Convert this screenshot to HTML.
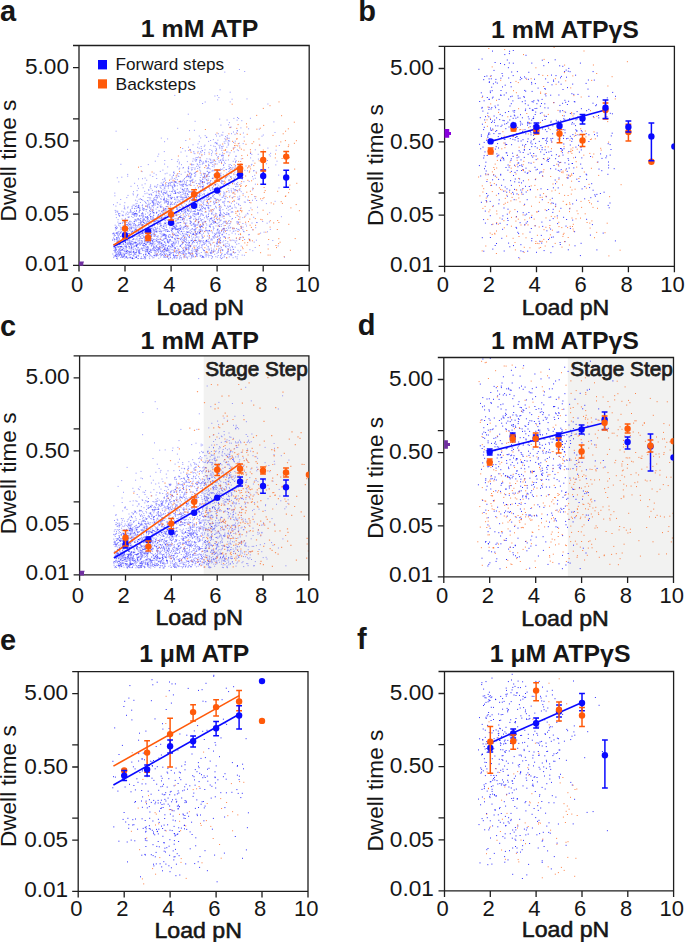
<!DOCTYPE html>
<html><head><meta charset="utf-8"><style>html,body{margin:0;padding:0;background:#fff;width:685px;height:942px;overflow:hidden}svg{display:block}</style></head>
<body><svg width="685" height="942" viewBox="0 0 685 942" font-family="'Liberation Sans', sans-serif" fill="#161616"><clipPath id="clipa"><rect x="79.0" y="45.5" width="230.2" height="219.89999999999998"/></clipPath>
<clipPath id="clipb"><rect x="444.6" y="46.4" width="229.79999999999995" height="219.9"/></clipPath>
<clipPath id="clipc"><rect x="79.6" y="355.8" width="229.29999999999998" height="218.99999999999994"/></clipPath>
<clipPath id="clipd"><rect x="443.8" y="357.5" width="229.7" height="219.39999999999998"/></clipPath>
<clipPath id="clipe"><rect x="78.2" y="671.7" width="229.8" height="219.69999999999993"/></clipPath>
<clipPath id="clipf"><rect x="444.5" y="671.5" width="229.10000000000002" height="219.39999999999998"/></clipPath>
<rect x="203.7" y="355.8" width="105.2" height="219.0" fill="#f2f2f1"/>
<rect x="567.8" y="357.5" width="105.7" height="219.4" fill="#f2f2f1"/>
<g clip-path="url(#clipa)">
<path d="M203.9 194h1M148.8 206.6h1M142.6 245.3h1M127.8 237.4h1M127.4 214.5h1M250.3 208h1M167.2 231.5h1M180.3 188.1h1M222.9 236.8h1M156.4 254.1h1M196.1 197.6h1M227.3 254.1h1M165 236.6h1M216.5 169.5h1M210.6 218.3h1M115.2 251h1M177.2 238.1h1M156.8 207.4h1M124 241.6h1M198.6 193.5h1M223 165.4h1M206.5 183.4h1M208.3 208.8h1M219.7 220.2h1M135.1 200.2h1M163.1 246.4h1M186.5 189.1h1M206.2 177h1M208.6 168.4h1M169 231.5h1M115.2 249.3h1M200.1 231.2h1M210.7 253.5h1M161.8 240.4h1M146.7 249.9h1M184.8 253.2h1M171.9 227.1h1M130.1 254.5h1M158.9 223.5h1M256.1 200.5h1M194.6 219h1M147.7 236.9h1M207.6 207.5h1M119.5 252.8h1M215.1 198.5h1M204.1 208.4h1M138.6 199.3h1M168.8 210.9h1M249.9 118.3h1M196.8 233.9h1M139.9 202.5h1M213.3 161.8h1M220.1 233h1M200.4 186.1h1M204.5 204.9h1M198.2 218.8h1M222.2 181.1h1M170.4 194h1M189.9 221.2h1M213.6 221.8h1M190.2 198.7h1M230.9 203.2h1M197.3 201.6h1M163.4 199.1h1M156.7 222.2h1M179.9 192.5h1M164.2 223.4h1M172.1 197.6h1M254.7 247.5h1M172.1 187.6h1M157.4 249.6h1M236.4 186.6h1M134.5 242.2h1M160.8 232.1h1M240.7 191.7h1M212.2 243h1M210.9 197.9h1M234.7 166.7h1M263.6 232.2h1M208.9 226.6h1M130.4 234.1h1M174.2 186.6h1M195.7 197.7h1M195.3 237.3h1M208.4 165.3h1M139 250.9h1M185.1 217.1h1M115.9 233.5h1M206.2 205.3h1M149.5 187.2h1M248.1 128.8h1M152.7 192.5h1M249.4 249.7h1M166.5 256.8h1M209.4 219h1M212.2 212h1M160.4 201.8h1M120.8 256h1M192.7 158.8h1M202.8 215.4h1M173.8 185.9h1M186.1 196.7h1M129.6 244.2h1M156 191.2h1M115.8 228.8h1M188.2 211.1h1M159.9 224.1h1M131.8 208.1h1M145.1 202.5h1M116.8 202.7h1M228.5 166.5h1M149 222.8h1M204 250.7h1M205.6 254.1h1M192.5 144.8h1M238.7 252h1M228.6 175.7h1M118.6 242.1h1M177.8 252h1M162.7 185.2h1M216 207.9h1M204.6 212.3h1M177 209h1M132.8 225.4h1M240.4 127.9h1M127.9 217.3h1M154.5 250.7h1M199.4 167.1h1M168.8 222.4h1M143.4 222.6h1M145.2 244.6h1M243.9 255.3h1M139.2 239.1h1M252 200.3h1M191.1 236.1h1M185 209.4h1M150.8 243.7h1M124.9 237.4h1M220.3 256.2h1M196.8 249.7h1M211.1 153.6h1M135.4 203.9h1M159.8 249.1h1M191.2 231.5h1M150.1 209.4h1M196.9 157.7h1M119.9 243.9h1M174.3 95.4h1M232.1 169h1M137.3 258.6h1M226.6 243.4h1M213.3 249.2h1M224.6 221.2h1M176.9 185.8h1M176.4 226.5h1M156.9 217.1h1M173.8 184.7h1M214.6 184.7h1M238.3 198.9h1M166.7 254.9h1M180.8 257.4h1M119.1 239.2h1M149.7 240.3h1M116.4 241.3h1M141.8 225.9h1M217.1 186.9h1M154.7 250.4h1M176.8 250.2h1M157.3 239.4h1M231.1 253.8h1M121.4 257.2h1M128.9 224.3h1M188.7 242.8h1M217.9 232.7h1M191.2 174.5h1M138.4 206.7h1M207.9 161.6h1M117.1 251.5h1M228.3 140.5h1M212.7 226.6h1M220.3 186.9h1M173.8 181.8h1M214.9 184.7h1M150.1 250.8h1M153.2 223.8h1M219.5 208.7h1M220.7 258.7h1M169.3 227.9h1M191.3 204.4h1M115.2 212.3h1M164.9 238.1h1M205.9 175.7h1M194.1 242.3h1M208.5 250.6h1M198.2 221.5h1M160.3 218.2h1M191.4 180.8h1M127.6 217.1h1M127.1 243.1h1M146.9 216.5h1M125.8 233.4h1M212 152h1M193 193h1M157.7 191.2h1M129.6 257.5h1M229.5 152.8h1M228.7 192.2h1M214.7 146.6h1M168.7 234.5h1M165.9 235.8h1M163.4 209.8h1M267.4 148.1h1M140.2 218.9h1M211 185.1h1M164.9 218h1M147.3 212.9h1M212.4 193.8h1M128.7 248.7h1M139.3 238.4h1M153.3 221.7h1M221.6 214.8h1M255.7 172h1M217.7 231.2h1M133.4 224.3h1M128.6 252.1h1M136 256.9h1M123.8 246.2h1M196.3 249.6h1M165 223.6h1M156.3 212.7h1M124.2 222.1h1M151.2 226.7h1M179.9 246.2h1M248.7 181.4h1M188.4 231.8h1M132.6 252.6h1M242.6 193.6h1M207.3 202.3h1M131.5 248.1h1M154.3 235.9h1M116 256.2h1M193 234.5h1M237.5 254.6h1M133.2 247.9h1M117.5 237.3h1M230.7 188.9h1M199.2 192.7h1M164.4 249.2h1M139.1 208.2h1M213.3 237.7h1M143.5 218.3h1M155.9 220.7h1M189 130.6h1M231.3 246.3h1M185.3 205.4h1M173 208.3h1M221 162.2h1M159.6 233.4h1M122.9 244.2h1M197.5 224.2h1M237.6 221.8h1M182.4 243.5h1M235.2 169.1h1M129 227.1h1M125 242.8h1M181.4 211.6h1M144.3 250.8h1M134.7 220.2h1M207.3 174.7h1M211.8 256.6h1M125.3 220.1h1M148.3 242.6h1M223.2 164.8h1M120.1 246.5h1M169.5 182.6h1M208.9 176.4h1M166.3 201.6h1M146 217.8h1M180.1 222.5h1M180.6 217.7h1M182.2 148.5h1M156.1 231.8h1M181.1 241.2h1M113.2 257.6h1M131.1 229h1M210 253.2h1M124.1 255.2h1M184.9 192.1h1M154.8 161.2h1M187.2 185.7h1M207.6 241.8h1M168.3 199.9h1M218.4 173.2h1M169.4 254.8h1M183.8 237.9h1M164.2 256h1M190.7 207.9h1M173.2 189.7h1M170.5 179.2h1M169 254.2h1M189.5 184.8h1M180.1 245.5h1M175.3 193h1M163.6 249.2h1M217.2 157.3h1M133.7 213.9h1M133.7 215.2h1M202.8 256.9h1M187.7 251.8h1M163.1 213.8h1M146.4 217.2h1M210.6 239.1h1M173.8 234.5h1M158.2 251.3h1M225 237.3h1M124.7 225.2h1M220 251.2h1M208.5 208h1M194.9 211.5h1M114.7 210.4h1M236.5 222.9h1M198.7 148.2h1M207.3 219.2h1M146.5 206h1M232.9 196.9h1M186.2 197.4h1M143.6 245.9h1M174.1 213.6h1M126.4 257.3h1M135.9 216.2h1M181 238.1h1M218.6 204.9h1M131.2 247.4h1M193.5 192.3h1M152 201.7h1M163.9 203h1M204.6 177.6h1M134.8 242h1M219.3 217.1h1M226.8 176.3h1M199 226.8h1M215 222.6h1M142.7 224.8h1M182.6 240h1M176.9 161.6h1M133.7 223.5h1M222.2 155.6h1M201.9 256h1M113.8 236.1h1M181.4 185.8h1M119.9 253.4h1M182.8 186.5h1M159.1 210.8h1M158.2 154.1h1M130.6 212.2h1M233.3 240.3h1M240.5 175.8h1M113.4 244.9h1M168.8 217.2h1M179.8 246h1M167.7 186.5h1M114.4 252.1h1M184 240.3h1M204.1 154.2h1M126.2 222.4h1M223.1 160.2h1M144.8 240.4h1M150.1 211.4h1M203.8 243.2h1M195.7 250.2h1M201.7 186.6h1M128.4 246.8h1M176.3 213.8h1M142.8 214h1M175.2 235.3h1M179.4 256.7h1M172.3 237.8h1M211.3 193.3h1M238.9 69.5h1M204.5 173.4h1M188.5 203h1M232.7 161.3h1M286.1 160.6h1M196.3 254.4h1M162.8 182.3h1M139.4 208.1h1M118.2 256.3h1M173.1 226h1M140.5 238.3h1M203.1 202.7h1M155.7 236.6h1M173.5 184.9h1M169.6 209.4h1M135.9 252.4h1M206.1 240.5h1M183.7 220.1h1M143.5 220h1M184.1 241.4h1M197.7 214.5h1M242.3 217.6h1M135.8 229.2h1M178 228.4h1M165 220.3h1M267 231.8h1M216.6 181.3h1M156.6 241.6h1M165.5 184.8h1M118.8 246.3h1M176.7 229.1h1M121.6 254.2h1M179.4 216.9h1M218.8 235.2h1M196.7 163.9h1M192.1 204.5h1M157.2 184.7h1M175.6 236.9h1M219.8 175.8h1M192.9 223.3h1M160.3 198.5h1M160.7 185.8h1M145.4 246.2h1M126.3 197.6h1M191.4 165.2h1M141.8 214h1M163.5 192.8h1M197.8 239h1M117 233.9h1M228.7 254.3h1M201.9 248.2h1M234 204.9h1M149.7 249.2h1M163.9 198.4h1M227.6 248.5h1M220.6 180.2h1M177.9 253.4h1M240.8 228.3h1M140 220.7h1M142.6 215.3h1M197 212.8h1M168 183.6h1M231.6 233.1h1M172.4 210.1h1M176.1 250.4h1M188.2 176.2h1M130.6 221.7h1M171 230.6h1M200.5 240.5h1M183.3 235.4h1M163.6 217.9h1M236.2 240.8h1M160.2 239.4h1M134.2 213.8h1M177.9 217.8h1M158.2 210.9h1M116.5 244.7h1M189.2 180.9h1M161.7 246.9h1M199.9 230h1M128.2 213h1M161.3 254.3h1M161.2 255.6h1M134.5 256.8h1M253.1 170.9h1M121.8 223.2h1M126.8 253.1h1M230.6 127.1h1M153.5 204h1M157.2 220.7h1M185.4 201.3h1M165.6 229.5h1M199.6 226.3h1M142.3 248.1h1M178.5 196.6h1M174.5 242.2h1M146 223h1M115.7 256.5h1M133.3 250h1M225.2 139.7h1M219.2 214.3h1M188.8 198.6h1M211.9 222.1h1M168.2 258.8h1M123.5 230.5h1M235.1 161.6h1M116.6 242.8h1M203.2 191h1M189.4 220.8h1M140.3 234.2h1M179.8 252.7h1M226.1 208.4h1M147.5 236.6h1M215.7 148.4h1M220.4 159.9h1M152.3 217.1h1M219 230.9h1M153.1 202.1h1M188.2 241h1M193.2 206.6h1M186.6 200.7h1M164.6 238.4h1M150.4 239.2h1M202.4 256.7h1M184 178.5h1M225.7 169.5h1M166.9 247.6h1M164.6 201.2h1M133.4 252.2h1M166.8 229.6h1M201.6 231.5h1M237 117.5h1M127 229.4h1M114.5 250.3h1M140.6 258.6h1M118.5 213.5h1M162.5 185.6h1M121.4 252.8h1M150.3 216.6h1M200.8 219.8h1M140.7 221.5h1M183.8 227.7h1M171.3 159.5h1M204.7 135.7h1M143.8 243.5h1M119 234h1M157.8 215h1M177.4 235.8h1M185.5 239.1h1M148.3 203.1h1M137 214.9h1M185.2 197.4h1M191.6 179.7h1M118.5 231.4h1M147.3 241.8h1M136.6 232.2h1M192.5 198.6h1M185.4 234.8h1M245.5 215h1M143.2 219.2h1M274.5 132.5h1M124.5 244.9h1M184.1 251.1h1M153.3 203.9h1M135.9 211.3h1M129.6 223.2h1M196.3 214h1M220 211.9h1M227.3 241.7h1M168.1 235.8h1M193.9 206.2h1M130.5 234.5h1M182 237.1h1M189.6 218.1h1M166.6 199.5h1M163.4 249.7h1M194.6 121.3h1M124.9 240.1h1M120.2 246.8h1M166.1 193h1M152.6 229h1M135.6 257.4h1M171.8 204.6h1M199.7 233h1M144.9 216.5h1M199.9 218.6h1M148.7 242.1h1M161.4 227.6h1M178.3 201.1h1M176.1 242h1M172.1 229h1M146.9 205.1h1M156 231.1h1M184.8 242h1M194.6 160.2h1M207.2 184.2h1M139.1 210.7h1M210.5 197.8h1M126.8 229.9h1M222.3 154.8h1M234 252.9h1M132.4 241.3h1M205.8 216.5h1M168.5 182.9h1M227.9 159.9h1M158.4 241.9h1M126.5 229.2h1M157 216.9h1M218.7 205h1M221.3 156h1M196.9 242h1M164.3 192.4h1M156 200.1h1M184.6 195.1h1M125.3 229.8h1M136.5 203.4h1M234.3 172.2h1M125.7 250.9h1M154.5 186.8h1M114.3 193.1h1M168.6 241.6h1M154.6 220.7h1M116.8 254.9h1M162.6 252h1M188.1 228.3h1M185.6 184.3h1M145.1 206h1M138.5 236.3h1M223.7 203.8h1M219.2 224.8h1M152.3 176.5h1M191.9 228.9h1M156.2 254.6h1M142.1 233.4h1M196.7 202.7h1M204.5 174.1h1M165.4 231.6h1M242.5 227.1h1M167.4 242.2h1M217.2 99.9h1M170.6 182.2h1M197 232.3h1M194.6 229.8h1M248.3 239h1M156.2 251.9h1M149.6 243.9h1M156.4 232.1h1M143.3 258.4h1M169.8 209h1M195.4 196.6h1M166.1 200.5h1M193.1 233.5h1M194.3 176h1M192.5 215.5h1M151.7 210h1M190.7 175.2h1M146.3 247.5h1M184.3 247.1h1M139.9 198.7h1M232.4 167.4h1M182.3 233.5h1M160.7 191.2h1M155.2 230.1h1M118 215h1M147.1 249.9h1M189 205.1h1M160.6 225.1h1M235 165.4h1M161.4 211.8h1M117.8 252.9h1M228.6 180.8h1M149.5 243h1M179.8 219.9h1M236.1 228.5h1M161.2 252h1M227.1 251.2h1M147 218.9h1M140.4 258.4h1M165.6 202.7h1M132.9 194.9h1M212.2 233h1M229.6 230.8h1M169.5 225.8h1M133.7 205.2h1M124.9 218.4h1M173.7 227.3h1M224.4 143.4h1M212.6 160.2h1M184.8 150.9h1M115.1 248h1M125.6 233.7h1M208.3 205.6h1M194.5 229.2h1M152.5 250.1h1M212.6 170.2h1M235.4 190h1M193.2 207.4h1M145.1 220.5h1M197.4 210.5h1M175 248.7h1M165.9 227.4h1M191 164.1h1M193.6 199.3h1M158.4 224.1h1M202.7 242.3h1M198.5 233.7h1M168.1 258.9h1M215.1 206.3h1M125.2 233.5h1M173 255.4h1M152.5 219.9h1M227.4 183.9h1M136.9 195.6h1M141.4 215.8h1M204.2 176.7h1M198.8 221.8h1M144.2 256.8h1M158.4 250.3h1M149.7 231.6h1M127.7 254.9h1M196.1 233.6h1M205 165.7h1M177.1 235.2h1M201.2 230.1h1M248.9 234.6h1M149.5 200h1M117.8 241.9h1M173.5 226.4h1M125.6 256.5h1M190.2 177.8h1M223.5 225.7h1M218.4 248.2h1M254.9 184.2h1M181.9 243h1M115.4 254.1h1M149.8 241.6h1M166.2 236h1M144.5 193.7h1M175.9 253.2h1M250.9 165h1M175.3 211.8h1M199.7 158h1M123.2 221.8h1M141.8 241.9h1M266.6 223.2h1M198.8 195.9h1M225.9 233.6h1M152.5 241.6h1M171 198.4h1M175.9 207.5h1M192 191.4h1M213.9 219.6h1M206.4 158.8h1M173.4 216.5h1M211.8 166.5h1M163.6 199.4h1M116.6 258.2h1M276.5 161.2h1M193.2 203.5h1M269.2 212.7h1M157.7 248h1M155.8 174.8h1M170.3 253.5h1M139.4 240.4h1M196.8 251.9h1M197.9 246.7h1M194.6 230.8h1M198 157h1M119.7 252.3h1M153.2 230.3h1M185.6 185.8h1M129.2 255.7h1M185.1 184.5h1M218.3 189.6h1M120 232.7h1M148.1 241.3h1M171.8 178.1h1M158 214.5h1M162.9 219.5h1M142 220.8h1M124.1 222.1h1M196 219.5h1M205.9 137.3h1M116.1 254.3h1M237.8 229.4h1M133.5 239.1h1M132.3 236.8h1M153.8 255.8h1M128.7 228.1h1M139.7 210.4h1M149.9 242.7h1M197.9 187.9h1M135.7 231.9h1M154.2 241.7h1M147.6 229.5h1M125.8 248.1h1M195.2 180.9h1M153.4 246.4h1M162 254.5h1M185.4 248.4h1M118 213.8h1M186 182.8h1M151.4 231h1M155.3 199.6h1M219.5 238.7h1M131.6 206.4h1M124.4 240.6h1M246.9 213.3h1M203.8 221.3h1M163 252.1h1M200.3 214h1M186.3 156.2h1M200.7 255.5h1M202.4 184.3h1M155.3 203.3h1M131.7 243.9h1M224.3 72.1h1M192.7 242.1h1M133.6 223.2h1M184.4 236.5h1M163.3 208.2h1M190.2 204.8h1M143 255h1M160 251.4h1M163 234.2h1M199.9 209.4h1M219.7 170.4h1M267 160.5h1M248.2 200.4h1M129.2 241.3h1M254.8 198.6h1M239.1 198.3h1M123.1 226.4h1M158.4 243.6h1M131.7 258h1M183.6 256h1M152.8 229.4h1M114.9 235.6h1M134.3 208.6h1M203.8 182h1M203 233.2h1M193.7 182.1h1M132.8 251.9h1M181.9 181.7h1M170 236.2h1M217.8 156.5h1M224.2 237.4h1M158.2 190.5h1M183.1 235.2h1M119.5 248.9h1M197.6 143.9h1M176 209.3h1M225.9 177.1h1M179.3 200.9h1M211.7 209.6h1M151.6 256.5h1M161 211.2h1M126.9 238.9h1M192.3 200.1h1M186.3 198h1M145 214.2h1M199 232.5h1M216.7 230.2h1M226.3 214.1h1M200.2 187.2h1M174 247.3h1M163.5 228.7h1M131.9 231.6h1M198.4 240.4h1M175 192.2h1M119 255.5h1M228.5 244.1h1M131.2 245.7h1M119.3 243h1M173.9 191.3h1M154.7 235.3h1M244.8 196.8h1M135.2 226.2h1M138 251.2h1M174.2 226.9h1M252.5 160.8h1M209.2 241.9h1M185.6 256.3h1M135.5 245h1M145 237h1M147.8 164.6h1M174.5 202.9h1M251.3 154.4h1M200.2 215.2h1M144.8 234h1M207.6 246.4h1M230.8 212.2h1M142.1 212.5h1M234.7 189.5h1M211.1 155.2h1M126.2 238.5h1M157.5 218.3h1M222 229.7h1M213.6 238.2h1M228.6 215h1M186.2 248.8h1M138.2 222.8h1M114.8 227.9h1M162.9 246.2h1M147.9 204.8h1M249.6 240.9h1M200.7 200.9h1M234.9 242.6h1M177.6 232.2h1M150.6 255.8h1M183.1 221.4h1M183.1 240.3h1M200.1 160.2h1M217.2 239.7h1M130.7 227.5h1M159.7 195h1M172.3 245.8h1M148.4 190h1M135 224.6h1M222.1 234.2h1M223.5 167.6h1M129.1 229.9h1M180.7 174.3h1M172.5 252.5h1M163.1 194.1h1M190.6 229.6h1M134.7 254.4h1M135.3 219.9h1M236.6 130.7h1M135.7 213.5h1M131.1 231.9h1M131.9 227.2h1M209.4 255.5h1M191.6 169.6h1M187.3 174.4h1M257.2 212.8h1M150.3 219h1M167.8 246.5h1M171.8 186.7h1M208.1 141.4h1M211.4 238.9h1M142.3 219.2h1M193.3 151.5h1M189.4 253.6h1M193.4 153h1M228 221.3h1M115.7 211.1h1M138.1 255.3h1M115.9 217.6h1M161.1 192.5h1M146.9 249.8h1M180.1 225.3h1M200.1 183.1h1M263.8 178.8h1M186.3 231.5h1M177.7 159.8h1M171 209.2h1M167.9 237.1h1M217.2 239.7h1M214.2 235.5h1M228.4 179.5h1M224.4 138.7h1M129.2 235.7h1M223.1 212.8h1M240.9 227.6h1M175.7 177.4h1M146.2 180.2h1M199.4 184.5h1M180 239.7h1M185.8 191.1h1M178.1 192.8h1M172.5 246.6h1M153 212.5h1M125.4 246.3h1M242.4 223.5h1M217.2 229.3h1M188.3 210.4h1M147.5 221.7h1M148.7 215.4h1M155 227.8h1M145.1 251.9h1M124.9 234h1M135.9 230.3h1M207.7 233.2h1M225 136.6h1M155.4 195.7h1M151.3 216.9h1M205.6 256.8h1M178.2 241.1h1M169.8 252.1h1M152.4 228.1h1M227.6 249.3h1M220.7 220.1h1M135 252.5h1M124.3 258.2h1M146.8 237h1M142.8 222.6h1M169.6 239.7h1M120.9 255.8h1M200.9 220.9h1M124.3 238.4h1M270.1 153.3h1M142.2 230.7h1M199.4 204.2h1M137.6 243.7h1M158.9 203.1h1M199.9 231.4h1M190.1 223.6h1M186.9 258.7h1M120 250.8h1M207.9 167.1h1M182.3 252.1h1M138.6 244h1M204.3 173.8h1M117.2 242.1h1M122.9 254h1M156.9 204.4h1M142.1 228.3h1M180.1 182.1h1M209.2 211.1h1M140.5 224h1M235.1 217.5h1M212.6 188.8h1M135.3 257.6h1M167.1 138.9h1M202.3 186.5h1M142.1 204.9h1M201.7 197.1h1M240.8 158.9h1M141.2 215.2h1M180.6 196.9h1M257 207.2h1M209.3 172.5h1M178.3 249.4h1M171.3 244.4h1M234.5 134.3h1M222.7 146.2h1M156.9 236.3h1M189.4 200.5h1M168.4 210.8h1M178.1 222.7h1M184.3 254.7h1M206.6 175.4h1M212.9 210.3h1M117.4 243.2h1M209 230.4h1M176.1 212h1M193 224.2h1M219.3 148.2h1M199.8 209.8h1M149.5 238h1M261.5 136.2h1M203.4 222.3h1M165.4 186.5h1M209.1 188.6h1M170.2 204.6h1M225.8 192.1h1M230.7 173.5h1M164.5 202.1h1M128.9 243h1M153.7 230.5h1M192.1 243.8h1M229.6 247.8h1M217.4 239.7h1M166.4 191.1h1M142.1 213.5h1M119.5 204.3h1M135.4 242.6h1M223.5 232.8h1M215.9 233.2h1M221.6 249.7h1M156.7 196h1M192.8 200.1h1M187 235.4h1M182 248.7h1M237 130.8h1M173.3 252.2h1M154.6 200.7h1M127.2 207.9h1M187.3 234.6h1M209.7 252.6h1M235.7 160.7h1M133.9 221.6h1M131.1 246.6h1M169.4 223.6h1M197.5 231.7h1M207.7 239.6h1M190 233.1h1M215.2 134.4h1M127.8 251.4h1M156.8 198h1M178.3 217.5h1M143.4 248h1M219.8 209.1h1M159.7 219h1M126.4 232.8h1M222.4 209.6h1M186.2 201.2h1M175.9 225.1h1M142.7 187.8h1M171.8 214.6h1M191.2 193h1M186.3 176.3h1M148.8 256.9h1M116.4 247.7h1M167.4 255.4h1M179 216.8h1M163.7 199.2h1M210.7 252h1M192.3 198.3h1M190.5 217.5h1M132.6 233.6h1M180.4 192.2h1M183.6 222.9h1M223.1 244.4h1M181.3 231.5h1M131.5 208.2h1M191.6 180.6h1M150.8 219.3h1M228.7 220.6h1M176.6 202h1M216.1 213.8h1M226.4 212.6h1M178.5 173.5h1M126.6 252.3h1M137 245.1h1M120.7 232.8h1M200.4 198.9h1M139.4 228.8h1M181.1 211.7h1M177 192.6h1M214.7 201.9h1M269.8 229.4h1M148.9 204.8h1M165.4 234.7h1M139 249.8h1M158.9 241.9h1M222.4 250h1M197.4 250.4h1M147 242.8h1M190.8 222.2h1M173.4 193.5h1M235.6 156.1h1M161.8 214h1M235.7 174.5h1M222.9 174.8h1M236.2 203.2h1M231.9 208.1h1M208.1 257h1M241.7 179.3h1M140.8 233.5h1M259.5 145.1h1M141.3 248.7h1M153.5 173.2h1M211.4 213.8h1M131.8 223.1h1M236.2 244.2h1M122.3 222.8h1M157.7 201.8h1M139.4 245.1h1M199.8 190.3h1M116.6 256.1h1M128.2 235.4h1M215.3 142.4h1M167.7 255h1M165 249.9h1M239.4 190.3h1M126.2 257.4h1M215 216.3h1M224.1 256.9h1M127.7 226h1M176.1 215.7h1M117.2 212.2h1M192.9 241.6h1M161.2 243.5h1M189.6 246.1h1M171.5 244h1M174.6 181.6h1M228.6 155.1h1M167.2 204.2h1M204.7 207.8h1M200.9 213.7h1M147.8 229.8h1M247 200.1h1M196.7 256.3h1M198.1 212.7h1M132.5 193.8h1M220.7 214.1h1M156.1 219.8h1M199.8 227.6h1M194.9 188.1h1M146.6 219.9h1M145.2 254.4h1M156.2 178.5h1M165.3 245.3h1M239.2 196.2h1M181.9 207.4h1M133.2 251.6h1M181.6 220.1h1M164.2 253.9h1M231 133.7h1M120.3 228.1h1M214.6 163.6h1M141.8 224.9h1M182.5 242.2h1M187.1 180.5h1M210.1 193.2h1M122.6 248.8h1M140.3 242.2h1M159.5 229.3h1M208.2 230.8h1M233.5 189.8h1M130.4 225.6h1M196 251.4h1M253.2 217.3h1M210.7 162.3h1M149.4 254.7h1M136.4 244.6h1M210.7 163h1M194.3 216.7h1M175.7 182.2h1M211 250.8h1M176.2 235.4h1M187.8 253.4h1M145.6 221.7h1M232.6 257.7h1M181 164.7h1M184.7 196h1M116.4 246.1h1M239 230.1h1M125.1 253.1h1M153 212.4h1M267.4 104h1M133.6 221.4h1M192.5 179.2h1M173.5 183.2h1M213.6 192h1M228.3 190.6h1M244.6 216.3h1M232.3 228h1M131.3 247.3h1M228.1 144.1h1M210.1 159.3h1M152.5 209.7h1M223.7 216h1M191.2 170h1M154.5 243.8h1M181.7 199h1M191.4 257.2h1M162.6 235.5h1M205.7 161.2h1M138.1 252.2h1M193 219.2h1M189.8 245.9h1M143.9 240.1h1M215.1 202.8h1M147.4 223.4h1M257.7 154.3h1M221.3 150.3h1M176.1 208.1h1M232.8 252.2h1M130.9 241.1h1M128.1 243.3h1M280.9 216.7h1M157.6 255.3h1M125.2 229h1M116.3 232.5h1M160.8 251.9h1M204.7 195.9h1M223.2 193.9h1M186.6 227.7h1M154.2 227.4h1M125.5 234.8h1M173.4 171.8h1M227.4 201.7h1M224.2 198.5h1M218.5 222.4h1M205 230.3h1M216.6 217.4h1M119.3 251.5h1M119.1 216.2h1M201.9 226.5h1M236.1 175.2h1M222.4 223.7h1M123.5 255.8h1M147.1 251.8h1M222.4 132.3h1M144.7 257.3h1M157.1 228.6h1M171.4 246.1h1M170 195.4h1M222.4 160.4h1M129.4 251.3h1M224.9 222.1h1M182 199.9h1M180.5 199.5h1M136.6 213.7h1M207.5 194h1M189.9 197.4h1M116.7 232.6h1M139.6 253.3h1M248.1 234.8h1M187.2 226.4h1M225.7 183.8h1M228.9 122.6h1M116.2 249.7h1M130.6 249.9h1M123.9 250.3h1M182.3 186.1h1M216 143.4h1M236.5 221.6h1M202.3 219.5h1M211.4 224.5h1M244.1 239.5h1M170.7 249.7h1M140.1 223.2h1M224.8 244h1M236.6 120.2h1M182.2 192.1h1M176.7 197.2h1M224 213.4h1M153.9 249.7h1M171.8 186.1h1M197 247.7h1M190 183.1h1M162.2 184h1M133.9 211.4h1M214.2 221.9h1M138.5 249.1h1M227.1 230.2h1M244.9 202.2h1M175.3 182.3h1M164.6 229.8h1M161 243h1M211.5 218h1M187.8 194.6h1M180.2 204.4h1M182.3 219.5h1M127.2 250.7h1M154.5 252.8h1M173.1 172.5h1M224 162.2h1M177.3 202.4h1M218.4 97.6h1M206.3 225.1h1M156.4 255.5h1M133.3 243.2h1M191 205.5h1M227.3 138.4h1M126.3 235.5h1M144.9 241.2h1M185.8 249.4h1M146.2 249.3h1M124.8 241.2h1M255.2 227.7h1M135 213.8h1M183.8 207.5h1M203.8 244.5h1M183.5 231.4h1M232.7 252h1M131.4 243.5h1M223.1 196h1M187.4 175.6h1M229.7 127.3h1M201.8 164.2h1M149.4 211.7h1M149 253.6h1M137.5 207.3h1M239.2 146h1M164.1 248.8h1M198 219.7h1M163.6 226h1M164.1 234.3h1M212.5 170.9h1M160.4 225.5h1M217.5 202.4h1M153.9 197.7h1M238.8 143.3h1M164.2 222.9h1M194.4 153.7h1M194.6 168h1M153.6 231.3h1M190.4 233.2h1M158.3 249.3h1M212.7 252.1h1M146.6 223.5h1M114.1 247.5h1M156 187.5h1M123.6 227.5h1M160.3 253.5h1M205.3 160.8h1M201.7 244.5h1M221 183.6h1M180.5 152.1h1M200.8 226.3h1M126.9 250.5h1M123.7 208.6h1M214 194.5h1M199.3 205.5h1M201.9 194.8h1M148.5 225.1h1M188.3 172.3h1M235 186.6h1M121.3 244.2h1M208.8 193.7h1M212.2 236.8h1M155.1 219.4h1M190.1 173.1h1M152.1 211.5h1M165 193.2h1M174.8 243.9h1M181.2 251.5h1M240.3 237.5h1M174 223.9h1M167.4 256.9h1M186.5 189h1M208.4 165.6h1M191.5 192.2h1M197.7 222.1h1M199.2 241.7h1M220 169.1h1M159.3 254.4h1M194.1 223.9h1M225.3 245.9h1M191.5 238.1h1M187.9 168.8h1M129.5 247.8h1M186.9 209h1M174.2 227.9h1M146.9 233.2h1M166.4 209.1h1M174.4 198.9h1M222.7 215.7h1M255.9 240.2h1M162.9 235.1h1M251.5 223h1M156.1 246.3h1M181.7 189.6h1M130.9 251.2h1M178.4 214.6h1M210.1 140.5h1M185.7 226h1M173.3 221.6h1M216 200.1h1M184.7 226.1h1M201.6 238.4h1M120.4 254.3h1M221.6 148.5h1M137.2 230.6h1M217.7 255.5h1M177.3 209.6h1M179.2 252.3h1M164.9 208.4h1M146.3 241.8h1M219.7 215.2h1M138.4 234.3h1M188.9 236.8h1M206.8 180.8h1M212.1 187.7h1M122.7 225.4h1M197.9 183.7h1M147.9 247.8h1M215.4 234.1h1M197.9 166h1M185.1 249h1M160.9 245.6h1M142 249.1h1M273.4 121.9h1M225.7 169.6h1M166.3 182.6h1M187.8 167.7h1M124.1 235.9h1M196.3 255.7h1M191.8 240.6h1M213.6 159.7h1M184 251.8h1M129.9 209.9h1M208.9 220.4h1M117.4 240h1M207.2 230.5h1M114.8 250.2h1M252.2 189.8h1M194.6 194.7h1M254.8 178.3h1M166.1 198.7h1M137.9 225.5h1M226.3 173h1M165.8 250.6h1M129.2 246.6h1M133.4 243.2h1M153.6 255.3h1M191.7 228.7h1M141.5 238.5h1M274.6 201.3h1M227.3 252.1h1M167.2 248.6h1M192.9 234.4h1M182 189.1h1M138 230.8h1M138.8 211.9h1M203.7 190.8h1M117.4 222.1h1M178.5 233.4h1M142.3 250.4h1M155.9 213.1h1M148.1 190h1M219 204.5h1M179.9 229.4h1M192.6 233.1h1M143.8 208.8h1M123.1 248.3h1M132.5 217.5h1M172.7 228.4h1M185.7 245.1h1M214.7 250.9h1M169.7 221.5h1M221.3 146.5h1M168.2 242.6h1M240.6 183.3h1M138 230.8h1M162 251.3h1M142.1 232.5h1M167.2 249.7h1M142.3 217.4h1M194.4 173h1M172.5 217.1h1M164.4 247.1h1M209.6 198.8h1M163 255.4h1M179.4 181.3h1M175.5 238.4h1M151 245.9h1M180.4 196h1M198.4 241.2h1M210.6 252.3h1M198.9 207.2h1M174.2 199.4h1M181.5 205.8h1M152.4 224.4h1M114.5 251.2h1M136.3 208.3h1M155.7 255.3h1M215.9 243h1M149 229.3h1M171.2 237.1h1M241.7 255.1h1M185.4 177.5h1M226.9 222.9h1M230 206.1h1M182.4 253.1h1M220.9 224.6h1M200.4 209h1M228.4 171.5h1M182.8 250.5h1M230.5 176.9h1M215.5 225.9h1M228.3 246.4h1M182.8 236.4h1M169.5 247h1M170.6 230h1M193 241.2h1M132.3 230.8h1M149.3 221.8h1M170.7 244.1h1M207.7 206.9h1M222.4 186.8h1M217.5 174.3h1M241.7 168h1M112.2 239.4h1M163.5 200.3h1M169.3 252.3h1M184.3 182.8h1M142.3 224.6h1M173.8 245.2h1M169.1 239.7h1M198.8 141.7h1M189.1 242.5h1M132.6 255.4h1M167.7 195.6h1M165.2 248h1M150.5 229.2h1M167.8 195.1h1M234.9 256.8h1M211.5 253h1M144.1 245.5h1M202.1 103.5h1M154 236.2h1M136.9 219.1h1M238.7 199.7h1M210.8 248.1h1M182.3 185.1h1M186.4 176.5h1M207.2 231.9h1M124 234.2h1M130.6 244.1h1M149.8 203.4h1M120.3 236.3h1M120.8 241.3h1M113.4 256h1M132 258.5h1M164.5 242.1h1M249.2 202.5h1M195.3 218.2h1M170.6 199.1h1M219.7 212.6h1M134.1 183.3h1M218.3 238.5h1M144.6 183.8h1M127.2 244.4h1M143.2 216.1h1M138.1 219.1h1M174.9 255.4h1M227.6 238h1M250.1 153.4h1M153.3 247.3h1M120.4 231.9h1M130.3 245.2h1M143.5 226h1M125 228.5h1M173.5 243.3h1M223 231.9h1M183.4 179.8h1M159.3 244.8h1M149.1 207.7h1M186.5 191h1M225.8 228.4h1M169.7 205h1M133.5 246.6h1M132.9 244.8h1M199.7 255.2h1M233.9 168.3h1M129.4 240.6h1M124.1 207.3h1M128.6 252h1M254.8 149.8h1M178.7 211.6h1M157.4 215.8h1M153.1 239.5h1M173.9 185.2h1M158.7 243h1M199.1 167.7h1M141.7 227.2h1M208.9 249.3h1M161.2 231.4h1M181.5 235.1h1M144.2 242h1M141.7 205.6h1M164.7 216.6h1M242.3 229.7h1M190.3 211.2h1M206.5 205.6h1M136 257.3h1M231.6 99.2h1M179.7 201.9h1M202 182.9h1M190.5 216.7h1M160.3 250.5h1M219 233.6h1M121.1 254.9h1M206.4 168.4h1M163.4 257.2h1M199.1 248h1M237.5 250.3h1M196.7 219.7h1M187.5 171.1h1M156.3 240.5h1M218.2 170.8h1M117 259h1M180.8 181.8h1M127.8 223h1M231.3 219.1h1M206.1 179.8h1M209.9 181.3h1M182.2 218.1h1M189 207.4h1M240.6 226.4h1M199.2 229.9h1M234.6 241h1M218.8 232.3h1M200.4 220.3h1M174.7 228.5h1M122.8 237.4h1M120.2 199.5h1M123.2 241.6h1M125.2 237.4h1M152.9 236h1M146.9 200.5h1M238.2 204.7h1M171.8 236.3h1M269.8 156.1h1M203 207.5h1M149.9 213.7h1M252 176.6h1M260.1 233.1h1M169.7 257.9h1M139.2 253.8h1M202.8 161.9h1M173.3 226.5h1M213.8 208.7h1M129.8 257.7h1M117.6 235.1h1M187.6 245.1h1M204.4 145.2h1M223.7 228.8h1M192.3 195h1M227.7 213.9h1M157.7 222.6h1M160.7 236.2h1M125.3 214.9h1M137.8 247.4h1M121.4 211.2h1M181.4 197.3h1M214.9 222.4h1M203.2 250.5h1M156.1 256.1h1M220.2 174h1M183.5 184.2h1M265.9 163.8h1M185.9 181h1M123.9 251.5h1M211.8 240h1M173.5 244.1h1M122.8 243.9h1M160.2 207.3h1M122.6 215.7h1M183.5 209.7h1M179.4 226h1M213.6 165.3h1M196.4 225.1h1M211 218.1h1M193.9 230h1M128.4 253.7h1M133.7 254.9h1M213.1 215h1M199.2 170h1M165.4 256.9h1M179.3 184.6h1M168.5 252.7h1M172.8 175.5h1M157.6 220h1M157 203.8h1M202.1 199.1h1M114.7 225.2h1M208.8 225.1h1M145.2 244.4h1M162.7 226.1h1M207.7 255.4h1M214.6 236.6h1M174.9 227.2h1M115.4 248.8h1M114.2 256h1M164.4 190.2h1M180.7 253.4h1M175.8 251.8h1M143.4 231.4h1M194.3 226.8h1M212.5 220.4h1M196 240.6h1M144.6 231.2h1M134.9 229.9h1M195.3 251.8h1M165.8 251.2h1M173.8 258.1h1M199.4 216.6h1M170 239.8h1M183 167.6h1M132 258.5h1M146.1 224.5h1M183.1 211h1M165.8 238.8h1M170.4 217.7h1M223.5 228.9h1M174.7 225.2h1M167.4 241.1h1M152.4 219.7h1M221 155.4h1M124.6 253.8h1M118.5 250.1h1M133.4 214.8h1M129.1 236.3h1M127.8 237.2h1M141.6 235.6h1M172.5 241.4h1M215 177h1M156.3 201.9h1M119.8 233.3h1M221 247.7h1M116 239.1h1M159.8 187.6h1M188 196.5h1M118 237h1M186.6 247.8h1M174.4 228.8h1M172.2 218.7h1M209.2 184.5h1M159.8 171.4h1M152.6 205.4h1M181.6 239.3h1M180.2 185.1h1M203.9 217.8h1M220.3 255.5h1M179.4 246.2h1M167.6 251.2h1M202.2 230.4h1M199.3 243.8h1M139.3 224.4h1M185 214h1M145.4 243h1M150.5 228.5h1M152.9 207.8h1M214.2 233.4h1M210.8 255.6h1M224.7 163.5h1M134.3 213.5h1M232.7 231.3h1M174.8 252.1h1M225.1 214.5h1M192.3 189.5h1M150.1 186.2h1M129.5 221.1h1M142 209.1h1M201.3 155.7h1M231.7 197.5h1M190.8 255.5h1M146.8 216.7h1M208 216.3h1M180.5 194.8h1M197.9 213.5h1M162.4 228.5h1M164.5 188.1h1M209.1 230.6h1M131.1 248.2h1M117.6 219.7h1M187.8 190.2h1M155.6 209.1h1M176.1 255.6h1M171.7 231.2h1M175 247.8h1M172.8 250.4h1M180 228.8h1M196.3 236.7h1M167.6 215.4h1M196.9 209.5h1M223.4 221.8h1M131.5 214.2h1M172.8 228.7h1M185.7 257.5h1M161.9 245.2h1M182.9 251h1M175.6 200h1M228.8 206.2h1M231.3 255.6h1M171 213h1M176.5 228.7h1M202 150.8h1M155.3 251.1h1M137.5 244.5h1M180.8 244.6h1M190.8 177h1M200.9 180.8h1M138.8 216.1h1M165.6 250.1h1M221 162.1h1M199.1 161.9h1M141.6 242.3h1M161.3 244.2h1M202.5 224.5h1M166.6 222.9h1M193.6 185.4h1M137.9 188.3h1M183.9 181.6h1M209.1 198.4h1M151.4 249.9h1M178.5 230.9h1M177.9 232.4h1M183.4 257.7h1M138.1 207.6h1M145.4 223.4h1M172.3 246.9h1M217.6 233.6h1M159.5 202.4h1M232.8 188.6h1M130.3 211.6h1M187.7 206.4h1M220.8 176h1M183.3 207h1M168.5 197h1M159.4 247.4h1M182.7 184.6h1M192.5 224.2h1M130 243.8h1M157.9 204.7h1M184.4 188.5h1M112.3 233.8h1M175.4 215.5h1M119.7 223.1h1M209.7 169h1M141.6 258.6h1M158.2 193h1M150.2 243.7h1M174.5 257.1h1M193.7 205.5h1M181 258.9h1M146.3 209.5h1M262.2 221.5h1M268.9 221.9h1M239.9 208.8h1M219.5 200.2h1M217.8 185.2h1M135.9 246.2h1M195.8 200.2h1M194.5 214.1h1M228.5 213.8h1M164.9 235.8h1M160.7 183h1M207.8 247.1h1M190.3 180.9h1M132.4 235.5h1M142.5 250.6h1M172 202.1h1M224.3 201.1h1M201.6 245.8h1M223.9 236.5h1M195.9 183.5h1M220.7 187.7h1M170.7 253.2h1M146.4 249.1h1M193.5 226.2h1M181.7 244.2h1M201.8 214.1h1M193.9 130.3h1M175 202.3h1M194.3 194.8h1M142.3 245.5h1M220.5 182.3h1M135.6 215.9h1M236.6 256.9h1M182.1 201.4h1M164.2 234.7h1M196.6 237.2h1M217.7 252.5h1M206.1 255.1h1M112.3 254h1M134 230.4h1M132.9 256h1M200.9 161.2h1M210.3 145.4h1M194.4 240.3h1M171.5 232.1h1M148.9 214.7h1M140.3 237.1h1M181.2 247.3h1M130.8 258.2h1M130.3 237.7h1M192.1 239.2h1M163.3 235.7h1M217 219.9h1M157.9 220.9h1M183.4 193.5h1M125.9 235h1M152.8 210.4h1M206.3 137.3h1M198.5 253.3h1M150.1 230.6h1M199.6 233.4h1M122.4 242.5h1M198.9 200.2h1M186.9 213.6h1M126.9 258.4h1M222.4 197.2h1M205.6 212.1h1M188.1 252.8h1M140.8 199.5h1M180.1 180.9h1M154.3 186.2h1M207.9 187.3h1M150.8 194.5h1M242.9 133h1M188.2 150.5h1M124 237.8h1M186.2 240.4h1M168.7 240.9h1M175.7 223.3h1M139.6 222.6h1M220.3 246.9h1M137.7 235.6h1M129.5 243.2h1M178.9 251.8h1M119.9 229.8h1M191.6 255.9h1M158.8 228.8h1M161.6 248.1h1M131.4 234.3h1M153.6 255.5h1M125 233.4h1M174.6 191h1M115.5 233.2h1M197.6 196.1h1M124.5 248.9h1M190.5 258.3h1M226.7 246.2h1M118.3 223.7h1M164.6 218.8h1M156.2 249.7h1M177.7 176.1h1M151.2 238.9h1M150.5 193.8h1M189.6 176h1M126.2 251.7h1M121.3 177.2h1M224.7 205.9h1M195.3 220.9h1M173.9 197.4h1M163.6 247.3h1M219.8 257.6h1M216 149.6h1M179.5 251.5h1M152.8 217.2h1M163.7 234.8h1M129.1 221.8h1M179.7 217.5h1M182.2 218.1h1M115.1 243.7h1M184.7 193.9h1M204.8 255.1h1M168.2 245.8h1M208 182.9h1M219.3 136.2h1M218.7 207.6h1M233.4 193.4h1M261.4 174.8h1M216.8 241.7h1M207.4 167.5h1M162.7 207.9h1M201.4 202.1h1M118.8 244.5h1M191.4 253.7h1M217.3 223.8h1M115.6 214.6h1M137.7 207.5h1M153.7 225.7h1M153.3 205.8h1M174.9 239.5h1M249.9 153.3h1M175.2 251h1M193.1 246.1h1M187.4 198.4h1M115.6 131.2h1M117.4 241.5h1M215 190.9h1M174.5 218.7h1M167.7 208.1h1M139.2 227.1h1M217.6 251.7h1M194.4 211.8h1M127.7 242.1h1M232.4 229h1M189.4 173.2h1M127.4 240h1M119.7 246.6h1M123.7 220.8h1M161.3 215.4h1M119.7 243.6h1M151.5 238.7h1M221.6 197.3h1M185.2 250.8h1M213.2 251.1h1M140.1 244.6h1M163.1 199.7h1M230 254.9h1M163.8 241.6h1M219.9 145.1h1M166.7 248.6h1M153.8 224.3h1M177.2 128.3h1M170.2 185h1M208.2 195.8h1M132.6 236.4h1M200.6 175.4h1M199.1 194.8h1M244.3 170.3h1M136.8 225.9h1M278.5 187.9h1M219.4 195.7h1M132.9 251.5h1M135.7 246.5h1M205.9 197.9h1M230 254h1M218.8 209.9h1M243.4 181.7h1M125.5 237h1M144 232.4h1M202.5 225.2h1M140.9 256.9h1M179.7 207.5h1M243.6 231.7h1M223.2 192h1M144.5 239.4h1M131.8 237.4h1M163.3 210.4h1M214.4 96h1M231.3 208.3h1M237.6 186.2h1M147.2 233.8h1M226.8 197.6h1M164.9 185.2h1M121.5 219h1M131.1 228.5h1M196 160h1M148.5 254h1M169.2 191.4h1M152.7 213.2h1M153.1 204.1h1M172.8 255.1h1M172.3 249.6h1M237.2 184.3h1M218.1 250.6h1M221.4 230.2h1M157.4 207.1h1M174.5 255.9h1M216.9 241h1M161 191.2h1M166.8 257.4h1M221.4 234.7h1M121.7 236.3h1M153.5 221h1M163.5 214.2h1M228.1 124.8h1M220.3 242.6h1M243 231.3h1M138.4 240.8h1M215.1 213.3h1M141.6 243.8h1M179.6 181.5h1M221.3 258.5h1M118.9 244.4h1M133 212.6h1M228.5 234.7h1M190 181.3h1M211.6 231.9h1M118.5 253.8h1M173 242.5h1M186.4 242.9h1M138.8 243.1h1M232.2 182.9h1M124.3 202.7h1M127.4 240.6h1M173 175h1M206.3 205.4h1M211.3 150.4h1M183.5 189.6h1M171.5 237.4h1M145.4 247.1h1M179.5 257.8h1M203.7 250.7h1M182.8 242.4h1M122 249.8h1M113.4 250.5h1M172.1 234.2h1M185.2 224.1h1M116.3 238.9h1M195 240.6h1M199.2 162.7h1M130.6 248.7h1M168 222.4h1M230.2 227.3h1M165.6 217.5h1M175.3 179.2h1M202.7 249.5h1M196.1 234.3h1M176.3 197h1M184.7 210.1h1M150.6 223h1M136.6 190.6h1M138.2 231.8h1M164 220.1h1M219.6 243.3h1M125.7 245.6h1M190.6 240.2h1M179.2 222.6h1M125.9 228h1M214 203.4h1M220.2 206.2h1M162.4 170.1h1M196.1 251.9h1M163.1 210.3h1M121.7 215.2h1M142.2 221.6h1M117.6 254.6h1M157.4 237.3h1M224.9 246.5h1M172.7 187.9h1M202.3 188.1h1M278.2 175.1h1M212.1 257.1h1M215.1 234.5h1M127.3 220.2h1M164.8 225.9h1M166 237.9h1M214.1 246.8h1M146.4 234.4h1M139.5 243.5h1M234.8 141.2h1M137 185.8h1M163.6 256.8h1M183.2 249.4h1M206.6 217.1h1M194.5 214.6h1M221.4 181.9h1M176.5 175h1M189.5 218.7h1M127.2 174.4h1M168.6 246h1M180.4 231.8h1M191.6 211.7h1M190.9 250.3h1M189.9 192h1M207.5 176.5h1M209.7 190h1M150.2 251h1M228.4 180.6h1M199.5 164.6h1M147 235.9h1M113 237.9h1M194.9 199.7h1M140.3 218.4h1M183.6 216.7h1M155.7 246.2h1M177.8 235.7h1M148 253.5h1M122.4 257.3h1M211.5 184.6h1M231.6 211.6h1M186.8 232.1h1M172.8 254h1M219.4 186.3h1M162.5 189.8h1M246.5 98.9h1M183.6 238.5h1M117.3 244.9h1M216 136h1M198.8 136h1M134.9 242.5h1M183.6 226.7h1M204.2 200h1M217.1 229.8h1M184.3 210h1M136.1 242.5h1M146.7 251.7h1M229.7 92.2h1M151.9 241.4h1M130.5 243.2h1M199.9 201h1M163.5 238.8h1M135.7 213.9h1M202.4 203.4h1M252 229.8h1M203.4 242.2h1M150.7 252.5h1M164 251.6h1M173.9 178.6h1M116.3 239.9h1M121.1 229.2h1M122.8 243.8h1M126.3 247.5h1M238.1 172.3h1M185.9 238.9h1M146.5 193.2h1M175.4 214.3h1M195.3 161.3h1M196.3 254.6h1M205.7 230.1h1M201.3 235.8h1M164.4 217.4h1M149.5 208.2h1M151.3 195.2h1M148.9 197.9h1M226.3 214.7h1M155.6 247.5h1M212 178.5h1M159.8 253.9h1M225.4 141h1M201.4 257.5h1M147.1 246.8h1M117.4 246.9h1M157.4 244.7h1M131.6 241.7h1M120.2 253.9h1M221.3 180.9h1M205.8 240.4h1M157.4 156.3h1M197.7 210.3h1M190.6 241h1M182.8 229.1h1M138 224.6h1M235.4 156.4h1M169.6 240.7h1M178.9 191.8h1M185.1 224.1h1M201.9 256.6h1M153.7 222.1h1M136.7 237h1M185 212h1M164.9 234.9h1M166.5 173.2h1M209.3 172h1M210.3 180.5h1M132.9 239.2h1M172.1 190.9h1M213.4 189.5h1M152.7 234.2h1M201.1 207.3h1M118.2 233.1h1M222.4 183.8h1M204 175.6h1M194.8 224.9h1M157.2 197.2h1M175.1 185.8h1M233.7 151.9h1M196.7 254h1M177 229.5h1M126.9 237.9h1M147.5 252h1M173.1 255.1h1M242.4 236.9h1M170.1 257.5h1M130.6 224.4h1M170.8 216h1M168.3 185.2h1M219.1 215.7h1M159.1 231.6h1M204.7 208.5h1M178.3 254.9h1M216.5 172.9h1M226.4 252.8h1M138.6 229.6h1M165.5 210.3h1M224.4 194.2h1M169.5 175h1M228.8 173.4h1M215.3 150.9h1M203 198.3h1M116 250h1M233.5 174.8h1M242.7 143.6h1M216.2 223.2h1M143.1 208.4h1M184.7 211.4h1M215.6 150.8h1M190.4 218h1M182.8 213.3h1M203.4 257.6h1M180.1 255.5h1M153 215.3h1M140.7 253.6h1M146.2 230.6h1M170.4 185.7h1M195.6 256.2h1M172.2 214.8h1M140.3 223h1M124.1 239.5h1M156.1 195.3h1M159.7 222.5h1M194.3 197h1M195.9 198h1M149.1 210.5h1M188.8 252.7h1M164.2 235.7h1M132.2 214.2h1M207.7 208.1h1M131.1 216.4h1M163.7 181.4h1M153.7 250.8h1M126.9 212h1M201.9 222.3h1M253.6 170.6h1M148.7 253h1M245.3 224.1h1M158.3 258.3h1M241.8 173h1M192.1 199.1h1M198.8 232.6h1M165.5 215.6h1M194.2 246h1M132.2 231.5h1M197.2 250h1M136 245.6h1M229.2 141.2h1M143 254.7h1M174.4 182h1M186.9 209.4h1M116.9 227.7h1M211.1 250.1h1M170.5 204.2h1M218.5 145.3h1M191.1 173.8h1M134.7 245.6h1M214.3 190.3h1M187.7 236.4h1M185.7 237.4h1M154.7 255.9h1M236.7 258.8h1M136.3 197h1M144.6 248.8h1M159.7 214h1M200.5 193.2h1M201.7 208.9h1M170.9 191.5h1M211.2 258.4h1M236.1 132.9h1M219.4 248.7h1M128.9 239.8h1M223.3 229h1M149 194.7h1M188.3 206.5h1M231 254.6h1M198.9 246h1M171.6 176.9h1M188.8 218.5h1M214.2 254.3h1M197.1 147.3h1M150 226.2h1M195.1 240.2h1M216.6 199.2h1M220 215.7h1M195.1 253.3h1M188.6 232.6h1M188.7 249h1M177.2 238.7h1M203.8 194.9h1M192.1 182.3h1M172.7 232.9h1M202.2 206.4h1M178.9 162.2h1M222.8 157.9h1M120.9 246.9h1M152.5 240.6h1M191.9 248.3h1M217.8 133.7h1M181 231.2h1M212.5 182h1M227.8 250h1M142.1 233h1M190.1 150.8h1M218.1 249.8h1M204.1 197.9h1M115.2 255.3h1M220.6 207.4h1M127.6 244.4h1M153.9 224h1M194.1 221.9h1M173.8 204h1M144.5 259h1M163.6 250h1M179.1 258.8h1M268.1 167.7h1M135.5 232.2h1M184.9 223.1h1M170.5 203.4h1M113.6 233.3h1M175.6 255.6h1M206.2 241.2h1M118.8 235h1M117.2 211.2h1M129.4 230h1M233.4 118.4h1M213.9 198.6h1M179.8 234.2h1M134.5 236h1M235.1 176.9h1M195.1 209.3h1M138.1 256.2h1M164.8 193.2h1M209.7 183.2h1M139.3 224.9h1M176.2 211.7h1M175.9 226h1M186.9 161.6h1M146.1 237.9h1M158.6 215.9h1M228.9 168.6h1M190.6 225h1M225.9 230.5h1M224 205.3h1M229.5 195.8h1M252.3 250.7h1M149.8 234.1h1M159.5 205.9h1M145.7 244.7h1M170.5 215.4h1M219.6 221h1M232.7 180.8h1M192.7 204.2h1M165.3 211.3h1M240.7 246.1h1M137.3 194.4h1M166.1 225.9h1M147.5 197.5h1M201.6 241.3h1M201.8 181.6h1M119.6 223.5h1M141.3 199.6h1M167.2 239.7h1M182.7 250.6h1M125.3 257.4h1M118.9 238.1h1M226.6 120h1M157.6 241.9h1M219.8 240.2h1M170 246.4h1M149.5 241.2h1M233.1 181.9h1M216.5 253.3h1M154 199.4h1M120.9 246.6h1M202.8 177.1h1M238.2 165.1h1M153.2 202.8h1M217 170.4h1M161.4 206.5h1M176.7 183.4h1M120.4 250.1h1M119.5 244.5h1M122.8 250.4h1M165.6 230.2h1M223.3 195.7h1M197.6 151.4h1M178.6 169.1h1M196.5 200.1h1M168.1 201.7h1M222.9 202.1h1M185.4 247.3h1M151.3 240.5h1M172.1 229.5h1M169.8 217.2h1M189.6 197h1M141.8 231.8h1M205.8 199.7h1M121.7 246.9h1M235.1 252.6h1M135.5 227.6h1M163.8 151.6h1M198.4 237h1M135.5 206.5h1M166.1 253.8h1M212.3 164.6h1M148.5 239.6h1M152.8 242.8h1M204.1 152.6h1M188 247.4h1M158.1 195.6h1M151.7 244.1h1M137.4 247.7h1M133.4 228.1h1M195.1 231.7h1M221.5 253.4h1M169.8 183.6h1M140.7 225.2h1M132.1 212.8h1M212.9 139.6h1M187.7 171.4h1M145.4 209.5h1M121.5 249.9h1M196.7 248.1h1M137.8 206.2h1M141.7 240.9h1M179 230.2h1M158.1 247.8h1M165.2 243.2h1M160 206.4h1M118.5 250.2h1M188.7 237.5h1M178.4 176.4h1M182.4 168h1M208.8 159h1M155.8 245.8h1M210.8 223.5h1M220.8 169.5h1M238.2 234.4h1M213.8 235.1h1M166.8 250.2h1M153.4 233.7h1M226.2 258h1M116.2 228.3h1M143.2 220.5h1M147.5 246.9h1M208 199.2h1M183.6 197.8h1M151.8 240.6h1M113.4 248h1M160.6 237.2h1M162 193.9h1M163.6 228.1h1M192.4 167.7h1M137.1 249.2h1M136.3 256.8h1M160.8 138.1h1M239 214h1M168.2 249.3h1M177.4 248.4h1M181.5 211.1h1M197.5 196.3h1M212.9 229.9h1M180 213.7h1M262.8 135h1M125 225.7h1M129.4 212.3h1M154 212.9h1M156.5 186.2h1M167.7 231.3h1M160.6 199.5h1M149.2 258.6h1M139.4 234.5h1M190.9 244.1h1M214.1 245.3h1M174.5 190.9h1M120.8 250.6h1M125.4 246.6h1M144.4 231.8h1M118.6 249.3h1M205.9 215.3h1M176.7 197.9h1M209.7 205.7h1M187.1 245h1M130.9 232.5h1M134.4 225.3h1M152.2 248.5h1M247 170.8h1M216.6 143.1h1M167.5 230.7h1M144.6 238.2h1M188.2 248.3h1M134.4 221.3h1M195.4 235.4h1M145.7 211.1h1M234.1 179h1M157.1 247.4h1M135.4 254.2h1M221.3 178.6h1M113.2 233.1h1M117.6 235.8h1M135.8 238.8h1M210 218.6h1M177.3 207.9h1M168.4 213.2h1M213.2 201.3h1M237.5 229.9h1M189.6 178h1M165.3 222.2h1M171.9 228.5h1M222.2 250.7h1M194.9 226.6h1M183.6 207.8h1M150.9 232.5h1M195.6 157.5h1M123.8 205.9h1M194.8 225.3h1M116.7 234h1M231.2 192h1M152.5 245.7h1M197.4 203.2h1M164.6 257.5h1M117.7 255.1h1M193.2 211.4h1M200.7 146.6h1M233.4 231.1h1M185.7 249.9h1M153.9 225.1h1M157 250.7h1M184 218.8h1M227.7 226.9h1M139.5 215.9h1M140.5 166.5h1M182.8 191.9h1M232.6 249.3h1M128 223.2h1M132 239.6h1M169.1 237.4h1M202.2 186.9h1M200.2 151.6h1M202.3 181.5h1M223.7 141.8h1M168.7 195.5h1M229.6 228h1M193.3 213.7h1M174.8 193.3h1M203.3 244.1h1M166.9 201.4h1M135.5 252.9h1M233.7 181.4h1M220.2 191.7h1M158.7 191.5h1M163.8 188.3h1M177 179.7h1M228.8 256.9h1M194.5 176.3h1M156.9 253.9h1M203 204.7h1M164.7 173.8h1M194.4 210.6h1M180.3 222.5h1M148.6 235.4h1M191.4 256.7h1M160.4 226.3h1M141.1 232.9h1M219.9 237.6h1M202.2 188.9h1M147 218.1h1M136.5 243.7h1M202.7 187.1h1M168.4 185.2h1M143.7 236.9h1M195.4 229h1M186.9 193.5h1M172.2 208.3h1M239.4 188.7h1M189.8 185.2h1M185.8 232.9h1M257.9 159.1h1M178.8 206.9h1M232 247.2h1M136.3 246.8h1M207.4 193h1M237.5 199.3h1M261.4 200.6h1M180.5 215.5h1M188.7 191.9h1M119.4 213.7h1M195.2 192.2h1M154.5 229.5h1M119.1 215.6h1M187.2 205.8h1M200.1 171.1h1M193.2 164.7h1M175.5 242.9h1M237.3 197.1h1M204.2 176.3h1M162.3 210.4h1M217.5 229.1h1M193.5 257h1M159 196.9h1M131.9 257.6h1M197.8 214.4h1M214.3 170.8h1M168.9 254.8h1M197.2 164.6h1M218.7 162.3h1M162.4 184.6h1M169.8 256h1M188.2 166.7h1M252.3 188h1M123.1 212h1M191.5 252.2h1M123.9 254.8h1M161.4 243h1M132.8 214.1h1M205.3 241.4h1M158 252.3h1M219 235.4h1M126 246.7h1M134.2 208.3h1M199.1 153.9h1M166.5 219.7h1M147.8 249.9h1M163.8 187h1M202.5 177.2h1M161.4 219.3h1M190.7 204.6h1M219.2 119.1h1M142.9 245.6h1M141.1 240.7h1M125.8 256.4h1M227.8 141h1M219.5 175.8h1M150 217.9h1M120.3 241.7h1M153.2 200.3h1M195.2 174.8h1M127.2 176.2h1M125.7 213.3h1M130.2 210.3h1M200.8 252.5h1M177.5 219.2h1M136.5 220h1M185.4 254h1M220.8 226.4h1M222.1 159h1M227.7 145.2h1M137.6 218.5h1M212.6 195.9h1M221.8 234.9h1M210 227.2h1M223.7 202h1M188 147.2h1M160.6 204.9h1M180.6 238h1M195.5 228.3h1M212.6 177.2h1M192.3 161.2h1M127.1 234.7h1M187.1 257.3h1M114.8 252.2h1M205.2 243.2h1M221.5 147.1h1M223.2 240.9h1M197.4 200.8h1M130.6 252.6h1M235.7 207.9h1M164.8 212.9h1M194.7 238.9h1M220 160.3h1M150.2 216.2h1M141.6 185h1M173.6 234.8h1M177.5 199.8h1M134.3 214.1h1M152.6 249.8h1M185.3 226.4h1M185.5 246h1M134.9 243.4h1M184.5 197.6h1M219.1 241.8h1M195.7 253.5h1M140.9 243.4h1M166.8 240.8h1M167.4 185.7h1M238.8 224.5h1M208 164.3h1M148.1 225h1M179.2 168.1h1M167 248.2h1M211.8 220.4h1M186.1 215.4h1M159.7 241.8h1M146.8 229.9h1M217.9 200.2h1M113.5 235h1M226.5 223.9h1M135 213.2h1M159 246.7h1M201.5 234.4h1M230.3 221.8h1M202 257.1h1M194.6 232.1h1M139.4 233.3h1M218.5 219.2h1M232.3 212.1h1M147.2 218.1h1M144.3 201.4h1M145.4 251.8h1M230.9 169.1h1M115.1 255.5h1M178.7 238.4h1M176.8 189.3h1M254.2 175.3h1M142 207.3h1M153.3 215.3h1M144.9 254.1h1M115 227.3h1M201.2 225.9h1M149.7 255.2h1M188.8 237.2h1M126.4 243.3h1M207.6 197.8h1M125.6 228.5h1M252.8 179h1M144.2 191.4h1M150.9 234.6h1M186.9 188.5h1M209.7 226.2h1M162.9 212.9h1M184.1 190.9h1M220.4 125.1h1M210.3 205.8h1M159.1 218.3h1M150.1 214h1M199.5 231.6h1M152.3 257.8h1M198.2 248.4h1M247.6 214h1M151.5 240.1h1M155.9 192.8h1M168.7 250.7h1M203.2 185.8h1M115.4 206.1h1M121 246.3h1M188.6 256.2h1M216.9 95.6h1M224.4 254.4h1M235 162.4h1M146.7 242.4h1M193.6 211.4h1M170 195.8h1M135.4 229h1M174.7 240.9h1M186.8 210.7h1M224.6 196.8h1M219.3 178.9h1M160.2 243.4h1M129 246.9h1M138.6 219.8h1M126.6 224.6h1M130.4 231.1h1M176.9 166.7h1M145.7 203.4h1M209.5 231.3h1M229.5 209.7h1M213.2 174.9h1M220.9 135h1M119.8 223.6h1M216.6 219.4h1M182.3 198h1M237.9 150.6h1M235.9 238.6h1M156 240.1h1M209.4 149.5h1M186.5 195.2h1M175.2 182h1M142.4 216.6h1M154.8 231.6h1M142.7 235h1M253.7 242.1h1M156.8 227.1h1M136.4 236.2h1M129.4 224.7h1M190.1 246.2h1M159.3 226.7h1M206 230.7h1M150.7 208h1M191.6 252.4h1M154.8 254.7h1M143.2 236.4h1M128.7 236.5h1M219 215.4h1M155.6 195.2h1M160.6 207.3h1M143.4 222.4h1M131 254.2h1M133 191.7h1M213 202.7h1M129 254.2h1M147.5 220.9h1M113.3 244.4h1M112.2 240.5h1M248.7 210.6h1M193.8 173.4h1M178.7 163.8h1M117.7 246.7h1M126 253.5h1M203.2 201.1h1M158.2 239.6h1M163.6 224.3h1M144.4 237.2h1M173.4 215.5h1M167.1 242.4h1M133.5 258.6h1M229.8 223.7h1M201.3 245.8h1M169.9 197.8h1M130.4 227.8h1M148.1 253.2h1M193.7 200.7h1M195.6 171.9h1M113 204.7h1M189.4 208.2h1M144 243.4h1M150.5 188.7h1M147.7 201h1M153.5 244.7h1M139.1 215.7h1M175.7 258.1h1M278.8 145.5h1M163.8 179h1M192.2 192.9h1M188.5 246.7h1M129.7 228.6h1M145.2 249.8h1M196.6 207.2h1M124.8 247h1M227.3 152h1M198.7 225.9h1M205.5 252.6h1M151.4 200.5h1M182.5 180.3h1M166.4 206.7h1M173.8 256.2h1M223.5 255.9h1M148.9 236.3h1M193 256.3h1M170.1 202h1M126.5 240h1M205.5 227.4h1M148.4 194.2h1M118.3 181.9h1M161.9 234.1h1M173.1 220h1M162.5 218.5h1M187 210.6h1M163.2 192.3h1M145.2 254.9h1M155.5 231.8h1M230.2 176.9h1M171.6 222.8h1M136.2 205.8h1M211.1 213.1h1M188.3 245.5h1M160.1 257h1M128.2 225.1h1M228.4 185.4h1M186.2 242.7h1M164.1 141.7h1M129.7 234.9h1M223.5 218.5h1M124.5 209h1M219.3 154.3h1M192.3 201.1h1M228.5 164.9h1M131.7 244.5h1M151.9 206.1h1M149 251.4h1M207.5 241.3h1M216 243.8h1M137.9 258.5h1M176.7 257h1M191.8 234.2h1M125.4 224.7h1M213.2 221.4h1M132.8 232.6h1M177.3 219.8h1M171.1 198.5h1M161.5 217.5h1M140.3 249.1h1M130.5 186.3h1M222.9 155.8h1M153.4 257.7h1M219.6 240.9h1M149.3 233.9h1M227.8 207.4h1M139.3 209.8h1M208.4 210.9h1M200.2 137.9h1M130.1 237.9h1M182.5 197.2h1M194.4 249.5h1M123.7 256.4h1M205.3 228.4h1M193.3 203.8h1M193.2 237.2h1M159.5 185.9h1M208.6 243.2h1M164.1 242.4h1M158.5 249.1h1M234.3 159h1M213 222.9h1M188.2 250.1h1M190.2 221.8h1M223.5 222.1h1M138.6 212.2h1M167.6 250.6h1M125.1 242.4h1M218.8 226.4h1M163.1 195h1M204.1 231.4h1M175.8 204.3h1M172.2 182.1h1M208.4 173h1M126.2 251.5h1M201.2 226.6h1M239.3 219.2h1M208.3 249h1M135.9 250.7h1M208.9 237.9h1M236.8 149.9h1M166.7 239.7h1M128.4 257.8h1M186.1 208.7h1M116.8 177.8h1M129.4 252.3h1M164.4 209.2h1M194.2 225.1h1M229.5 167.6h1M125.4 244.3h1M176.7 215h1M128.8 217h1M127.6 206.9h1M204.5 252.9h1M119.6 247.2h1M134.9 206.4h1M190.9 209.9h1M210.5 240.1h1M134.9 248.8h1M202.2 179.1h1M244.2 71.5h1M200.3 229.1h1M174.7 248.3h1M132.3 258.7h1M147.2 207.7h1M171.7 216.9h1M168.2 224.6h1M139 252.2h1M146.8 230.7h1M167.7 196.7h1M188.5 192.3h1M114.4 195.8h1M208.2 234h1M153.5 239.2h1M220.1 240.6h1M134.6 229.1h1M254.1 196.6h1M192.4 255.2h1M217.4 199.5h1M151.4 205.8h1M152.3 243.1h1M251.4 164.3h1M160.4 223.4h1M118.2 225.2h1M184.5 255.5h1M228.4 168.8h1M198.6 230h1M203.1 257h1M170.7 209.3h1M159.4 239.1h1M122.4 257.5h1M185.3 241.8h1M198.1 187.2h1M163.9 197.1h1M186.6 229.3h1M222.2 135.1h1M145.8 251.2h1M180.1 217h1M164 248.8h1M197.2 168.5h1M195.8 245.9h1M140.9 222.5h1M205.9 188.3h1M117.3 238.6h1M166.5 224.3h1M168 236.8h1M199.1 210.3h1M221.7 216.9h1M161.2 240h1M164.3 230.3h1M265.9 203.6h1M139 236h1M124.9 234.3h1M171.2 182.4h1M139.9 231h1M229.7 101.9h1M183.4 253h1M151.7 244.3h1M221 231.5h1M181.8 254h1M223.1 184.8h1M157.4 242.3h1M186.8 207.2h1M210.2 224.5h1M139.4 251.2h1M188.5 191.4h1M206.8 202.6h1M199.4 210.8h1M123.7 236.1h1M177 222.8h1M218.5 236.6h1M196.6 213.9h1M222.3 257.5h1M206.6 171.3h1M202.2 223.4h1M199.5 160.6h1M198.1 222.8h1M175.6 233.1h1M152.2 202.8h1M183.2 199.2h1M212 162.2h1M125 242h1M195 233.4h1M187.8 209.2h1M229.7 164.5h1M171.5 252.5h1M142.8 222h1M115.1 248h1M196.3 242.5h1M210.5 245h1M152.5 200.8h1M215.6 237.3h1M163.5 244.6h1M168.6 222.7h1M145.7 233.5h1M176.2 229.5h1M234.5 207.1h1M177.2 238.5h1M190.8 167.9h1M138.8 235.3h1M201.8 211.3h1M202.4 215.1h1M219.1 226.5h1M233.9 184h1M210.3 160.4h1M214.6 214.9h1M115.7 228h1M187.6 232.1h1M132.6 249.5h1M213.7 166.9h1M216.3 191.7h1M198.9 196.2h1M189.5 252.7h1M195.3 200.1h1M180.3 227.6h1M190.6 222.1h1M159.8 213.3h1M222.5 228.5h1M225.5 247.2h1M157.9 202.1h1M150.2 198h1M162.8 244.6h1M154.8 205h1M149.1 220.6h1M239.8 205.5h1M195.6 215h1M169.4 248.8h1M205.9 240.3h1M136 210.5h1M207 183.1h1M190 254.4h1M199.4 179.8h1M150.7 236.3h1M115 247.5h1M202.2 208.5h1M159.8 231.3h1M221.1 254.5h1M217.1 243.4h1M142.6 209h1M122.5 256.1h1M183.2 207.3h1M202.2 163.1h1M116.1 226.3h1M155.6 241.2h1M151.9 190.4h1M233 132h1M117.6 252.3h1M206.1 245.1h1M138.9 242.2h1M162.5 245.1h1M142.4 200.4h1M188.6 242.9h1M190.7 191.5h1M211.4 171h1M222.8 181.4h1M175.1 235.2h1M119.6 252.5h1M192.3 251.1h1M206.3 217.8h1M202.9 173.3h1M143.8 219.4h1M173.7 204.1h1M223.9 186.6h1M162.1 250.5h1M225.4 160.3h1M151.5 202h1M229.4 170.7h1M226.4 147.2h1M127.1 149.4h1M123.9 254.6h1M170.1 220.2h1M243.8 202h1M140.9 248h1M114.5 249.1h1M203.2 163.2h1M230.5 177.1h1M267.5 244.7h1M137.3 241h1M130.3 252.1h1M136 245.7h1M133.1 238.8h1M166.2 192.1h1M164.3 178.1h1M168.1 202.3h1M216.8 159.2h1M238.1 204h1M237.2 191.8h1M186 253.9h1M211.7 187.9h1M206.5 249.2h1M138.2 250.7h1M188.7 244.8h1M150.8 245.8h1M200.3 226.3h1M191.1 240.5h1M150.1 184.9h1M218.5 160.8h1M147.9 217.7h1M164.4 252h1M165 223.7h1M170.5 217.2h1M213.3 236.6h1M197.1 243.9h1M132.6 205.2h1M210.7 210.4h1M233.8 201.5h1M121.8 249.7h1M186.3 223h1M217.4 140.2h1M202.6 237.6h1M166.6 213.9h1M187 194.3h1M240.2 250.3h1M180.3 197.4h1M144.3 257.5h1M201.9 236.3h1M166.5 250.7h1M145.6 244h1M232.7 148h1M183.5 256.4h1M205.3 221.4h1M188.2 168.7h1M200.3 195.6h1M192.1 196.8h1M176.2 212.6h1M209.8 243.4h1M134.1 253.4h1M187.9 215h1M193 207.2h1M142.7 196.3h1M162.6 240.5h1M197.2 201.1h1M176.6 240.7h1M143.1 237.7h1M150.9 228.4h1M184 212.7h1M164.7 200.8h1M147.5 221.8h1M122.5 215.1h1M119.5 226.1h1M118.4 251h1M168.4 223.8h1M216 155.2h1M237.8 216.4h1M191.3 225.4h1M177.4 252.2h1M149.7 235.9h1M126.3 224.7h1M144 223.5h1M208 172.6h1M141.6 171.6h1M125.8 249.8h1M232 218.5h1M224.9 198.9h1M170.8 241.2h1M160.3 215.3h1M207.3 199.6h1M206.9 236h1M203.4 193.8h1M141.9 238.4h1M219.5 191.3h1M140.7 231.1h1M179.9 239.1h1M163.4 217.6h1M160.5 225.5h1M192.3 254.7h1M190 216.2h1M135.4 229.8h1M182.8 253.3h1M230.3 167.5h1M165.7 206.5h1M201.9 182.1h1M116.4 237.6h1M193.8 191.4h1M149.9 228.2h1M174.3 239.2h1M119.5 248.6h1M179 228.3h1M117.6 231.9h1M209.1 199.6h1M200.8 210.8h1M212.7 195.3h1M207.9 216.5h1M157.2 224.1h1M181 204.8h1M153.4 219.3h1M185.3 140.5h1M188.5 176.9h1M147 229.1h1M198 213.1h1M214.7 222.1h1M185.9 234.3h1M135.5 225.4h1M161 218.3h1M228.7 138.3h1M147.2 246.9h1M182.8 227.5h1M201.7 182.7h1M171.3 197.2h1M145.6 254h1M239 239.5h1M200.2 242.1h1M209.3 221.8h1M201.5 206.1h1M138.3 232.8h1M189.9 176.8h1M150.5 252.3h1M238.4 243.6h1M160.8 217.5h1M175.2 229.7h1M213.6 204.4h1M171.9 258.8h1M216.8 216.3h1M223.4 230.9h1M157.1 223.6h1M215.3 207.1h1M121.2 231.3h1M209.7 162.7h1M152.3 243.3h1M194.4 169.3h1M156.1 218.4h1M173.5 257h1M136.1 230.4h1M150.7 250.2h1M198.9 183.4h1M200.5 152.7h1M216.2 246.2h1M136.6 255.4h1M148.1 235h1M272.3 240.5h1M114.1 241h1M124.3 240.3h1M218.2 225.5h1M164.7 209.7h1M179.8 216.9h1M164.8 245.7h1M225.2 240.6h1M204.7 102h1M219 210.6h1M172.4 214.9h1M227.8 210.2h1M224.7 178.9h1M215.7 200.8h1M160.4 230.8h1M174.7 193.4h1M199.8 181.2h1M207.9 174h1M165.6 249.3h1M154 232.3h1M198.4 217.1h1M208.2 213.3h1M123 240.7h1M230.8 190.7h1M167.4 220.4h1M140.2 221h1M193.9 200.8h1M197 195.7h1M147.7 241.1h1M127.9 246h1M153.4 247h1M207.7 179h1M175.7 218.9h1M164.3 160.5h1M222.2 169h1M178.5 193.4h1M127.2 231.1h1M226.6 137.4h1M189.3 253.9h1M231 165.5h1M169.6 254.6h1M198.9 232.7h1M216.6 164h1M159.4 242.2h1M188.4 211.2h1M136.2 245.2h1M160.7 234.1h1M137.5 227.1h1M193.3 229.7h1M115.6 254.1h1M192.3 234.6h1M133.4 227.2h1M215.3 256.7h1M284 257.2h1M182.9 190.5h1M171.2 229.9h1M176.5 258h1M144.1 241.1h1M201.8 182h1M177.1 231.8h1M178 242.2h1M133.7 246.2h1M204.5 149.8h1M216.7 144.1h1M192.1 194.6h1M156 213h1M204.8 209.4h1M124.7 242.3h1M211.3 214.1h1M140.3 229.2h1M117.4 244.2h1M196.1 234h1M137.5 250.8h1M205.7 223.7h1M153.3 225h1M117.6 253.5h1M206.3 195.3h1M213.4 197.2h1M156.2 197.7h1M143.5 210h1M165.3 208.5h1M120.2 257.5h1M233 142.4h1M161.9 212h1M183 201.1h1M217 236.2h1M163.5 233.8h1M201.6 150.5h1M143.6 256.6h1M224.2 192.9h1M188.8 213.7h1M167.1 231.5h1M220.1 210.6h1M172.1 214.2h1M163.4 253.6h1M233.9 228.7h1M171.3 245.6h1M152.3 218.6h1M130.4 242.1h1M183.1 218.1h1M135.4 239.9h1M216.8 242.4h1M218.9 242.6h1M192.5 214h1M178 229.4h1M171.8 210.7h1M148.9 251.5h1M145.1 258.3h1M209.7 202h1M178.6 183h1M227.5 188.6h1M152.1 226.6h1M213.5 217.8h1M220 187.3h1M213.6 223.2h1M200.8 148.6h1M177.9 219.1h1M172 245.5h1M138 253h1M133.5 236.6h1M212.5 251h1M191.6 164.4h1M203.8 146.3h1M151.8 212.1h1M151.1 235.8h1M190.1 212.3h1M221.6 249.9h1M187.3 205.8h1M115.2 230h1M129.5 244.6h1M215.2 184.9h1M125 220.2h1M129.3 242.4h1M122.8 256.4h1M142.9 244.1h1M143.5 247h1M212.9 227.9h1M121.8 256h1M222.3 242.1h1M194.7 159h1M180.5 229h1M134.1 216.1h1M227.8 201.7h1M179.1 209.4h1M216.6 232.3h1M143.5 243.4h1M227.5 142.9h1M199.9 198.6h1M199 196.8h1M169.9 206.8h1M188.3 243.1h1M226.8 135.7h1M237.2 182.4h1M234.9 233.9h1M204.6 190.2h1M199.8 256.3h1M158.7 193.8h1M194.4 251.4h1M215 190.7h1M211.9 189.8h1M136 221h1M171 202.9h1M156.3 249.7h1M131.6 237.2h1M236 183.6h1M147.4 228.2h1M152.6 232.2h1M120.3 236.5h1M204.7 190.1h1M246 226h1M186.3 185.6h1M205.8 241.8h1M149.7 222.4h1M181.2 184.6h1M196.2 166.4h1M117.7 240.4h1M119.1 254.5h1M233.4 178.1h1M169.6 234.7h1M119.7 254.6h1M184.5 239.4h1M235.7 184.7h1M189.6 247h1M158.5 231.1h1M153.6 218.7h1M133.7 252.3h1M136.8 201.2h1M133.5 254h1M175.3 227.7h1M224.6 254.4h1M182.3 229h1M149.2 238.7h1M220.5 173.1h1M120.6 227.6h1M210.7 219.2h1M182.1 233.2h1M182.3 189.7h1M227.8 251.6h1M151.6 233.9h1M150 216.5h1M229.6 206.3h1M153 198.9h1M216.9 257.1h1M129.6 252.1h1M159.5 249.2h1M207.9 214.5h1M121.5 249.3h1M155 221.4h1M170.7 247.6h1M173.9 248.3h1M148 253.1h1M161.3 196.7h1M245.5 166h1M163.3 239.5h1M192.9 194.7h1M123.5 253.1h1M231.7 240.1h1M155.2 197h1M216.9 244.2h1M189.5 223.4h1M179.6 228.5h1M133.7 231.8h1M130.2 257h1M148.7 231.5h1M177.8 243.8h1M157.1 224.6h1M197.8 222.9h1M214.4 184.9h1M171.9 237.2h1M200 227.7h1M159.7 247.3h1M113.8 238.9h1M213.5 228.3h1M164.6 254.3h1M230.4 240.7h1M138.8 252.8h1M153.8 233.9h1M234.5 190.8h1M206.8 203.2h1M161.9 236h1M154.6 253.1h1M154.7 239.7h1M162.7 230.7h1M173.7 233.9h1M186 204.5h1M142 178.7h1M199.4 160.1h1M125.1 241.8h1M181.2 227h1M239.5 239.1h1M187.6 249.3h1M187.8 176.6h1M193.4 205.3h1M188.6 184.6h1M234.7 247.1h1M155.8 229.4h1M210 197.7h1M124.1 220.1h1M137.3 239.1h1M250.1 157.9h1M129.6 224.3h1M223.6 245.4h1M230.4 250.2h1M224.3 230.4h1M196.6 225.1h1M166.8 194.2h1M243.6 137.1h1M167.8 203.1h1M207.2 171.4h1M135.8 249.6h1M214.6 142.9h1M118.1 247.2h1M185.5 212.1h1M138.6 220h1M172.1 188.9h1M156.7 231.1h1M199.8 177.5h1M184.4 216.1h1M202.8 240.5h1M275.6 150.2h1M228.6 223.6h1M238.1 118.5h1M212.1 196.3h1M147.8 219.3h1M167.2 166.9h1M277.7 245.9h1M112.7 233.4h1M153.7 248.2h1M114.3 239.5h1M152.2 202h1M173.5 257.7h1M208 196.4h1M208.9 182.6h1M195 194.9h1M167.8 204.1h1M149.7 249.8h1M148.7 244.7h1M164.7 217.6h1M177.3 230.9h1M134.5 219.4h1M138.5 230.5h1M225.5 223.2h1M122.8 232.3h1M142.5 232.9h1M222 202.1h1M180.8 210.5h1M182.4 194.4h1M141 213.6h1M114.3 239.3h1M189.7 245.9h1M128.8 233.5h1M203.4 196.7h1M173.8 173.3h1M200.7 247.5h1M177.6 223.4h1M116.6 242.9h1M116 237.6h1M138.1 205.5h1M184.4 233.9h1M268.8 154.8h1M165 180.2h1M222 152.8h1M220 213.3h1M236.9 190.6h1M194.9 250.1h1M204 182.2h1M154.5 191.4h1M182.5 184h1M256.7 222.6h1M144.5 238.2h1M187 232.5h1M186.5 220.1h1M154.4 247.4h1M162.2 179.6h1M164.8 238h1M126.6 236h1M149.7 175.1h1M202.3 179.3h1M226 152h1M275.3 164.9h1M146.9 255.5h1M181.9 219.5h1M199.2 194.4h1M217.2 171.7h1M146.8 206.5h1M196.8 194.1h1M228 213.9h1M160.6 188.3h1M127.5 195.4h1M214.9 153.9h1M153.7 224.3h1M176.1 220.8h1M228.8 225.6h1M233.1 249.5h1M202.4 237.6h1M206.1 162h1M219.1 147h1M219.4 214.8h1M172.5 216.8h1M207.6 254h1M229.6 216.5h1M192.4 249.9h1M125.4 251.6h1M161.5 247.4h1M203.1 224.9h1M237.6 223.2h1M229 245.3h1M145.4 256.2h1M227.1 206.2h1M153.8 221.5h1M128.3 233.5h1M193.6 216.3h1M167.9 188.1h1M138 178.9h1M145 217.5h1M170.5 225.4h1M136.1 251.9h1M218.5 194.2h1M142.6 233.3h1M162.4 185h1M140.1 236.8h1M147.5 248.5h1M192 242.5h1M184.7 226.4h1M232.3 246.9h1M218.5 245.6h1M175.4 229.2h1M199.8 241.2h1M180.8 217.5h1M125.6 251.2h1M155.2 234.7h1M127.4 231.3h1M123.1 238h1M138.4 205.2h1M114 234.8h1M200.6 205.8h1M146.6 250.4h1M200.9 174h1M156.7 218.1h1M185.5 228.3h1M156.2 238.6h1M170.3 197.9h1M241.3 120.7h1M157.7 248.7h1M219.6 89.8h1M208 199.5h1M126 237.6h1M215.1 161.3h1M120.4 164.3h1M128.5 233.7h1M130.6 226.7h1M164.1 164.1h1M207.4 168.6h1M177 196.9h1M208.5 152.3h1M164 214.9h1M194.3 234.7h1M115.9 252.7h1M238.3 210.9h1M185.4 248h1M196.2 159.6h1M152.9 248.2h1M213.2 146.1h1M150.7 243.2h1M157.8 235.9h1M210.1 190.6h1M171.9 191.9h1M116.5 257.1h1M127 224.9h1M133.8 242.6h1M205.9 179.9h1M127.9 228.7h1M209.4 226.2h1M144.6 178.1h1M158.8 221.8h1M208.8 236.6h1M196.9 204.8h1M139.1 253.2h1M185 244.6h1M165.5 245.2h1M200 180.9h1M137.5 231.2h1M228.1 228.2h1M151 236.1h1M116.1 258.5h1M194.3 213.5h1M189.1 201.5h1M167.3 204h1M187.8 114.2h1M223.5 228.2h1M258.8 129.2h1M144.7 228.1h1M185.2 193.4h1M164.3 254.7h1M155.2 248.5h1M230 249.9h1M234.5 147.3h1M235.3 230.7h1M141 227.5h1M238 222.7h1M167.2 241.5h1M161.5 216.5h1M213.7 251.2h1M164 213.3h1M220.3 199.6h1M204.5 178.8h1M163 226.4h1M216.5 183.8h1M226.5 253.2h1M141.8 229.3h1M155.5 228.5h1M172.7 243.1h1M149.2 233.8h1M205.1 161.9h1M171 228.3h1M146.5 241.2h1M195.1 172.6h1M172 243.9h1M166.2 201.8h1M160.4 255.3h1M211.7 178.3h1M190 149.6h1M206.8 197.4h1M189.6 230.6h1M225.2 177.8h1M184.2 203h1M204.9 221.6h1M176.5 246.4h1M122.5 247.3h1M114.8 256.2h1M174 238.4h1M141.7 225.6h1M135.9 214.2h1M156.3 212.1h1M184.6 172.2h1M159 248.5h1M175.2 193.1h1M124.4 232.8h1M142.8 210.3h1M168.2 243h1M256.1 222.5h1" stroke="#0a0aff" stroke-width="1.0" stroke-opacity="0.42" fill="none"/>
<path d="M178.3 212.5h1M215.8 218.4h1M197.4 152.9h1M275 154h1M242.2 158.6h1M241.2 211.8h1M210.4 209.9h1M220 250.2h1M245.1 186.4h1M221 230.3h1M234.4 196.6h1M230.3 221.8h1M233.9 179.4h1M218 242.3h1M245.5 144.3h1M245.1 222.2h1M177.5 218.4h1M255.9 173h1M239.3 184.6h1M190.7 202.9h1M277.2 220.5h1M252.7 188.6h1M244.3 242.9h1M194.1 240.5h1M237.4 224.1h1M257.1 184.3h1M207.7 180.4h1M176.9 173.8h1M294.7 238.6h1M158.3 191.7h1M167.4 206.4h1M170.5 211h1M251.2 214.7h1M175.7 175.9h1M233.3 192.4h1M165 183.1h1M249.6 225.2h1M284.9 196.4h1M249.2 240.2h1M246.5 245.1h1M225.3 177.2h1M195.5 220.1h1M235.4 213.4h1M199.8 231.6h1M238.7 189.8h1M223.4 229h1M232 183.7h1M240.5 226.4h1M269.6 255.1h1M228.4 133.8h1M229.5 240h1M208.7 238h1M258.9 145h1M226.4 223.2h1M237.5 231.5h1M243.5 150.1h1M229.1 196.9h1M232.3 193.1h1M273.2 222.9h1M212.4 209.6h1M208.3 196.2h1M252.8 229.8h1M256.4 129.2h1M289.4 185.1h1M240.6 208.1h1M260.1 252.7h1M210.2 183.3h1M270.7 202.9h1M138 167.2h1M242.3 177.5h1M247.2 242.6h1M214.6 164.3h1M251.4 194.5h1M278.5 101.9h1M255.3 196.7h1M285.3 196h1M293.8 122.2h1M218 172.6h1M285.1 131.2h1M210.3 201.4h1M287.8 146.6h1M173.7 181h1M236.7 215.3h1M256.2 115.4h1M195 256.7h1M263.8 192.4h1M259.8 128.2h1M210.7 211.2h1M199.2 240.2h1M178.7 181.5h1M180 147.6h1M218.7 218.8h1M219 239.3h1M246.7 134.3h1M205.2 211.4h1M237 210.9h1M288.3 224.3h1M217.9 158.2h1M231.1 178.7h1M182.7 214.9h1M217.5 246.4h1M163.2 249.9h1M230.9 150.6h1M278.3 238.7h1M175.7 215h1M174 250.1h1M239.4 222.1h1M179.2 216.6h1M249.2 171.1h1M280.7 201.7h1M214.5 184h1M179 171.4h1M215.7 180h1M216.2 153.3h1M250.4 202.8h1M223.9 183.3h1M293.9 143.3h1M220.5 177.5h1M231.9 198.1h1M219.6 170.2h1M153.9 234.4h1M233.7 164.7h1M241.2 181.6h1M229.5 127.6h1M238.8 164.3h1M247.4 180.3h1M290.4 207.9h1M205.7 251.8h1M194.8 232h1M190.5 185.4h1M275.7 146.1h1M235.5 145.4h1M249.5 166.9h1M194.3 248.1h1M234.5 143.2h1M261.7 219.8h1M248.8 172.2h1M248.1 166.9h1M296.3 183.3h1M215.3 199.9h1M226.4 191.6h1M201.4 154.7h1M260.3 219.4h1M284.9 140.6h1M184.2 237.5h1M282.7 133.8h1M267.6 255.1h1M194.7 235h1M165 255.4h1M230.2 169.3h1M249.9 149.7h1M229.6 179.7h1M281.1 115.7h1M205.8 165.9h1M223.5 150.3h1M281.6 158.5h1M216.8 237.1h1M277.2 191.3h1M236.3 128.4h1M251.9 240.8h1M253.2 141.8h1M269.5 105.7h1M234 145.6h1M278.1 243.6h1M262.4 198.6h1M187.4 226.1h1M279.6 242.2h1M188.4 216.3h1M224.8 150.5h1M159.5 246.7h1M281.9 203.4h1M186.9 175h1M218.5 241.2h1M228.8 237.6h1M182.3 202.9h1M241.3 155.6h1M278.4 222.5h1M151.6 172h1M233.3 173.9h1M156.5 253.9h1M289.9 250.3h1M238.1 173.4h1M199.4 186.4h1M238.1 219.4h1M236.6 138.7h1M189.1 149.8h1M208.9 235.5h1M215 221.6h1M196.9 185.8h1M240.5 228.2h1M273.2 204h1M231.7 104.2h1M207 200.9h1M210.9 230.7h1M247.9 196.9h1M209.3 193.4h1M237.2 145.9h1M242 247.2h1M204.9 129.5h1M232.9 149.1h1M213.9 160.4h1M220.3 188.6h1M245.5 252.5h1M280.3 141.9h1M195 221.3h1M225.7 221.3h1M237.6 124.6h1M263.2 125.4h1M242.5 248.7h1M198 222.2h1M228.1 155.8h1M215.5 179.8h1M218.5 201h1M258.7 160.8h1M242.8 237.6h1M193.7 247.7h1M240.1 234.6h1M245.2 176h1M250.1 152.1h1M208.7 154h1M216.5 133h1M221.1 163.3h1M250.1 168.9h1M247 155.2h1M240.1 186.4h1M295.9 140.7h1M257.7 234.2h1M225 231.2h1M210.1 244.8h1M223.4 216.6h1M204.4 231.7h1M189.4 208.9h1M239.3 147.9h1M222.9 245.6h1M233 252.1h1M145.4 206.3h1M220.2 252.7h1M260.1 198.8h1M159.9 239h1M214 216.9h1M183.2 247.9h1M249.1 200.5h1M208.1 203.8h1M206.2 176.5h1M213.3 178.7h1M232.1 141.3h1M287.8 128.8h1M248.5 165.6h1M190.6 152.3h1M202.6 227.6h1M241.4 210.7h1M202.5 223.9h1M262.6 210.2h1M161.8 219h1M236.3 190.4h1M202.5 182.5h1M215.4 190.6h1M212.8 252h1M227.8 249.8h1M255.1 225.3h1M265.4 232.2h1M179.1 252.8h1M223.5 170.7h1M163.1 209.1h1M263.6 187.5h1M238.7 239h1M170.2 224h1M267.7 249h1M196.9 192.7h1M216 249.1h1M254.4 163.2h1M275.5 245.5h1M183.7 223.1h1M167.1 256.4h1M258.5 139h1M226.5 139.1h1M237.8 143.7h1M249.3 219.1h1M141.4 224.8h1M235.4 211.7h1M177.1 255.4h1M203.8 236.1h1M206.4 201.6h1M267.1 214.2h1M190.3 253.9h1M246.3 230.5h1M258.9 245.6h1M239.3 237.7h1M204.2 167.6h1M213.4 242.4h1M264.1 172h1M225 238.4h1M171.8 225h1M240.5 163.7h1M186.2 249.6h1M238.2 161.4h1M215.7 174.5h1M225.5 196.2h1M263.2 168.9h1M217.6 226.1h1M237.3 211.6h1M185.6 225.7h1M240.6 185.7h1M189.1 197.7h1M199.8 224.5h1M191.5 196.9h1M206.5 175.1h1M223.9 181.1h1M254.8 218.6h1M233.5 148h1M283.7 256.7h1M276 247.6h1M178.1 238.7h1M189.8 164.2h1M190.4 245.8h1M239.8 134.3h1M240.1 210.5h1M272.5 135.4h1M224.7 225.5h1M288.9 157.7h1M192.1 253.7h1M199.5 157.4h1M274.8 157.9h1M169 180.2h1M207.1 252.2h1M240.9 149.2h1M236.7 133.7h1M263.5 197.6h1M237.2 164.4h1M219.7 242.8h1M249.1 239.9h1M173.9 251.6h1M196.3 250.9h1M249.9 191.2h1M268.2 239.5h1M189.3 139h1M187.1 206.9h1M235.6 167.7h1M183.2 218.9h1M289.1 189.3h1M239.9 233.8h1M222.2 144h1M224.8 182.1h1M229.1 202.1h1M232.2 228.2h1M163.5 211.1h1M177.9 156h1M226.2 257.7h1M182.3 242.2h1M171.9 233.9h1M234.5 194.2h1M251.6 143.6h1M203.3 174h1M246.3 192.2h1M298.9 210.7h1M196.7 227.6h1M199.6 225.9h1M183.1 254.6h1M140.8 171.1h1M242.2 240.5h1M246.3 127h1M184.2 257h1M262.8 150h1M219.2 206.7h1M240.2 161.5h1M230.5 181.7h1M204.8 222h1M244.1 217.2h1M209.1 187h1M200.7 204.8h1M225.1 149.6h1M251.6 209.8h1M258.8 233.9h1M217.8 192.9h1M239.4 217h1M243.8 141.1h1M204.4 247.7h1M189 235.3h1M251.1 180.8h1M192.5 182.3h1M189 173.9h1M288.1 192.7h1M250.9 227.4h1M246 123.8h1M262.8 108.4h1M253.3 165.6h1M182.5 206.9h1M232.2 201.6h1M151.6 210h1M235.9 237.9h1M196.3 171.5h1M236.2 139.1h1M276.8 229.5h1M264.7 190.6h1M249.2 239.4h1M223.6 153.6h1M178.3 250.1h1M242.6 195.2h1M288.2 144.9h1M233.5 228.2h1M269.8 220.7h1M172.5 180.2h1M199.8 173h1M212.9 186h1M205.8 252.1h1M247 167.9h1M197.2 171h1M215.4 215.2h1M189.7 205.9h1M175 221h1M248 221.6h1M215.9 202.6h1M203.4 177.6h1M219.9 194h1M269.6 227.1h1M245.8 185.5h1M233.5 200.4h1M295.7 204.6h1M172.9 235.1h1M294.2 169.1h1" stroke="#ff5a0a" stroke-width="1.0" stroke-opacity="0.75" fill="none"/>
</g>
<g clip-path="url(#clipc)">
<path d="M176.3 497h1M183.9 548.2h1M124.3 557.1h1M224.2 558.6h1M155.9 535.2h1M134.3 552.7h1M227.2 548h1M257.5 534.2h1M166.6 544.7h1M120.4 552.4h1M180.6 522.2h1M252 510.6h1M146.2 535.1h1M166.6 495.5h1M168.7 544.7h1M195.1 562h1M226.8 499.6h1M189.8 545.8h1M155.4 501.5h1M130.5 545.5h1M205 547h1M203.4 567.1h1M151.2 562h1M230.8 485.1h1M213.6 487.2h1M131.9 563.5h1M235.4 428.8h1M141.5 564.8h1M203.8 534h1M173.1 500.4h1M167.3 515.1h1M151.2 556.8h1M144.7 548.5h1M132 566.9h1M115.5 558.6h1M247.7 441.4h1M237.5 537.9h1M161.5 536.2h1M150.6 549.5h1M212.1 562.1h1M128.9 547.6h1M159.5 551.3h1M137.3 559.3h1M260.5 489.1h1M199.5 529.3h1M187.5 555.1h1M146.8 553.5h1M165.9 522h1M172.1 548.3h1M159.5 562h1M227.8 562.8h1M172.4 448h1M252.5 455.7h1M121.1 528.2h1M221.4 558.9h1M155.5 499.3h1M210.9 498.7h1M204.1 455.7h1M211.3 529h1M192.4 554.5h1M181.9 551h1M182.7 515.6h1M180.1 560.4h1M130.8 555.1h1M179 470.4h1M140.8 532.8h1M210.5 492.5h1M141.9 549.2h1M234 481.5h1M198.9 471.5h1M249.4 493.2h1M163.2 546.4h1M214 502.7h1M181.5 492h1M220.1 463.6h1M163.1 528h1M189.8 560.5h1M260.4 492.3h1M141.1 537.3h1M170.1 530.7h1M137.5 549.8h1M139.2 540.2h1M183.7 509.4h1M177 531.3h1M193.8 537.1h1M130.8 524.8h1M147.8 543.2h1M193.7 524h1M114.6 529.6h1M212.8 550.5h1M121.5 561.9h1M212.6 480.8h1M221.5 436.7h1M174.2 553.9h1M137.7 532.6h1M224.1 520.1h1M221 553.3h1M172.9 566.2h1M250.4 469h1M207.9 491.3h1M228.5 480.8h1M213.4 559.9h1M116.6 553.3h1M161.9 565.9h1M228.5 516.1h1M226.6 566h1M117 555.1h1M211.4 464.9h1M121.8 533.1h1M197 488.5h1M169.4 524h1M186 503.7h1M201.3 514.1h1M185.7 494.1h1M164.2 549.9h1M211.2 477h1M203 524.9h1M211.3 559.8h1M204.6 490.9h1M143.5 566.2h1M227.2 541.8h1M130.7 552.2h1M215.4 460.3h1M177.5 553.4h1M161.9 503h1M214.1 508.8h1M133.4 533.5h1M138.6 551.7h1M192.5 550.4h1M202.5 537.5h1M195.7 499.2h1M218.7 489h1M185.5 482.5h1M164.2 511.6h1M133.5 560.7h1M161.4 539.4h1M226.8 511.8h1M193 553.8h1M204.9 540.5h1M122.8 540.9h1M182.9 489.3h1M221.5 560.3h1M140.9 506.6h1M225.4 441.3h1M247 557.8h1M134.3 532.2h1M150.3 532.2h1M227.9 558.9h1M256.4 467.3h1M217.3 538.4h1M159.6 565.5h1M118.6 523.1h1M217.1 421.1h1M131.3 528.8h1M209.6 475.3h1M186.4 553.3h1M234.1 448.7h1M130.3 528.2h1M171.7 495.1h1M170.6 540.3h1M185.8 486.2h1M129 567.3h1M177.4 506.5h1M223.6 489.4h1M148.4 507.5h1M166 499.2h1M214.4 457.1h1M201 471.4h1M199.6 515.6h1M229.5 542h1M146.5 527.6h1M145.5 511.4h1M168 504.6h1M185.5 553.6h1M238.4 522.7h1M207.7 490h1M195.6 513.8h1M141.2 546.8h1M151.7 535.6h1M183.5 543.2h1M177.7 462.3h1M142.7 520.3h1M126.7 565.3h1M195.5 539h1M156.4 565.4h1M113.9 553.2h1M225.4 526.3h1M257 469.5h1M229.1 535h1M119.7 546.2h1M115.5 524.4h1M153.5 521.1h1M205.1 472.1h1M236.2 445.5h1M182.6 497h1M129.8 554.3h1M207.5 512.3h1M134.5 562.3h1M216.8 515.3h1M122.6 548.1h1M222 557.3h1M201.6 529.2h1M197.7 493.7h1M211.1 561h1M156.2 528.6h1M121.8 545.6h1M129.3 531h1M209.3 524.6h1M212.8 474.1h1M174.2 492h1M198.7 512.7h1M135 533.7h1M224.2 529.9h1M159.9 566h1M171.2 528.8h1M141.4 550.7h1M163.7 554.2h1M175.1 506.3h1M166.9 529.6h1M233.5 461.4h1M215.1 520.6h1M179.7 497.5h1M180.8 501.8h1M287.6 499.8h1M115.9 555.3h1M153.3 538.8h1M175.9 488.2h1M158.6 515.6h1M184.9 498.8h1M150.3 514.2h1M241 541h1M126.8 541.4h1M183.1 487.7h1M183.5 557.7h1M211.9 529.2h1M218.2 520.3h1M209.3 493.1h1M131.9 517.7h1M235.7 425.3h1M187.7 466.3h1M145.2 562.2h1M190 522.6h1M221.3 455.2h1M159.4 561.1h1M134.9 564.9h1M177.6 523.1h1M202.5 543.2h1M146.1 519.4h1M237.2 562h1M190.8 536.3h1M162.9 541.8h1M127.8 557.1h1M183.4 477.8h1M168.3 552.8h1M227.5 550.4h1M190.8 532.6h1M192.3 503.2h1M129.2 517.2h1M184 557.3h1M176 541.1h1M168.7 502.8h1M154.4 533.4h1M193.3 544.6h1M139.6 563.5h1M210.6 538.9h1M149.7 563.3h1M231.2 477.9h1M202.8 554.1h1M205 467.5h1M183.5 482.6h1M216.4 482.7h1M189.8 492.1h1M160.8 551.2h1M146.1 518.8h1M143.8 549.6h1M156.1 558h1M215.1 524.2h1M235.2 477.1h1M156.2 503.7h1M116.4 552.2h1M218.2 466.9h1M163.2 535.7h1M121.4 522.3h1M150.6 541.7h1M186.5 522.3h1M163.8 548.9h1M129.4 525h1M124 552.9h1M141.1 557.3h1M183.2 495h1M189.1 549.5h1M219.6 552.1h1M224.3 501.8h1M161.2 532.5h1M153 555.4h1M186.9 556.7h1M235.5 549.2h1M203.8 563.2h1M129.3 547.9h1M190.7 551.8h1M191.3 496.3h1M205.6 550.8h1M228.7 525.9h1M139.7 486.9h1M142 549.1h1M181.9 539.1h1M246.2 563.6h1M168.3 548h1M180.4 473.1h1M233.7 541.9h1M149.9 476.2h1M141.8 555.1h1M148.6 567.6h1M186.5 515.4h1M214.7 558.2h1M242.9 529.7h1M145 556.6h1M223.4 488.7h1M157.6 540.8h1M183.6 510.9h1M185.8 537.8h1M136.6 527.3h1M239.2 459.8h1M141.5 554.6h1M143.9 548.3h1M215.2 553.6h1M122.2 510.9h1M113.8 557.3h1M145.4 552.7h1M170.3 484.3h1M115.1 555.2h1M191.4 545.8h1M159.4 567.5h1M205.2 482.4h1M211.5 464.2h1M227.8 496.3h1M231 506.1h1M145.1 490.6h1M124.5 563.7h1M163.8 538.9h1M217.5 465.1h1M197.2 510.2h1M186.4 503h1M205.7 507.7h1M191.5 508.1h1M156 520.9h1M115.5 533.7h1M150.3 492.3h1M152.9 548.3h1M234.7 538.3h1M190.6 501.4h1M124.5 555.7h1M114.1 556.8h1M188.6 486.2h1M202.2 509.4h1M202.3 551h1M161.8 557.6h1M185.8 556h1M165.6 506.8h1M160.4 470.4h1M181.6 516.2h1M205.9 490.2h1M135.1 544.6h1M226.8 464.3h1M142.3 532.8h1M133.6 521.7h1M214.1 554.5h1M136.4 547h1M181.7 481.5h1M197.2 495.8h1M158.3 483.1h1M238 531.3h1M147.1 556.6h1M162.8 536.2h1M153.9 530.8h1M114.2 541.2h1M125.6 529.5h1M284.3 508.8h1M128.5 565.4h1M141.3 524.3h1M216.5 497.7h1M189.6 528.2h1M218.1 483.8h1M151 518.9h1M129.6 543.4h1M229.5 491.9h1M225.8 556.1h1M192.6 492.4h1M158.7 500.1h1M192.5 562.7h1M149 542.8h1M198.2 519.5h1M130.4 567.6h1M142.3 556.9h1M143.3 513.6h1M171.7 532.2h1M186.6 485.4h1M130.5 558.5h1M155.9 547.8h1M218.2 433.3h1M215.3 558.3h1M166.3 496.4h1M127.5 545.1h1M226.5 439.8h1M193.6 550.5h1M116.7 529.7h1M173.1 550h1M203.9 485.1h1M202 471.1h1M130 563.8h1M118.4 533.2h1M214.1 477.5h1M172.6 524.3h1M240.8 452.4h1M225.7 483h1M205.9 498.4h1M220.8 442.4h1M153.4 489.7h1M213.8 528.5h1M153.6 502h1M222.7 449.5h1M211.8 500.3h1M141.9 531.1h1M147.3 528.2h1M216.4 525.2h1M273.5 454.6h1M213.2 506.5h1M120.5 543.9h1M208.2 484.9h1M165.5 531.3h1M117.8 554h1M199 511.5h1M133.7 532.7h1M152.4 540.9h1M161 547.3h1M127.3 556.2h1M215 439.6h1M238.6 503.6h1M123.6 557.7h1M187.5 560.8h1M174.1 521.7h1M218 464h1M136.9 532.8h1M114.6 553.9h1M168.1 545.2h1M124.1 546h1M288.4 460.1h1M211.3 455.5h1M117.3 553h1M226.3 567h1M161.2 526.2h1M172 561.3h1M125.4 561h1M153.8 526.1h1M219.3 536.4h1M126 531.1h1M236.3 563.2h1M178.4 488.7h1M207.8 488.9h1M136.7 494.5h1M221.4 549.1h1M202.6 530.8h1M168 503.7h1M147.3 521.9h1M172.5 508.7h1M190.2 535h1M144 527.7h1M126.9 544.4h1M209.2 478.3h1M238.9 512.1h1M130.8 544.9h1M165.8 474.1h1M213.1 441.5h1M253.9 502.5h1M187.2 535.8h1M217.1 554h1M204.5 520h1M198.1 476.8h1M169.8 499.7h1M120.2 559.7h1M121.6 554.2h1M166.8 536.1h1M170.9 497.9h1M132.9 539.1h1M140.9 535.3h1M202.9 562.2h1M173 526.9h1M180.6 531h1M133.4 552.6h1M137.1 542h1M187.6 523.1h1M152.1 542.3h1M280.8 455.7h1M175.5 506.7h1M216.5 562.4h1M202 558.1h1M212 492.7h1M180.1 490h1M170.4 545.2h1M210.1 528.6h1M170.6 535.8h1M136.2 513h1M145 523.3h1M199 547.6h1M202.4 506.9h1M198.5 548.6h1M219.1 477.4h1M152.4 543.6h1M229.7 477h1M175 562.6h1M135.2 554.5h1M215.8 502.2h1M122.9 560h1M212.6 529.7h1M173.3 532.8h1M191.4 510.8h1M148.3 532.7h1M200.9 556.9h1M179.8 548.4h1M212 527.1h1M215.2 553.2h1M186.7 552.1h1M134.2 541.9h1M240.3 552h1M130.6 526h1M208.7 479.7h1M175.1 521.7h1M148.7 533.3h1M205.1 530h1M184.4 536.8h1M124.6 507.9h1M168.4 548.5h1M187 504.7h1M214.4 485.1h1M191.9 529.5h1M227.2 509.3h1M178.5 440.6h1M187.5 545.6h1M136.2 555.9h1M129 558.5h1M188 553.1h1M134.3 551h1M168.8 511h1M116.4 565.4h1M205.2 516.6h1M174.2 565.2h1M207.4 542.7h1M144.9 551.5h1M215.6 548.9h1M232.4 537.1h1M194.2 467.8h1M157.6 511.8h1M166.4 516.1h1M240.7 542.2h1M269.3 471.7h1M133.7 539.9h1M211.7 481.4h1M120.6 538.7h1M189.9 540.4h1M230.2 505.4h1M189.5 509.5h1M136.5 548.7h1M123.2 549h1M206.8 535.8h1M163.4 548.1h1M148.7 507.4h1M194.1 517.5h1M172.8 533h1M195.8 483.2h1M158.4 516.7h1M183.7 468.4h1M235 526.2h1M236 447.3h1M117.9 558.9h1M179.3 563.7h1M150.4 531.2h1M150 543.6h1M208.3 544.1h1M151 507.1h1M228.9 498.9h1M191.6 561.8h1M136.4 527.6h1M224.6 441.7h1M151 549.9h1M241 506.3h1M157.4 553.4h1M171.1 491h1M180.2 544.3h1M142.6 553.1h1M194.4 553.1h1M166 531.9h1M149.8 513.7h1M219.3 558.8h1M183 529.1h1M161.3 561.8h1M166.1 560.1h1M217.4 545.9h1M154.5 538h1M169.6 558.3h1M144.3 502.9h1M166.3 560.7h1M188.5 486.3h1M278.7 489.4h1M203.7 469.3h1M165 500.8h1M122.2 560.5h1M166.2 548.1h1M211.7 467.3h1M121.8 544.1h1M177.3 565.8h1M163.5 507.7h1M205.1 516.4h1M136.4 548.2h1M163.3 497.8h1M212.8 466.3h1M164.3 531.6h1M175.9 535.6h1M258.5 509.2h1M169.6 546.5h1M207.9 564.2h1M202.6 510.9h1M211.2 559.2h1M212.7 539.7h1M191.5 534.6h1M178.9 510.9h1M160.3 563h1M128.6 560.4h1M226.1 494.5h1M116.6 553.5h1M151.4 514.8h1M219.4 470.7h1M189.2 531.9h1M165.8 501.8h1M192.4 524.2h1M127.8 566.2h1M188.5 543.7h1M150.2 568h1M164.2 490.5h1M168.9 513h1M115.9 545.2h1M178.3 476h1M138.4 503.6h1M136.3 529.2h1M228.4 564.8h1M210.3 462.3h1M173 551.5h1M255.7 456.8h1M184.2 519.1h1M163.3 514.4h1M236.5 558.4h1M223.1 535.8h1M227.6 525.4h1M197 484h1M182.7 478.5h1M209.6 543.1h1M138.1 523.5h1M113.4 505.8h1M179.7 505.8h1M223.5 529.2h1M130.9 530.1h1M254.8 561.6h1M245 503.1h1M190.5 544.5h1M125.4 558.1h1M120.4 548.5h1M203.1 556.4h1M178 546.5h1M133.4 565.6h1M191.5 542.3h1M192.5 533.3h1M179.4 490.4h1M189.8 554.2h1M135.1 546.1h1M185.4 514.5h1M192.7 532.5h1M159.7 530.9h1M125.5 542h1M162 558h1M158.1 508.7h1M194.7 476.7h1M224.5 490.4h1M136.5 562.5h1M179.2 484.3h1M223.7 546.1h1M169 500.2h1M191.3 483.4h1M211 526.4h1M201.3 559.2h1M182.5 485.5h1M133.5 521.1h1M186.7 476.7h1M208.4 545.2h1M147.9 550.7h1M146 509.5h1M133.5 547.9h1M198.9 540.9h1M208.5 520.6h1M125.4 559.5h1M188.4 565.7h1M155.9 532.9h1M126.4 536.4h1M213 558.8h1M235.5 504h1M184.1 479.6h1M199.7 518.2h1M220 557.6h1M248.7 531.2h1M148 501.6h1M173.6 513.7h1M124.7 538.2h1M178.1 521.8h1M136 530.8h1M171.9 450.6h1M118 553.7h1M138.4 561.1h1M244.9 506.6h1M207.2 555.8h1M127.9 538.5h1M117.3 542.6h1M193.7 560.5h1M189.1 545.3h1M186.1 551.9h1M215.5 533.1h1M185 531.7h1M130.1 562.8h1M125.4 563.6h1M160.3 506.5h1M195.6 497.1h1M172.7 565.1h1M224.4 476.7h1M213 447.4h1M208.2 472h1M123.9 521.1h1M220.4 530.1h1M132.9 556.7h1M189.9 533.2h1M145.9 532.2h1M157.8 561.2h1M188.3 530.5h1M151.8 509.6h1M182 544h1M122.8 565.3h1M208.8 557h1M199.6 514.9h1M211.5 523.9h1M175.5 531.4h1M125.2 557.8h1M196.4 490.3h1M129 551.5h1M180.7 561.9h1M258.6 549.5h1M212.5 503.4h1M160.1 512.6h1M200.7 533.2h1M253.6 494.8h1M162 558.1h1M236.7 466.5h1M134.9 511.3h1M161.3 518.7h1M166.7 529.9h1M223.2 477.5h1M252.5 528.2h1M136.1 565.5h1M153.2 564.5h1M209.1 530.4h1M113.2 562.6h1M180.8 554.5h1M156.3 515h1M183.7 514.6h1M213.3 498.3h1M146.4 555.5h1M223.8 434.8h1M218 542.9h1M119.7 548h1M155.9 534.8h1M170.4 556.4h1M201.9 487.8h1M144.9 563.7h1M150.5 541.7h1M216.1 562h1M232.8 501.7h1M228.2 478.8h1M189.9 519.2h1M161.7 525.1h1M121.8 526.1h1M142.8 530.2h1M127.1 537.6h1M144.6 567.2h1M194.8 542.4h1M164.2 540.8h1M206.6 499.8h1M113.8 542.7h1M201.3 526.8h1M191.1 535.7h1M182.3 566.9h1M216.2 518.3h1M203.4 485.5h1M185 556.8h1M207.7 563.9h1M218.8 475.3h1M201.5 493.4h1M233.5 529.3h1M240.4 442.8h1M220.9 564.2h1M137 527.3h1M162.5 563.2h1M156.1 546.4h1M192.4 530.6h1M156.2 555.6h1M191.8 500.7h1M245.9 495.4h1M173.6 491.8h1M240.8 498.5h1M177.5 508.4h1M152.7 542.8h1M235 441.9h1M163.6 540.1h1M156.2 560h1M155.2 484h1M215.7 451.1h1M123.7 554.2h1M175.3 504.9h1M238.2 557.4h1M228.3 481.9h1M162 505.1h1M218.4 477.6h1M203.7 483.8h1M193.5 532.6h1M181.4 484.5h1M155.3 559.2h1M170.5 544.5h1M126.9 568h1M132.5 564.1h1M225.3 486.5h1M147.9 531.1h1M198.6 559.2h1M124.5 533.7h1M232.8 514.4h1M215.7 489.5h1M160.2 501.7h1M191.8 564.8h1M207 452.2h1M235.5 518.6h1M246.1 546.1h1M123.8 552.7h1M118 558.4h1M126.5 542.3h1M190.5 566.9h1M149.5 552.4h1M189 534.1h1M168.5 549.4h1M256.3 470.8h1M195.9 484.6h1M171.8 553.2h1M211.8 530.9h1M123 533.4h1M154.7 401.7h1M122.2 558.2h1M199.3 528.9h1M240.8 515.2h1M182.5 512.9h1M239.2 490.9h1M234.2 498.4h1M186.3 532.8h1M173.8 533.4h1M236.6 546.3h1M165 545h1M214.7 458.3h1M121.6 555h1M176.7 544.6h1M194.6 563.4h1M162.3 548.6h1M174.9 531.5h1M142.1 434.7h1M196.4 490.9h1M166.5 561.2h1M199.1 452.8h1M157.8 504.5h1M175.4 564h1M187.8 519.7h1M144.6 554h1M171.9 536h1M129.3 554.6h1M210.2 512h1M147.3 566.4h1M194.1 513.5h1M143.9 546.4h1M214.4 527.9h1M216.7 531.9h1M116.7 519.3h1M127.8 546.9h1M152.5 549.2h1M182.2 536.6h1M193.7 512.9h1M114.9 566.5h1M155.4 503.1h1M156.3 555h1M220.8 510.8h1M124.7 559.6h1M201.4 482.9h1M156.9 556.3h1M133.5 533.7h1M128.4 558.1h1M176.7 502h1M198.8 483.1h1M203.1 529.8h1M118 554.2h1M245.2 387.3h1M199.1 538.4h1M184.5 511.8h1M157.1 548.4h1M118.8 561.2h1M130.9 564.5h1M178.6 545.4h1M231.6 517.1h1M194.6 469.7h1M117.6 486.4h1M185.6 505.8h1M208.9 548h1M158.9 541.3h1M170.2 532.9h1M156.8 408.8h1M212.5 549.6h1M215.8 548.5h1M170 492h1M141 514.8h1M178.6 536.3h1M121.5 547.4h1M180.5 514.6h1M207.8 565.6h1M155.6 495h1M162.6 562.3h1M127.2 543.2h1M207.8 453.4h1M262.7 557.6h1M230.5 544.4h1M174.7 553.3h1M246.2 474.2h1M232.1 456.8h1M129.7 542.2h1M180.5 521.8h1M163.1 520h1M117.3 547h1M163.1 513.6h1M186.5 503.6h1M132.4 488.3h1M166 555.2h1M180.6 547.6h1M224.1 459.5h1M113.5 563.8h1M185.8 519.3h1M217.5 491h1M143.4 521.1h1M186.1 502.9h1M214.1 464.5h1M115.6 524.8h1M126.4 561.5h1M124.9 551.4h1M190.2 485.5h1M124.7 524h1M174.7 515.6h1M214.1 566.2h1M211.2 445.1h1M167.7 530.4h1M152.7 533.7h1M132 558.7h1M194.6 543.3h1M186.4 498.5h1M127.6 541.1h1M216.8 522.9h1M177.9 566.6h1M214.9 451.8h1M137.8 557.4h1M172.7 557.5h1M203 470.8h1M233.6 525.6h1M219.7 484.8h1M198.2 481.1h1M121 534.4h1M151.8 563.7h1M207.3 482.3h1M207.8 498.5h1M231.7 494.9h1M174.6 489.8h1M160.4 530h1M126.6 467.4h1M142.9 532.7h1M232 490.4h1M251.7 546.4h1M215.9 556.3h1M201.2 482.8h1M161 532.6h1M127.4 550.7h1M191.8 482h1M195.8 533.8h1M170.4 496.6h1M132.5 560.5h1M144.1 520.2h1M131.7 537.6h1M240.4 550.8h1M161.5 527.1h1M152.8 519h1M187.7 468.4h1M203.4 494.1h1M154.1 522.4h1M193.5 514.5h1M138.3 565.6h1M176.2 518.6h1M208 560.9h1M124.9 543.2h1M205 540.6h1M120.4 538.6h1M131 516.5h1M125.9 564h1M176.4 487.7h1M144.4 547.8h1M132.9 555.9h1M164.9 532.4h1M165.1 515.9h1M126 550.7h1M120 553.2h1M145.7 559.6h1M168.6 507.4h1M228.7 477.3h1M153.4 507.3h1M231.3 556.7h1M180.3 547.1h1M166.5 493.7h1M205.1 503.8h1M198.4 510.9h1M167.2 522.4h1M214.6 511.5h1M212.3 556.7h1M148 498.5h1M155.3 557h1M156.7 550h1M115.8 544.2h1M166.8 528.3h1M234.9 553.2h1M206.5 551.6h1M203.5 527.9h1M219.9 463.6h1M184.9 567.1h1M172.9 538.9h1M194.9 545.5h1M178.9 525.1h1M207.2 451.3h1M218 502.6h1M227.6 464.9h1M230.1 513.9h1M166.6 496.7h1M161 500.9h1M117.2 520.2h1M143.4 566.3h1M153.3 517.5h1M133 557.9h1M221.9 567.3h1M204.5 552.5h1M216 547.2h1M211.2 515.3h1M199.4 521h1M152.1 551.3h1M180.4 525.8h1M200.2 548.6h1M123.1 555.9h1M164.9 513.6h1M126.2 564.3h1M202.5 528.7h1M130 555.3h1M165.7 551h1M213.1 528.6h1M121.3 547.1h1M210.5 545h1M119.2 540.7h1M194.6 565h1M247.7 549.7h1M194.2 493.4h1M208.1 561.5h1M220.2 493.7h1M191.5 508.7h1M207 550.4h1M206 545.2h1M119.5 551.9h1M179.1 550.9h1M181.8 558.5h1M159 525.1h1M157.4 536.3h1M201 556.5h1M142.2 524.9h1M207.1 462.5h1M245.7 535.9h1M217.7 508.4h1M192.4 478.8h1M190.7 514.5h1M222.7 522h1M131.3 537.7h1M164.1 527h1M158.9 553.8h1M194.3 537h1M161.6 521h1M173.9 523.2h1M151.2 557.3h1M172.7 516.9h1M225.6 484h1M173.9 534.3h1M197.6 554.7h1M131.6 567.6h1M200.4 459.1h1M136.2 554.6h1M116.5 544.6h1M163.4 505.3h1M118.2 542.5h1M229.6 456.6h1M184.5 532.6h1M198.5 541.5h1M122.2 562.9h1M157.3 557.1h1M203.8 496.1h1M227.3 537.9h1M166.2 554.1h1M206.8 497.1h1M257.3 532.3h1M126.5 509.4h1M201.8 532.9h1M151.3 565.4h1M120.3 563.9h1M157.9 529.5h1M135.7 518.8h1M183.7 543.2h1M169.7 501.5h1M170.4 523.8h1M235 533h1M126.2 533.2h1M170 539.7h1M245.2 521.2h1M214.7 478.3h1M197.8 557.6h1M146.1 539.7h1M129.8 527.3h1M175.5 557.4h1M183.3 507.7h1M121.1 524.2h1M223.4 461.1h1M161 560.6h1M140.8 547.9h1M116 540.4h1M206.8 463.2h1M142.6 492.1h1M127.9 527.8h1M215.8 485.6h1M172.2 512.3h1M201.4 499.1h1M123.4 526.6h1M206.7 386h1M175.5 523.4h1M216.9 544.9h1M227.5 454.1h1M175.8 521.4h1M176.1 500.5h1M198.3 556.9h1M115.2 562.1h1M203.6 551h1M183.6 549.2h1M198.9 462.2h1M229.9 482.6h1M115.2 544.9h1M116.5 554.9h1M143.5 539.2h1M156.9 530h1M188.3 539.3h1M230.2 557h1M162.2 532.2h1M182.8 503.3h1M197.7 546.6h1M215 509.5h1M148.1 533.8h1M220.1 556.7h1M150.9 544.9h1M239.7 534.8h1M167.5 534.1h1M185.6 564.7h1M224.6 505h1M129.6 501.4h1M208.1 471.7h1M204 480.6h1M233.8 551.1h1M162.9 526.8h1M226 563.3h1M202.4 461.7h1M172.5 539.3h1M137.2 541.4h1M146.8 553.8h1M191.9 561.7h1M121.1 558.3h1M200.3 558.6h1M220.3 534.8h1M124.4 554.5h1M173.7 559.2h1M201.6 562.9h1M250.7 441.7h1M238.3 530.1h1M179.4 487.7h1M165.1 508h1M129.6 558.4h1M148.6 567h1M156.9 529.1h1M161.1 547h1M178.4 517.3h1M136.7 558.5h1M190 497.3h1M159.3 552.3h1M113.3 539.1h1M132.5 547.4h1M174.6 513.7h1M174.1 563.7h1M136 525.3h1M184.4 558.3h1M188 503h1M134.5 530.8h1M195.7 488.5h1M153.8 546.2h1M233.1 458.8h1M205.5 551.1h1M134 560.4h1M165.7 494.3h1M187.5 477.4h1M189.7 535.1h1M193.1 535.6h1M164.9 544.7h1M213 492.8h1M161.3 529.4h1M205.7 496.5h1M230.4 558.5h1M119.5 548.7h1M167.9 530h1M162.1 501.8h1M121.7 502.5h1M187.6 545h1M128.3 554.7h1M228 512.6h1M237.4 442.9h1M181.9 567.9h1M167.5 470.8h1M184.3 500.1h1M136.6 547.9h1M152.9 517.6h1M211.3 550.5h1M160.9 503.7h1M211.4 511.4h1M131.4 538.8h1M179.3 507.1h1M119.9 560h1M216 493.4h1M230 533.3h1M194.4 464.3h1M122.8 554.3h1M128.6 533.7h1M223.6 418.1h1M144.1 541.3h1M173.7 558.8h1M128.5 547.7h1M179.2 496.9h1M233.4 533.5h1M195.1 483.4h1M194.2 526.9h1M118.6 549.1h1M191.2 478.5h1M176.1 492.5h1M155.4 565.9h1M146.5 563.2h1M161 554.1h1M162.5 502.1h1M224.3 534.8h1M217.1 544h1M251.4 434h1M126.3 561.4h1M208.8 447.3h1M128 545.1h1M149.8 540.9h1M152 565.9h1M249.6 498.8h1M168.5 549.1h1M185.6 543h1M190.7 566.6h1M194.6 536.5h1M159.9 531.9h1M187.7 566.4h1M171.8 540.2h1M196.6 536.4h1M189.4 474.4h1M228.2 512.8h1M148 553.2h1M224.7 510.8h1M169.5 561h1M169 532.3h1M194.8 551.6h1M121.3 553.6h1M129.4 557.1h1M116.9 549.4h1M223.9 559.1h1M147.9 539.2h1M199.9 560.9h1M189.9 499.1h1M159 558.5h1M230.5 476.9h1M232 541.7h1M150 539.7h1M176.4 520.5h1M209.9 482.2h1M217.1 544.8h1M123.2 553.9h1M195.4 563.4h1M224.2 560.8h1M239.7 536.9h1M206.9 476.1h1M181.1 505.7h1M183.1 472.1h1M210.1 540.5h1M193.8 509h1M242.7 542h1M186.8 544.9h1M128.8 554.8h1M131.1 533.2h1M184.6 551h1M148 534.7h1M176.2 498.1h1M237.6 531.3h1M228.9 546.7h1M180.4 429.4h1M163.7 543.1h1M121.1 565.9h1M210.5 474.8h1M213.6 481.2h1M115.7 546.6h1M221.1 522.5h1M244.2 554.2h1M160.2 561.9h1M162 556.1h1M148.1 548.8h1M220.8 553.6h1M119.2 551h1M206.4 512.5h1M119.4 562.3h1M208.2 514h1M162.6 517.9h1M125.9 530.1h1M203.8 483.1h1M153.9 558.2h1M142.9 517.5h1M231.2 492.9h1M149.3 538.6h1M118.2 545.3h1M208.1 535.8h1M203.9 562h1M252.2 516.8h1M159.5 557.8h1M211.3 499.3h1M124.6 561.3h1M147.8 564.5h1M145.7 547.5h1M220.1 528.6h1M141.7 499.8h1M201.2 451.4h1M137.2 541.3h1M210.3 406.7h1M196.1 551.4h1M140.8 563.4h1M179.1 490.6h1M149.9 560.8h1M171.1 540.8h1M152.5 458.5h1M139.1 557h1M140.3 524.2h1M226.9 449.8h1M139.3 567.3h1M173 547.3h1M137 559.1h1M119.5 540.5h1M219.1 562.3h1M168.5 542.4h1M144.8 517.9h1M168.3 512.7h1M118.6 563.6h1M224.9 462.6h1M148.8 513.2h1M124.4 537.3h1M214.1 534.5h1M157.8 564.5h1M142.9 549.6h1M191.7 522.6h1M117.1 549.5h1M229.9 549.7h1M207.1 498.8h1M118.3 565.5h1M217.7 503.2h1M204.2 479.6h1M140.2 544.7h1M186.4 556.9h1M183.2 564.7h1M117.9 565.2h1M193.8 560.9h1M174.4 534.7h1M178.9 566.1h1M152.2 532.8h1M139.8 559.1h1M131.3 539.2h1M191.8 485.9h1M158.1 515.7h1M153.9 534.8h1M232.7 549.1h1M174.9 477.2h1M151.5 562.6h1M164.4 510.1h1M226.1 498.9h1M210.4 517.3h1M201.8 491.6h1M232.8 476.2h1M237.2 447.4h1M222.4 546.1h1M140.6 565.5h1M171.3 495.3h1M230.9 443.2h1M157.4 550.9h1M173.7 559.4h1M227.9 537.3h1M146.8 562.3h1M173.5 555.9h1M170.5 491.3h1M128.4 551.1h1M208.2 498.5h1M218.4 496.2h1M172.4 549.6h1M125.7 557.8h1M123.5 543h1M168.3 494.1h1M234.5 480.9h1M195.8 519.1h1M182.1 543h1M198 561.6h1M214.5 561.3h1M209.6 503.9h1M163.3 533.7h1M140.7 530h1M195.9 529.1h1M173.3 558.7h1M135.9 548.2h1M127.2 545h1M139.4 519.5h1M176.5 559.2h1M183.9 564.7h1M203.9 525.1h1M151.7 528.8h1M130.6 564.5h1M149.9 539h1M127.4 547.2h1M121.7 548.1h1M199.5 503.7h1M179.8 494.9h1M157.9 564.8h1M213 523.3h1M274.2 464.2h1M130.1 528.7h1M128.3 525.7h1M175.7 508.5h1M149.9 559.3h1M226.8 499.6h1M182.5 509.1h1M161.1 505.3h1M180.4 484.8h1M148.4 559.9h1M175 512.4h1M216.5 511.2h1M207 479.3h1M221.3 545.5h1M180.9 521.3h1M211.9 553.1h1M130.7 552.1h1M166.4 508.6h1M124.3 507.8h1M151.5 531.8h1M176.2 524.2h1M214.8 525.5h1M174.4 534h1M179.7 479h1M244.9 519.3h1M127.4 558h1M219.2 533.4h1M192.2 555.8h1M175.3 514.9h1M185.2 544.2h1M233.9 461.9h1M165.2 534.1h1M202 481.3h1M232.9 553.4h1M228.1 557.4h1M161.2 515.4h1M154.6 522h1M184.4 492.9h1M114.1 544.1h1M206.7 541.5h1M190.5 511.9h1M201 512.9h1M119.7 559.8h1M130.1 533.3h1M156.8 557.4h1M114.6 546.6h1M209.2 537.7h1M164.1 506.8h1M179 561h1M238.3 557h1M224.4 564.7h1M151.5 515.3h1M218.1 424.7h1M167.5 551.2h1M217 457.1h1M171.2 501.5h1M211.7 477.4h1M173.5 532.6h1M135.4 500.8h1M196.8 508h1M135.4 567.8h1M191.7 537.3h1M150.7 560.6h1M130.2 553.5h1M199.2 540h1M149.6 565.1h1M167.8 553.8h1M225.5 455.1h1M158.6 524.8h1M161.9 517.6h1M126.6 537.2h1M172.6 532.5h1M170.7 545.7h1M192.9 555.2h1M150.2 512.5h1M222 548.2h1M190.7 529.2h1M153.8 516.5h1M205.7 500.2h1M196.2 551.1h1M232.8 514.4h1M212.3 523.4h1M155 531.8h1M234.4 471.5h1M207.9 470.1h1M211.8 459.7h1M120 532.5h1M199.1 527.9h1M128.2 550.7h1M171.1 551.1h1M154.3 535.1h1M129.2 564.9h1M171 567.2h1M179.2 498.6h1M200.6 484.9h1M135.4 540.3h1M190.2 464.2h1M246.9 448.9h1M197.6 497.1h1M229.2 456h1M140.9 561.7h1M155.6 546.5h1M157.6 523.2h1M128.1 539.2h1M226.2 494.1h1M118.2 538.3h1M214.7 534.1h1M127.1 557.8h1M180.8 538.8h1M141 546.2h1M156.6 533.2h1M205.7 528.5h1M226.6 484.8h1M219.3 510.6h1M194.2 558.8h1M117.7 561h1M180.6 566.5h1M123.3 540.7h1M173.9 547.8h1M129.6 563.6h1M188.1 530.6h1M198.4 510.7h1M193.7 508.4h1M199.9 535.4h1M201.7 511.6h1M274 448.3h1M147 536.7h1M174.6 541.5h1M197.2 561h1M203 481.9h1M222.5 471.8h1M209.6 561.9h1M164.9 556.9h1M126.8 558.4h1M153.6 511.2h1M128 555.4h1M215.3 488.9h1M199 531.1h1M128.6 544.2h1M207.5 533.7h1M120.2 557.3h1M201 523h1M218.8 503.9h1M210.2 471h1M114.7 555.6h1M130.8 564.3h1M179.1 552.3h1M176.8 505h1M151.8 534.5h1M206.1 510.3h1M223.2 482.3h1M205.7 508.7h1M147.9 548.5h1M141.2 566.6h1M140.7 510.9h1M181.4 518h1M206.3 529.6h1M246.7 442.4h1M227.8 370.6h1M161.5 479h1M121.8 560.4h1M183.3 548h1M168.5 545.4h1M191.6 527h1M134.5 560.4h1M187.3 532.7h1M154.6 565.2h1M215.5 513.4h1M123.1 543h1M154 442.9h1M207.7 451.2h1M219.9 557.8h1M214.5 487.4h1M206.6 492.8h1M158.3 557.7h1M184.4 509h1M141.6 563.9h1M185.9 561.9h1M203.2 520.8h1M120.8 540.5h1M191.3 501.6h1M171.1 558.6h1M198.4 526.9h1M138.8 489.6h1M176.5 556.4h1M198.9 549.6h1M129.6 526.1h1M195.5 547.2h1M198.3 521.2h1M163 558.5h1M116 531.4h1M126.3 529.4h1M206.9 559.7h1M180.5 507.6h1M237.7 457h1M139.3 567.9h1M159.7 529.9h1M209 478.6h1M184.8 501.3h1M231.8 562.2h1M209 523.7h1M224.4 467.5h1M186.9 524h1M191.8 471.9h1M204.3 557.3h1M237.8 495.9h1M192.1 554.8h1M213.1 488.6h1M158.2 509.5h1M215.4 522.7h1M222.8 495.9h1M190.1 545.6h1M132.8 555.7h1M174.2 560.9h1M144.9 540.2h1M165.9 558h1M206.9 500.2h1M160.2 561h1M136.5 557.7h1M264.6 447.4h1M170.3 492.8h1M116.7 562.8h1M189.5 526.1h1M146.4 554.2h1M150.1 507h1M209.8 516h1M145.1 560.1h1M167.1 550.9h1M164.7 449.9h1M162.5 518.2h1M189.7 554.5h1M128.5 514h1M220.9 489.8h1M226.8 525h1M187.7 513h1M193.7 549.1h1M143.7 549.5h1M144 567.7h1M193.1 527.2h1M147.1 563.7h1M255.8 480.3h1M186 505.9h1M153.1 509.9h1M179.2 476.6h1M132.2 530.6h1M192.3 486h1M129.3 563.1h1M214.8 508.9h1M144.5 562.1h1M225.3 501.8h1M188.2 555.2h1M205.2 528.2h1M173.4 555.4h1M237.3 519.1h1M229.6 452.5h1M146.3 523.8h1M191.2 444.6h1M142.5 551.8h1M192 525.7h1M129.6 525.2h1M238.4 471.2h1M157.9 511.5h1M156.4 492.4h1M235 523.1h1M245.1 556.7h1M157.9 514.5h1M216.4 556.9h1M169.5 507.8h1M208.6 462.3h1M199.2 522.4h1M215.9 514h1M240.1 477.5h1M185.3 480.8h1M191.6 494.6h1M261.2 525.2h1M140.5 546.2h1M160 563.1h1M140.9 561.6h1M205.4 548.6h1M204.2 542.3h1M220.6 553.7h1M124.1 559.5h1M227.5 514.4h1M145.1 548.9h1M221.2 537.9h1M143.9 553.4h1M221.8 452.8h1M161.5 565.6h1M211.9 480.7h1M244.7 504.1h1M142.6 545.6h1M201.7 488.2h1M174.8 551.9h1M264.6 462.7h1M171 542.7h1M227.2 456.7h1M132.2 541.4h1M159.5 493.3h1M179 509.7h1M164.2 525.4h1M235.1 497.9h1M200.1 483.5h1M201.8 540.3h1M187.2 469.5h1M218.4 452.9h1M199.3 523h1M201.8 516.3h1M126.6 547.4h1M136.8 506.2h1M124.8 557.4h1M192 545.5h1M147 502.1h1M171.6 495.2h1M216.3 552.1h1M130.1 563.1h1M234.2 524.7h1M161.7 520h1M114.8 536.4h1M194.5 530.8h1M136.7 549.4h1M208.4 548.1h1M135.9 529.2h1M175.2 540h1M122.2 557h1M190 557.2h1M129.9 560.2h1M147.2 548h1M206.5 562.9h1M218.4 508.1h1M137.9 567.9h1M224.5 557.9h1M170.3 563.3h1M152.3 522.8h1M119 555.8h1M200 522.7h1M232.4 459.4h1M146.3 501.1h1M156.4 560.4h1M223.6 474.7h1M196.9 484.6h1M146.7 559.1h1M147.3 554.8h1M135.6 563.4h1M182.2 462.6h1M228.4 457.9h1M175.8 510.1h1M161.6 514.6h1M116.1 533.2h1M152.9 516.7h1M206.6 477.8h1M194.3 553.1h1M114 561.6h1M202.7 513.6h1M224.2 535.2h1M129.5 565.6h1M171.8 543.4h1M228.9 496.6h1M164.7 566.5h1M207.3 544.7h1M184.1 548.1h1M238.5 542.5h1M136.5 566.6h1M160.4 548.3h1M192.2 459.7h1M245.4 499.1h1M176.8 514.7h1M203.7 462.5h1M218 503.5h1M142.4 563.5h1M204.6 548.3h1M184.1 468.8h1M157 558.3h1M229.9 466.8h1M203.9 523.2h1M127.9 556h1M120.4 541.5h1M217.4 509.3h1M115.4 560.4h1M200.6 506h1M175.3 539.6h1M236.7 555.1h1M158.5 530.9h1M184.8 551.1h1M114.9 557.4h1M139.7 557h1M139.9 515.5h1M233.1 511.6h1M209.6 567.1h1M237.3 498.8h1M197.7 566.2h1M169.4 557h1M190.5 543.4h1M127.1 538.2h1M181 478.5h1M265 505.7h1M161.2 504.9h1M178.5 476.8h1M166.8 529.6h1M227.5 500.1h1M197.4 506.3h1M122.7 518.6h1M126.3 554.2h1M222.4 498.5h1M235.2 456.9h1M140.7 562.8h1M193 559.2h1M239.4 533.5h1M181.2 514.9h1M150 506.4h1M185 532h1M132.8 513.7h1M175.5 549.1h1M216.8 547h1M177.3 543.7h1M183.6 516.9h1M146.4 505.8h1M140.3 538.9h1M155.8 544h1M148.8 561.8h1M203.5 537.4h1M163.8 548h1M153.5 554.6h1M192.7 473h1M175 532.9h1M175.8 479.2h1M134.3 542.2h1M164.5 557.1h1M187.5 541.7h1M176.5 485.1h1M183.9 478.4h1M165 541.3h1M206.7 508.8h1M208 494.9h1M143.4 537h1M166.7 501h1M134.2 512.4h1M216.8 487.8h1M191.5 551.9h1M184.6 562.8h1M200.2 539.9h1M139.3 538.8h1M121.3 563.6h1M187.3 479.4h1M175.8 527.6h1M154.5 563.5h1M132.8 552.8h1M191.3 496.9h1M230.9 493.2h1M138.4 504.7h1M202.6 559.4h1M232.8 563.6h1M175.5 547.8h1M204.6 493.7h1M159.9 472.1h1M203.2 516.4h1M220.1 488.3h1M141.8 539.3h1M147.3 542.4h1M210.3 536.5h1M154.3 565.4h1M146.8 551.4h1M214.7 530.7h1M133.2 563.6h1M245.3 542.9h1M181.3 513.7h1M180.3 516.9h1M130.3 529.3h1M195.9 524.8h1M183.1 534h1M132.5 564.8h1M231.9 561.6h1M189.5 505.4h1M154 558.2h1M191.3 559.8h1M115.7 538.6h1M185.6 565.9h1M151.8 560.3h1M159.9 522h1M166.4 545.8h1M198.1 497.5h1M238.7 461.9h1M189.6 557.2h1M224.6 536.1h1M140.6 554.2h1M205.1 554.8h1M211.5 554.3h1M210.6 462.6h1M150.2 513.4h1M223.5 511.6h1M173.4 536.8h1M148.2 546.4h1M206.7 541.5h1M133.9 552.4h1M224.9 559.3h1M190.5 544.7h1M132.7 514.1h1M169.1 515.8h1M146.4 560.4h1M182.7 524.5h1M208.7 478.3h1M143.7 527.9h1M133.4 561.6h1M202.2 548.6h1M235.4 498.2h1M115.3 544.8h1M174.3 542h1M196.4 535h1M213 552.6h1M235.2 527.8h1M167.8 489.4h1M131.4 563.9h1M144.1 523.6h1M231.2 510.1h1M150.8 505.2h1M135.6 554.4h1M152.5 537.2h1M184.9 519.8h1M196.5 489.9h1M144.6 563h1M141.2 541.4h1M224.3 546.5h1M230.1 472.5h1M152.5 541.1h1M138.1 553.5h1M145.3 519.1h1M199.9 456.5h1M213.5 489.7h1M206.2 497.4h1M145.8 551.1h1M193.8 470.2h1M178.5 543h1M176.5 564.3h1M178.7 561.7h1M178.8 560.1h1M185.7 528.7h1M119 547.5h1M228.8 499.8h1M167.5 527.1h1M268.4 465.5h1M203.5 560.5h1M164.7 543.9h1M154.8 541.5h1M200.3 488.4h1M158.5 534.8h1M228.9 468.5h1M237.2 546.8h1M206.7 506.3h1M209 508.5h1M263 522.8h1M222.7 500.8h1M142.8 527.4h1M206.5 458.3h1M171.1 503.9h1M222.1 451.4h1M176.2 535.3h1M226.2 455.5h1M211.1 526.5h1M227.2 547.4h1M182.3 551.7h1M203.6 541.9h1M190.4 534.8h1M141.7 538.2h1M202.2 467.8h1M191.3 533.4h1M208.1 516.9h1M116.1 556.1h1M131.4 554.1h1M195.4 546.6h1M182.8 540h1M181.3 468.3h1M137.7 560.8h1M123.2 555.5h1M190.8 533.9h1M220.2 526.6h1M154.5 565.4h1M192.8 496.6h1M174.4 550.7h1M146.6 559.6h1M148 562.2h1M188.5 541.7h1M143.2 542.6h1M156.1 551.1h1M169 554.4h1M218.3 525.3h1M119.8 541.5h1M227.1 474.3h1M224.4 533.1h1M218.4 473.4h1M140.8 524.2h1M130.8 557.6h1M189 552.2h1M157.6 548.4h1M119.4 555.4h1M132 533h1M196.5 558.3h1M209.9 525.1h1M161.5 526.5h1M143.3 553.2h1M147.4 565.5h1M189.1 509.2h1M200.3 528.4h1M191.8 527.4h1M175.9 552.7h1M158.1 512.8h1M226.9 567.7h1M209.5 519.9h1M166.9 524.5h1M160 558.5h1M153.3 558.7h1M216.6 533.1h1M120.5 556.3h1M204.5 522.4h1M214.8 541.5h1M140.1 566.6h1M146.5 553.6h1M220.4 517.3h1M142.7 520.7h1M223.3 560.4h1M164.2 527.6h1M125.8 541.3h1M171.9 525h1M244 471.3h1M154.1 545.1h1M182.7 519.5h1M175.4 521.3h1M199.1 458h1M185.7 481.8h1M197 500.9h1M148.2 515.6h1M176.1 530.3h1M203 505h1M148.8 530.9h1M207.8 540.9h1M218.5 493.5h1M203.2 467h1M170.4 567.3h1M225.9 488.9h1M114 551.3h1M140.7 555.4h1M209 562h1M143.8 552.7h1M228.3 464.1h1M126.6 540.9h1M177.5 549.5h1M208.1 501.6h1M135.1 534.6h1M130.4 522.9h1M155 539.7h1M207.6 529h1M156 546.8h1M139.5 550.2h1M158.9 486.9h1M157.5 507.6h1M161.9 534.4h1M154.8 556.4h1M137.9 565.5h1M210 552.2h1M131.5 512.7h1M119.3 550.6h1M203.9 498.7h1M235.5 566.1h1M232.8 525h1M191.7 557.2h1M146 532h1M182.8 509.1h1M195.3 467.3h1M202.6 519.7h1M173.7 501.1h1M165.1 503h1M132.5 536.9h1M156.7 558.9h1M154.1 522.3h1M200.7 558.6h1M131.1 551.9h1M155.3 529h1M123.5 567.2h1M189.1 523h1M151.7 531.9h1M203.3 562.8h1M173.5 492.4h1M137 560.2h1M154.3 510h1M165.9 543.4h1M206.7 507.8h1M207.9 522.3h1M228.5 543.6h1M218.4 448.8h1M198.8 413.8h1M193.9 542.2h1M231.1 558.7h1M152.7 530.7h1M124.5 538.3h1M215.4 559h1M182.4 563.9h1M201.9 534.3h1M127.5 559.5h1M153.4 558.3h1M113.6 542h1M118.4 525.1h1M210.4 567.4h1M196.1 512.1h1M223.3 554.9h1M127.8 523.8h1M162.6 556.9h1M176.9 548.8h1M193.4 462.5h1M149.8 559.8h1M194.4 463.3h1M173.4 470.7h1M184.5 525.3h1M133.6 491.4h1M114.7 561.8h1M119.4 524.1h1M144.1 531.1h1M197.7 465.3h1M185.1 556.2h1M160 544.7h1M126.3 525.4h1M118.9 525.9h1M158.9 505.1h1M198.1 528.8h1M246.1 460h1M151.4 547.6h1M137.9 488.8h1M189 489.5h1M150.3 537.1h1M188.7 497.8h1M118.5 557.4h1M180.2 496.6h1M130.7 540.9h1M200.5 495.5h1M219.1 494.6h1M189.4 537.3h1M205.9 557.7h1M125.8 550.5h1M209.6 523.6h1M206.2 504.7h1M245.1 546h1M210.6 561.2h1M245.7 482.2h1M178.9 561.2h1M154.6 524h1M133.6 558.5h1M158.9 534.6h1M163.5 567.8h1M158.6 544.3h1M136.3 543.1h1M192.9 476.9h1M232 528.6h1M160.9 533.1h1M219.8 543h1M128.9 523h1M182.6 505h1M196.9 538h1M216 537.6h1M214.3 543.4h1M140 550.8h1M123 547.9h1M144.4 541.9h1M145.5 564.6h1M203.8 516.4h1M230.8 495.8h1M197.7 536.7h1M181.4 524.7h1M199.3 564h1M186 543h1M171.9 555.7h1M217.4 510.3h1M115.6 560.3h1M127.9 557.8h1M129.7 564.7h1M212.4 468.8h1M203.7 496h1M146 528.3h1M113.8 531.2h1M197.7 486.8h1M123 534.2h1M165.4 537.9h1M123.4 540.1h1M168.3 537.7h1M209.3 478.8h1M206 545.9h1M148.6 536.5h1M147.3 544.3h1M161.3 545.4h1M193.3 468.8h1M119 536h1M218.3 466.2h1M125.4 565.1h1M173.2 519.3h1M170.3 506.4h1M144.1 566.9h1M154.8 509.2h1M219.1 470.1h1M198.8 553.8h1M130.6 552.3h1M116.9 539h1M222.8 556.5h1M204.6 482.8h1M174.7 567.3h1M155.1 546h1M137.3 557.2h1M159.7 540.1h1M217.2 556.9h1M178.2 501.9h1M161.7 557.5h1M198.3 530.7h1M227.5 457.3h1M170.1 485.3h1M144.4 526.6h1M168 513.5h1M129.9 545.2h1M179.4 558.5h1M162.6 563.3h1M188.4 531h1M140.8 550.8h1M169.2 485.7h1M232.6 503.8h1M124.8 506.9h1M175.5 479.6h1M222 542.2h1M121.9 520.3h1M234.2 520.1h1M221.2 561.9h1M160 523.2h1M195.6 542.4h1M121.9 550.8h1M121.2 480.6h1M227.4 533.3h1M213.7 559.6h1M198.1 458.6h1M118.6 527h1M160.8 541.3h1M152 548.5h1M129.3 553.2h1M222.6 491.4h1M219.3 480.4h1M171.7 505.7h1M144.7 564.3h1M152.8 560.4h1M162.9 530.8h1M171 509.3h1M153.3 512.8h1M124 554h1M123.3 562.8h1M162.6 524.3h1M184.4 522.5h1M157.2 527h1M180.1 542.9h1M196.1 530.7h1M149.8 561.2h1M137 534.7h1M171.1 551h1M127.1 556.5h1M176.6 553.5h1M162.9 500.9h1M141 540.2h1M213.6 455h1M143.5 507.7h1M119.6 545h1M124.6 546.7h1M220 486.8h1M217.6 473.8h1M173.5 501.1h1M120.9 535.6h1M156.7 565.2h1M230 564.1h1M137.8 557.4h1M214.5 526.8h1M201.5 521.9h1M157.8 550.8h1M219.3 492.1h1M188.4 544.9h1M222 527.8h1M140.2 559.3h1M171.2 529.9h1M227.7 518.1h1M259.8 544.7h1M188.5 501.2h1M163.5 564.2h1M184.5 538.4h1M126 534.5h1M163.9 563.1h1M218 505.2h1M147.6 501.5h1M235.6 442.9h1M183 487.1h1M150 541.6h1M115.7 522.6h1M226.7 481.2h1M229.4 475h1M194.6 498.6h1M185.8 488.1h1M173.2 555.5h1M247.3 563.7h1M122.3 556h1M179.4 542.8h1M175.7 536.8h1M169.4 509.4h1M158.8 547.4h1M192.5 520.8h1M229.8 451.2h1M230.5 474.9h1M180.2 522.2h1M150.1 529.2h1M143.1 534.7h1M155.4 555.4h1M221.6 517.6h1M130.8 554.2h1M206.6 475.6h1M222.8 545.3h1M155.3 533.4h1M167.5 512.8h1M204.6 500.2h1M158.5 561.3h1M122.4 555.8h1M166.8 561.3h1M222.3 557.7h1M149.7 560.1h1M183.1 538.5h1M272.5 545.3h1M129.2 562h1M199.2 467.5h1M126.4 566.9h1M199.5 504.3h1M208 461.4h1M127.9 524.6h1M139.9 545h1M119.1 529.5h1M187.8 524.1h1M133.9 511.1h1M150.1 518.6h1M157.2 551.8h1M218.5 537.2h1M249.8 554.9h1M139.2 565.2h1M152.3 530.1h1M179.8 504.8h1M133 522.3h1M213.8 493.7h1M194.2 502.6h1M164.8 486.3h1M199.6 554.3h1M207.2 517h1M127.1 526.4h1M170.2 515h1M170.5 555.3h1M226.8 550.9h1M155.5 504.2h1M176.3 505.4h1M193.2 548.6h1M223.8 504.4h1M160.9 519.7h1M202.1 508.4h1M218.7 533h1M200.7 444.2h1M159.1 531.2h1M190.6 561.4h1M171.4 537h1M166.4 560.5h1M124.5 550.9h1M193.9 531h1M230.2 519.4h1M169.8 565.3h1M151.4 532.7h1M205.2 544.3h1M157 563.3h1M198.6 546.8h1M170.5 511.2h1M115.1 542h1M175.5 566.2h1M180.9 516.6h1M196.2 475.1h1M232.7 459.3h1M147.7 552.4h1M174.8 489.3h1M189.6 546.4h1M202.1 557.7h1M126.6 547.1h1M232.7 517.2h1M169.5 528.5h1M184.4 557.4h1M129.9 561.4h1M153.9 545.5h1M163.8 517.8h1M186.8 534.9h1M167.9 556.9h1M209.4 459.6h1M218.1 532h1M189 547.8h1M164.9 544.5h1M237.3 470h1M144.3 546.1h1M138.8 531.6h1M176 482h1M155.7 557.4h1M143.8 529.1h1M228 481.4h1M195.5 555.5h1M152.1 536.4h1M192.1 531.2h1M242.4 518.9h1M171.9 531.1h1M133.9 532.6h1M170.9 536.1h1M205.5 455.7h1M139.5 566h1M246.6 502.4h1M175.1 508.2h1M222.9 535.7h1M149.3 547.1h1M208.3 427.9h1M205 487.4h1M180.1 524.8h1M201.5 555.4h1M201.4 457.8h1M206.1 564.7h1M228.9 516.7h1M208.8 546.5h1M132.7 500.9h1M249.4 557.8h1M282.4 538.9h1M184.5 516.6h1M148.9 559.2h1M178.5 546.3h1M134.5 528.9h1M177.3 518.7h1M211 534.6h1M117.9 566.1h1M150.4 548.4h1M219.1 464.1h1M198.7 549.8h1M151.2 532.5h1M205.5 520h1M139.2 510.2h1M175.5 504.8h1M217 492.8h1M212.1 507.9h1M216 487.1h1M186.2 541.1h1M243 556.6h1M115.8 557h1M198.9 523.7h1M159 540h1M222.4 468.3h1M128.4 537.6h1M157.1 556.5h1M231.8 479.5h1M205.4 502h1M204.2 532.8h1M181.3 497.6h1M142 552.2h1M151.7 535.8h1M147.4 542.8h1M222 490.6h1M133.7 549.6h1M138.7 497h1M189.3 541.5h1M177 556h1M228.9 528.9h1M125.9 547.2h1M219.5 535.3h1M229.2 443.1h1M130.5 559.6h1M124.3 525.7h1M118.9 537.2h1M167.6 515.3h1M246.5 522.1h1M170.7 538.3h1M153 566.4h1M121.8 563.2h1M182.3 532h1M119.4 554.2h1M123 558h1M150.9 532.6h1M240.5 541.8h1M235.3 545.4h1M198.2 482.7h1M230.4 437.3h1M193.8 541.8h1M192.2 498.4h1M217.7 550.8h1M159.8 515.1h1M193.6 524h1M128.2 533.1h1M258.9 533.1h1M232.2 525.3h1M215.3 465.2h1M241.1 509.9h1M161.9 503.9h1M229.3 454h1M193.5 510.9h1M215 482.4h1M218.3 560.2h1M160.1 516.5h1M186.4 544.4h1M162.6 568h1M131.7 560.6h1M204.3 497.1h1M150.5 549.4h1M174.7 567.2h1M205.9 470.7h1M212.9 559h1M237.2 550.1h1M223.1 473h1M193 476.1h1M155.4 472.3h1M211.7 484.4h1M211.6 484h1M152 554h1M223.2 476.2h1M190.2 566.6h1M138.4 539.5h1M253.6 565.5h1M147.6 565.8h1M215.2 461.1h1M128.2 555.4h1M124.1 535.3h1M141 556.7h1M185.2 542h1M220.3 554.2h1M228.8 454.5h1M200.9 513.9h1M161.8 539.7h1M177.4 447.4h1M197.4 548.2h1M168.8 520.8h1M149.4 524.6h1M169.1 536.8h1M167.4 546.5h1M243.2 415.6h1M137.6 554h1M207.5 530h1M164.4 533.3h1M246.7 491.2h1M166.6 549.8h1M208.4 512.5h1M210.9 493.1h1M211.4 535.6h1M177.4 565.5h1M172.6 557.2h1M229.9 527.1h1M207.6 497.7h1M144.9 553h1M156.1 563.8h1M156.9 552.2h1M125.5 550.2h1M172.1 560.7h1M153.4 523.9h1M178.1 559.9h1M129.8 538.5h1M210.9 451.5h1M155.1 507.5h1M176.6 550.5h1M196.7 481.6h1M252.6 535.5h1M189.3 533.7h1M202 503.7h1M152.1 510.8h1M219.7 447.7h1M199.5 512.4h1M159.7 544.7h1M186 481.1h1M126.6 537.6h1M188.4 509h1M123.9 559.2h1M184.7 492.2h1M211.7 533.7h1M202.2 452.7h1M134.9 559.8h1M193.9 546.2h1M140.9 522h1M146.3 532.1h1M232.4 515.8h1M179.6 503.7h1M228.2 561.1h1M207.6 478.5h1M191.9 517.2h1M201.8 473h1M157.2 542.7h1M160 521.6h1M121.6 498h1M245.9 421.7h1M157.1 529.4h1M173.3 513.3h1M153.1 519.6h1M170 552.6h1M115.7 514.7h1M218.6 549.5h1M153.9 516.6h1M224.4 499.7h1M178.4 545.5h1M188.2 533.4h1M126.7 567.1h1M121.5 557.9h1M202.2 489.5h1M169.3 538h1M128.9 560h1M184.3 522.8h1M138.2 556.4h1M156.1 540.1h1M129.4 559.8h1M179 519.9h1M202.2 538.9h1M192.8 481.1h1M227.9 493.2h1M203.3 527.2h1M195.7 558.7h1M240.6 528h1M130.6 556.2h1M160.1 535.3h1M165.3 518.8h1M148.1 505.7h1M171 555.3h1M183 510.1h1M232.2 451.9h1M177.8 484.7h1M175.4 486.8h1M145.1 545.8h1M218.6 507.1h1M140.9 552h1M124.4 543h1M157.5 519.2h1M241.8 498.2h1M165.8 528h1M237.3 462.8h1M233.8 478.1h1M122 553.2h1M152.5 530.6h1M187.8 474.2h1M210.8 557.5h1M219.9 476.9h1M200.1 555.1h1M175.2 553.7h1M169.4 539.8h1M215 485.9h1M118 561.5h1M212 545.6h1M122.5 541h1M122.5 547.2h1M163.8 520.4h1M158.4 522.9h1M221.3 473.4h1M146 533.3h1M166.8 525.2h1M173.9 534h1M205.9 485.9h1M211.1 484.3h1M130.6 516.1h1M146.4 497h1M211.5 493.4h1M163.5 518.5h1M237.8 442h1M159.2 541.7h1M147.4 531.6h1M211 526.6h1M188.8 562.2h1M182.7 488.2h1M139.1 543h1M164.5 527.5h1M165.4 563.6h1M139.2 563h1M134.9 516.8h1M188 561.4h1M236 503h1M122.2 550.7h1M210.7 552h1M174.3 566.1h1M141.4 565.9h1M199.6 540.9h1M198.9 547.8h1M222.2 455.9h1M139.5 547.8h1M199.5 548.3h1M168.8 500.1h1M182.3 464.4h1M159.9 548.7h1M121.6 530.3h1M196.8 498h1M148.9 516.5h1M127.4 554.5h1M213 482.2h1M184 550.3h1M144 537.9h1M184.3 520.5h1M204.2 541.7h1M207.9 503.6h1M205 561.6h1M144.1 492.4h1M158.1 524.9h1M156.3 527.5h1M198.4 511.6h1M188.4 482.2h1M139.7 549.8h1M130.2 564.6h1M157.1 529.2h1M206.4 564h1M159.8 537.9h1M147.3 508.1h1M163.8 556h1M151.7 526.6h1M137.3 554h1M126.7 521.6h1M155.1 541.3h1M185.3 536.5h1M207 494.4h1M185.7 497h1M232 558.4h1M143.5 560.5h1M127.7 542.5h1M261.3 551.7h1M140.5 471.4h1M175.8 540.6h1M129.1 543h1M207.4 531.1h1M129.3 528.4h1M144.5 494.5h1M201.9 501.8h1M152.7 555.5h1M139.6 553h1M199.8 470.5h1M179.4 525.2h1M148.7 531.7h1M157.4 529.3h1M202.2 516.2h1M235.1 428.7h1M114.4 567.6h1M143 561.8h1M218.6 457h1M141.3 523.4h1M228.8 487.4h1M113.8 534.9h1M129.7 534.2h1M224.8 482.5h1M181.6 524.5h1M134.2 554.6h1M199.7 504h1M225.5 502.1h1M227.8 534h1M161.7 508.9h1M134.5 542.4h1M208.9 490.7h1M196 527.4h1M207.3 520.7h1M232.5 512.4h1M129.1 566.1h1M167.1 505.9h1M218.8 479.6h1M125.1 563.5h1M177.2 510.9h1M177.6 514.9h1M225.5 553.5h1M234.5 503.1h1M123.1 547.6h1M119.4 548.6h1M174 544.8h1M123.9 534.7h1M156.6 500.7h1M231.3 529h1M167.7 544.2h1M235.4 488.7h1M156.1 538.2h1M189.6 522.6h1M203.3 476.5h1M215.7 552.8h1M189.3 489.9h1M194.2 541.9h1M119.1 537.5h1M183.4 540.5h1M137.1 541.2h1M223.6 431.5h1M131.6 530.7h1M201 491.9h1M242.9 521h1M161.2 503.3h1M159.4 567.8h1M157.3 542.5h1M159.2 450.2h1M215.8 517h1M129.6 547.4h1M177.6 549.2h1M209.6 545.1h1M120.5 556h1M196.8 537.6h1M197.1 518.2h1M202.5 492.2h1M123.8 534.3h1M153.7 510.1h1M206.8 558.1h1M189.7 556.1h1M160.3 544.9h1M120.4 534.8h1M207.8 480.8h1M158.8 520.3h1M128.6 567.1h1M178.8 540.6h1M215.1 505.4h1M246.7 451h1M162.1 555.2h1M146 541.6h1M144.6 545h1M129.5 538.6h1M166.8 550.4h1M118.7 556.7h1M162.3 559.3h1M166.1 560.1h1M165.2 557.3h1M182.7 557.5h1M176.7 534.5h1M159.6 524.5h1M116.7 526.5h1M123.4 560.7h1M213.7 507.2h1M204.1 498.8h1M211.3 423.3h1M186.3 504.1h1M149 546.1h1M185 532.5h1M136.5 501.4h1M195.5 554.1h1M183.5 554.8h1M179.7 514.5h1M175.2 523.5h1M210.9 501.5h1M241.5 562.7h1M138.5 534.7h1M139.5 560h1M212.1 507.2h1M149.8 565.1h1M147.9 550.4h1M205.5 460.9h1M117.6 555.5h1M227.4 549.7h1M245.5 551.7h1M139 526.6h1M176.5 550h1M200.2 486h1M257.1 458.3h1M137.8 551h1M127 533.1h1M162.2 559.4h1M166 491.2h1M191.9 538.5h1M167.3 495.8h1M262.7 524.8h1M119.4 540.5h1M121.5 533.9h1M113.3 544.6h1M131.3 534.9h1M218.4 402.4h1M195.4 478.6h1M221 497.4h1M230 540h1M161.2 517.4h1M188.4 542.3h1M236.3 485.5h1M199.6 536.5h1M116.9 555.4h1M148.2 551.6h1M219.9 541.6h1M138.5 526.7h1M132.9 551.7h1M215.2 564.3h1M218.1 531.3h1M197 534.4h1M196 524.1h1M130.3 520.4h1M145.2 549.7h1M211.1 550.1h1M255.6 492.2h1M180.5 513h1M212.8 435.2h1M208.3 527.6h1M166.3 477.8h1M246.6 495.9h1M185.8 560.4h1M115.9 567.5h1M158.1 540.4h1M131 536.9h1M157.7 532.8h1M123 492.3h1M222.5 521.5h1M155.1 556.6h1M193.2 533.6h1M119.8 541h1M142.1 555.7h1M137.4 554h1M205.1 542.5h1M118 550.1h1M147.6 516.4h1M194.2 555.2h1M156.4 519h1M163.7 542.7h1M213.6 551.3h1M157.5 531.9h1M202.7 479.3h1M197.6 538.1h1M212.6 517h1M164.1 549.8h1M131.1 546.5h1M159.8 554h1M179.1 552.8h1M181.2 559.9h1M142.8 537.6h1M235.2 513.2h1M171.7 532.5h1M161 521.1h1M118.8 558.3h1M188.2 468.1h1M228.3 545.1h1M205 462.2h1M221.9 487.9h1M156.9 543.2h1M154.3 567.3h1M184 497.5h1M211.4 475.2h1M187 475.3h1M203.4 505.2h1M175.8 531.3h1M175.9 528.4h1M132 567.2h1M140.5 553.8h1M120.2 562.5h1M243.2 566.6h1M201.5 520.4h1M247.6 565.7h1M126.3 534.9h1M137.5 566.9h1M229.7 563.4h1M145.2 537.5h1M221.4 542.1h1M159.2 492.8h1M246.3 489.1h1M139.5 543.4h1M226.8 508.5h1M189.5 529.9h1M261.4 533h1M171.8 495.7h1M219.6 553.2h1M185.4 537.4h1M167.9 507.2h1M146.5 518.4h1M206 524.3h1M215.1 481.3h1M126.1 544.5h1M231.2 530.3h1M142.1 546.6h1M130.1 520.6h1M166.6 540.6h1M171 558h1M158.1 509.3h1M227.1 420.3h1M146 543.1h1M162.1 554.8h1M118.8 565.9h1M168 551.3h1M152.6 530.5h1M189.5 533.3h1M184.6 546.5h1M131.7 531.4h1M223 529.9h1M202.3 544.8h1M221.3 490.2h1M211.8 507.2h1M218.3 546.7h1M210 508.9h1M171.4 523.4h1M211.2 562.9h1M187.8 535.9h1M218.9 438.3h1M141.4 530.2h1M141.7 550.8h1M150.2 522.8h1M131.8 559.8h1M221.9 526.2h1M124.7 558.7h1M128.7 550.8h1M215.7 549.1h1M174 479h1M140.3 563.5h1M154.3 562.2h1M136.7 546.7h1M158.9 558.8h1M166.4 537.2h1M212.4 455.2h1M207.4 513.5h1M170 508h1M187.6 553.1h1M148.7 517.5h1M138 539.7h1M170.2 518.5h1M193.4 510.2h1M139.5 510.8h1M211.7 515.7h1M136.4 554.4h1M150 539.9h1M129.6 545.4h1M223 555.8h1M224.2 453.7h1M192.8 561.8h1M200.8 554.4h1M174 546.8h1M119.2 554.4h1M205.8 555.6h1M197.9 549.9h1M135.3 561.7h1M191.3 560.3h1M129.4 564.2h1M114.8 543.9h1M187.9 563.7h1M137.4 553.9h1M192.4 534.4h1M115.4 551.4h1M175.9 536.1h1M218.6 554.4h1M185.5 542.6h1M184.7 549.7h1M133.6 535.1h1M188.4 558h1M200.2 479.9h1M211.1 539.2h1M119.3 565.8h1M183.1 566.3h1M244.2 545.7h1M240.7 483.1h1M230.1 543.4h1M167.6 523.9h1M157.2 498.4h1M183.1 496.2h1M120.9 518.6h1M114 520.5h1M155.6 515.5h1M134.5 542.1h1M135.8 535.4h1M207.1 551.5h1M229.7 468.3h1M145.3 524.6h1M126.9 563.7h1M153.5 556.8h1M181.5 532.6h1M136.5 554.8h1M187 548.3h1M235.3 466.4h1M162 544.7h1M140.2 516.5h1M258 529.7h1M135 511.9h1M146.3 555.9h1M151.6 560.3h1M215.7 468.8h1M158.4 547.2h1M240 441.8h1M170 502.8h1M175.1 516.6h1M127.7 535.4h1M138.4 531.9h1M179.1 548.8h1M216.3 518h1M162.6 547.4h1M169.4 523h1M160.5 489.1h1M148.7 547.7h1M187.8 528.2h1M208.3 567.5h1M120 565.3h1M220 518.8h1M231 494.8h1M145.5 524.2h1M182.8 539.7h1M237.3 470.1h1M174.5 509.3h1M142.2 518.7h1M232.6 530.7h1M140.9 558.7h1M151.9 545.2h1M186.3 516.9h1M128 551.5h1M202.9 452.2h1M154.2 506.8h1M242.5 561.7h1M178.8 514.4h1M155.3 539.8h1M189.7 530.3h1M169 484.5h1M182.6 538.7h1M212 487.6h1M143.5 526h1M180.1 512.7h1M188.4 461.7h1M133.9 537.6h1M141.8 521.2h1M191.8 502.3h1M212.7 476.2h1M199.7 549.3h1M168.3 566.3h1M191.5 541.4h1M162 550.2h1M121.6 556.2h1M165.6 548.2h1M140.3 524.8h1M197.2 472h1M196.6 532.1h1M183 513.2h1M142 478.7h1M196.1 550h1M133.6 548.8h1M198.5 561.2h1M150.1 562.9h1M172.4 537.2h1M121 564.8h1M115.8 558.7h1M140.5 525.3h1M124.9 532h1M210.8 537.9h1M183.7 533.3h1M196.6 495.4h1M172.6 545.2h1M195.9 498.9h1M143.7 515.6h1M136.9 559.6h1M123.7 534h1M155 553.7h1M165.6 533.4h1M177.7 546.2h1M158.5 558.5h1M233 425.3h1M225.8 461.8h1M234.6 529.3h1M214.1 525.8h1M186.6 554.8h1M126.5 560.3h1M203.2 517.4h1M129.9 534.3h1M197.3 555h1M138.4 547.6h1M172.2 518h1M139.6 538.3h1M168.2 548.1h1M163.3 567.9h1M136.5 546.6h1M174 520.7h1M237.7 487.5h1M253.8 521.9h1M217.4 555.5h1M151.3 540.3h1M159.3 515.6h1M145.8 526.2h1M214.2 460.4h1M178.6 561.3h1M212.1 517.4h1M216.3 560.8h1M155.9 564.1h1M218.4 523.4h1M197.7 541.8h1M166.9 560.7h1M213.9 552.8h1M147.7 564h1M223.3 561h1M128.6 535.4h1M122 538.6h1M126.1 542.2h1M179 459.2h1M228.4 538.4h1M140.2 552.3h1M150.9 561.9h1M186.7 530.4h1M140.3 567.4h1M135 527.8h1M146.1 526h1M154.3 509.4h1M249.2 442.7h1M194.6 532.8h1M189.3 517.7h1M227.1 508.6h1M199.5 563.7h1M137.1 532.1h1M222.6 564.9h1M212.3 463.1h1M195.7 561.6h1M173.1 564.3h1M172.2 535.9h1M201.1 548.4h1M120.9 552.4h1M229.1 465.1h1M240.6 465.5h1M167.2 534.9h1M184.3 494.7h1M126.8 567.8h1M142.2 500.4h1M174.7 536h1M182.4 523.2h1M149.2 548h1M156.8 464.2h1M127.5 564.7h1M165.9 552.6h1M208.6 517.7h1M195.5 443.2h1M113.6 565.7h1M156.2 550.6h1M135.5 520.5h1M218.8 491.7h1M139.7 552.6h1M187.7 506.3h1M253.2 546.4h1M146.7 552.8h1M216.7 537.1h1M181.9 530.2h1M124.4 547.3h1M187.5 513.2h1M218.2 473.3h1M227.4 547.4h1M151.9 509.5h1M235.9 519.6h1M149.5 558.9h1M157.8 521.1h1M136.7 534.7h1M187.5 510.2h1M170.2 535.3h1M188.1 561.7h1M239.8 554.1h1M233 438.3h1M235.2 547.8h1M139.4 525.7h1M146.6 539.3h1M117.8 539.2h1M135.6 473.2h1M162.1 510.6h1M167.1 563.1h1M237.3 483.2h1M244.4 544.8h1M172 536.4h1M130.5 531.7h1M151.9 564.5h1M212.9 487.1h1M130.2 557.3h1M210.7 537.5h1M168.3 518.5h1M199.1 505.5h1M224.4 511.7h1M233.1 460.5h1M128.8 530.5h1M198.2 378.6h1M117.2 557.6h1M204.8 505.2h1M220.8 470.1h1M285.4 565.8h1M172.1 529.1h1M202.4 535.5h1M146.9 564.3h1M237.3 523.9h1M174 500.7h1M120.7 555.3h1M160.8 540.2h1M131.2 529.2h1M183.8 493.8h1M123.7 529.5h1M135.3 538.3h1M162 539.4h1M222.9 567.6h1M197.7 506.4h1M141.3 565.4h1M142.4 412.5h1M245.3 482.4h1M134.6 535.9h1M177.3 509.2h1M115.3 567.1h1M197.3 562.2h1M173.1 527.9h1M141.9 539.1h1M206 467.8h1M142.9 549.4h1M209.2 556.2h1M154.7 542.8h1M148.4 522.8h1M185.8 490.7h1M191.4 500.8h1M119.7 564.1h1M160 552.7h1M145.8 559.7h1M197.1 540h1M162.7 535.7h1M146.8 526.3h1M163.9 498.2h1M188.7 545.8h1M126.1 550.2h1M129.9 535h1M196 464.3h1M177.5 519h1M182.1 484.1h1M195.2 473.1h1M190.8 507.7h1M151.3 560.8h1M212.5 472.8h1M127.3 550h1M216.2 541.8h1M131.9 558.8h1M119.1 567.9h1M211.9 521.8h1M128 566.4h1M142.1 511.9h1M266.5 559h1M220.9 536h1M123.8 548.8h1M194.1 486.7h1M192.4 491.9h1M248.2 558.9h1M194.9 548.7h1M184 525.6h1M139.1 514.1h1M170.4 562h1M135.9 529.7h1M198.3 511.8h1M229.2 436.9h1M230.6 549.6h1M207.8 561h1M119.8 540h1M147.5 523.5h1M166.8 521.7h1M214.3 507.5h1M220.3 481.7h1M240.1 470.6h1M245.7 434.5h1M217.3 496.1h1M243.4 529.7h1M191.1 547h1M241 544.4h1M189.2 565.3h1M184 551.9h1M163.2 560.7h1M178.5 520h1M120.9 560h1M167.1 487.2h1M159.3 505.2h1M182.3 522.5h1M156.5 530.5h1M138.9 523.8h1M185 566.3h1M198.9 564.7h1M119.4 525.3h1M120.2 558.8h1M157.4 545.7h1M233.3 502.7h1M174.6 464.1h1M156.6 501.5h1M213.4 554h1M233.2 490.4h1M165.5 557.4h1M200.7 445.8h1M137.3 557.7h1M208.6 566.5h1M174.3 503.7h1M127.6 554.7h1M228.8 448.9h1M131.7 524.2h1M222.1 538.9h1M184.7 559h1M133.9 526.6h1M215.5 545h1M117.4 552.8h1M172 507.2h1M157.2 565.7h1M195.6 544.4h1M165.7 541.8h1M200.2 526.1h1M210.4 473.6h1M163.9 532h1M151.9 505.6h1M186.3 508.1h1M234.2 491.6h1M153.7 519.6h1M168 508.9h1M162.2 563.4h1M189.7 527.7h1M174.1 477.5h1M132.4 527.6h1M163.8 551.3h1M170.2 484.2h1M216.4 444.6h1M115.5 543.8h1M233.1 551.5h1M188 535.8h1M122.7 551.5h1M136.9 531.3h1M197.2 527.2h1M212.7 486.8h1M227.8 533h1M168.7 534.8h1M213 447.9h1M145.8 528.8h1M195.4 533.2h1M237.9 528h1M164.4 565.1h1M120.1 564.5h1M234.7 475.7h1M131.6 539.6h1M144.4 536.4h1M130 543.4h1M172.1 563.2h1M148.5 538.7h1M168.6 555.5h1M147.1 563.2h1M208.4 563.5h1M145.3 548.8h1M171.4 509.7h1M139.3 547.9h1M165.6 546.8h1M248.3 546.8h1M132.4 536.2h1M218.7 522.4h1M209.9 497.4h1M186.9 561.5h1M155.7 531.5h1M176.1 548.5h1M135.2 561.4h1M183.2 543.2h1M146.2 531.3h1M117.3 525.9h1M174.5 528.4h1M192.3 512.5h1M161.4 560.1h1M132 546.1h1M228.5 478h1M239.1 546.7h1M204.9 500.7h1M157 518.2h1M204.1 550.5h1M195.2 493.9h1M116 552.8h1M154 531.3h1M160.5 513.7h1M216.3 526.5h1M210.7 515.2h1M213.6 458.3h1M233.2 519.6h1M139.6 555.9h1M150.9 483h1M152.8 480.2h1M243 499.3h1M216.2 544.8h1M181.2 536.2h1M168.4 504.7h1M167.2 506.7h1M146.6 557.8h1M198.2 482.7h1M149.7 531.7h1M210.7 531.6h1M169.2 550.7h1M209.3 567.9h1M227.6 499.7h1M186 474.6h1M137.9 539.6h1M219.3 522.7h1M189.1 482.6h1M167.6 498.3h1M165.1 552.8h1M121 566.3h1M176.5 483.6h1M243 466.3h1M215.3 494.9h1M232.8 480h1M127.2 541.7h1M151.3 495.8h1M184.2 514.8h1M223.9 536.6h1M128.3 536.8h1M140.3 554.1h1M134.4 563h1M116.8 554.2h1M114.6 542.2h1M210.9 537.2h1M140.7 545.6h1M167.9 498.5h1M210.8 454.8h1M205.3 497h1M219.3 511.1h1M186.2 492.7h1M138.4 539.6h1M118.9 531.7h1M205.8 484.3h1M188.1 477.8h1M174.8 489.6h1M136.6 529.3h1M182.1 485.9h1M133.1 537.9h1M113.2 534.4h1M177 534.8h1M185.4 553.1h1M244 526.6h1M142.6 562.6h1M176.9 454.1h1M220.2 485.8h1M228.1 557.9h1M158.6 468.5h1M138.2 522h1M117 562.1h1M178.9 492.1h1M205.5 516.7h1M158.2 548.3h1M145.1 500.7h1M198.9 564.7h1M214.7 543.6h1M142 516.1h1M165.1 533.6h1M161.9 520.6h1M145 521.5h1M264.7 510.6h1M130.3 533.1h1M220.5 549.9h1M218.9 451.5h1M138 527.3h1M213.3 564.1h1M155.8 509.4h1M126 537h1M200.2 561.6h1M205.2 475.5h1M130.1 530.5h1M219.1 446.7h1M184.9 541.9h1M152.5 501.5h1M143.5 521.6h1M151.2 516.5h1M137 546.4h1M181.8 562.1h1M165.7 540.5h1M224.7 525.9h1M168.6 484.1h1M228.7 440.6h1M176 567.7h1M176.3 562.9h1M132 529.3h1M167.9 508.7h1M147.8 558.5h1M123.5 534.6h1M149.4 545.7h1M211.8 462.7h1M124.8 540.2h1M196.5 494.4h1M221.4 493.3h1M197 546.1h1M172.5 530.5h1M155.9 505.2h1M168.5 527.3h1M150.8 553.5h1M130.2 528.4h1M287.4 503.4h1M138.8 511.2h1M209 460.6h1M161.2 522.2h1M195.5 500.8h1M201.2 551.9h1M130.8 542.7h1M164 497.1h1M223.4 503.1h1M202.3 499.8h1M156.7 549.2h1M129.7 546.9h1M176.4 491h1M201.5 483.1h1M129.8 553.8h1M142.8 530.8h1M158.6 533.3h1M229 550.9h1M127.8 554h1M165.7 534.5h1M192.6 525.9h1M181.9 533.5h1M251 559.5h1M174.7 514.6h1M121.3 566.7h1M193.6 472.5h1M226 487.4h1M140.7 533.9h1M142.1 529.3h1M128.5 525.2h1M147.2 564.8h1M205.2 548.6h1M131.4 552h1M183.3 489.5h1M145.5 528.1h1M145.9 532h1M207.2 534.4h1M206.2 510.3h1M209.1 558.9h1M148.2 523.9h1M151.2 546.5h1M159.3 524.9h1M204.4 467.9h1M196.1 534.5h1M117 538.8h1M118.3 535.7h1M131.8 557.9h1M237.7 556h1M227.7 509.1h1M206 547.8h1M195.2 478.2h1M206.8 501h1M197.2 559.6h1M202.3 564.9h1M163.6 536.5h1M156.5 512.8h1M179.5 529.4h1M262.3 486.9h1M215.2 468.7h1M248.6 525.3h1M239.1 440.2h1M150 552.7h1M119 561.4h1M186.4 537.4h1M128.3 518.9h1M166.8 562.8h1M140.1 558.6h1M182.9 556.6h1M125.4 564.8h1M141.8 564h1M195.5 466.9h1M144.5 553.9h1M224.7 561.5h1M199 515.4h1M228.1 495.3h1M113.4 561.6h1M182.9 549.4h1M116.4 561.4h1M227.9 547.3h1M202.5 507.6h1M208.7 494.3h1M150.4 566.6h1M182.8 564h1M228.7 508.5h1M220.9 436.1h1M210 483h1M208.8 495.4h1M154.4 560.3h1M140.2 565.4h1M124.1 536.7h1M185.7 548.5h1M226.8 528.3h1M198.7 539.8h1M210.2 527.3h1M254.3 480.9h1M213.8 459.2h1M166.2 556.9h1M178.3 559.4h1M174.5 533h1M137.6 567.5h1M192.4 537.9h1M250.7 538.8h1M157.1 554.6h1M130.9 517.2h1M148.1 508.5h1M180.8 497.5h1M201.6 546.5h1M136.1 548h1M141.3 562.7h1M188.7 550.7h1M235.6 427h1M242.9 458h1M167.4 508h1M182.8 537.8h1M162.4 481.6h1M199.1 478.6h1M199.6 528.2h1M130.8 555.1h1M123 533.3h1M226.8 560h1M157 509.4h1M130.8 564h1M118.5 539.8h1M127.4 519.8h1M132.8 559.2h1M177.3 499.8h1M183.7 483.6h1M157.4 513.3h1M199.1 519.7h1M180.4 517.3h1M253.5 509.4h1M166.1 500.7h1M129.1 530h1M136.8 536.7h1M218.7 498.5h1M187.5 567.4h1M188.4 521.7h1M219 495.2h1M138.1 523.2h1M232 459.3h1M172.7 490.4h1M174.2 564.2h1M141.6 556.9h1M184.4 523.2h1M191.9 502.7h1M189.7 526.7h1M120.4 566.4h1M228.9 475h1M260.2 535.9h1M209.7 456.8h1M166.4 531.2h1M128.7 528.9h1M187.6 511.6h1M192.6 533.9h1M212 508h1M160.7 504.1h1M173.1 496.5h1M238.7 486.2h1M233.2 510.1h1M195.9 566.8h1M186.9 499.7h1M168.4 517h1M165.7 486.6h1M140 563h1M141.1 553h1M116.5 540.3h1M118.6 565.4h1M115.1 534.4h1M162.2 493.5h1M132.4 505.2h1M117 543.5h1M165.9 541.5h1M173.4 566.4h1M176.2 510.4h1M115.8 558h1M155 527.1h1M226 477.3h1M180.5 563.3h1M166.9 543.1h1M192.7 519.3h1M230.2 532.7h1M211 545.2h1M212.8 488.5h1M188.2 504h1M132.9 552.6h1M141 567.5h1M208.5 559.2h1M231 500.4h1M140.7 530h1M245.6 488.5h1M202.1 445h1M173.9 508.5h1M196.4 429.4h1M214.7 463.1h1M136.8 560.9h1M175.4 499.4h1M178.4 514.4h1M142.1 561.3h1M176.4 494.2h1M140.5 510.6h1M183.5 562.3h1M235.2 517.3h1M182.2 540.1h1M122.8 563.6h1M217 481.1h1M223.3 557h1M205.2 530.6h1M143.3 547.1h1M201.2 497.2h1M132.4 529.2h1M215.3 468.8h1M135.1 525.9h1M181.8 498.3h1M129 530.4h1M190.7 502.7h1M115.2 515.3h1M187.7 535.5h1M221 517.3h1M216.5 563.6h1M212.5 552.1h1M177.2 527.7h1M121.4 540h1M132.6 560.2h1M145.8 552h1M204.3 483.5h1M122.3 549.8h1M118.2 549.4h1M161.8 524.3h1M135.1 480.2h1M143.4 542.7h1M215.3 537.5h1M158 561.8h1M201 565h1M229.2 475.5h1M221.4 464.8h1M151.6 537.9h1M197.1 516.6h1M181.8 515.5h1M212.6 489.8h1M181.6 492.4h1M151.8 549.8h1M216 480.9h1M127.6 556.6h1M205.4 502.8h1M143.5 555.2h1M143.9 557.2h1M201.9 527h1M127.2 548.7h1M163 554.5h1M154.3 541.8h1M118.2 564.1h1M208.2 516.1h1M190.1 528h1M132.1 541.1h1M118.9 566h1M132 557.2h1M186 554.7h1M179.8 518.8h1M140.5 478.1h1M168 514.6h1M194.7 557.6h1M181 559.8h1M228.6 501.7h1M186.8 500.9h1M211.9 546.2h1M191.6 564.7h1M221.2 540.2h1M125.6 540.4h1M176.4 539.8h1M169.7 544.2h1M208.3 543.5h1M200 523.2h1M163.8 566.2h1M174 567.4h1M117.1 523.4h1M163.1 546.9h1M213.6 529.3h1M188.1 477.7h1M153.9 564.9h1M190.6 465.8h1M186.9 476.3h1M118 530.1h1M158.4 506.2h1M211.7 472.1h1M253.4 566h1M192.2 515.2h1M225 448.3h1M131.7 563.4h1M125.2 543.8h1M177.5 547.9h1M137.5 539.3h1M237.8 455.8h1M187.4 482.3h1M118.3 550h1M146.1 512.8h1M150.3 506.4h1M273.8 461.3h1M264.1 543.6h1M250.8 400.9h1M265.1 504.7h1M227.8 461.6h1M277.9 548h1M271.1 542.6h1M246.3 532.8h1M232.8 509.4h1M272.5 481.2h1M229.1 488.4h1M264.8 487.4h1M244.8 543.8h1M257.4 481.6h1M249.3 477.6h1M248 553.1h1M261.4 532.4h1M249.2 487.2h1M230.4 451.5h1M234.1 506.1h1M285.7 506.9h1M250.1 451.1h1M231.9 403.5h1M267.5 498.7h1M247.2 436.4h1M279.3 496.1h1M277.8 409h1M241.6 527.2h1M238 551.5h1M231 535.6h1M248.5 496.7h1M271.5 518.6h1M238.1 428.8h1M241.5 498.7h1M255.9 545.6h1M230.7 547.5h1M234.4 416.3h1M264.8 480.4h1M235.2 525.9h1M276 504.3h1M265.6 557.3h1M248.1 440.2h1M252.9 484h1M250.3 551.7h1M236.9 427.5h1M245.9 480.8h1M236.8 483h1M241.8 553.1h1M239.6 543.2h1M240.8 517.7h1M226 546.9h1M228.5 433h1M248.1 492.4h1M282.1 395.8h1M237.2 520.9h1M273.6 443.5h1M243.9 540.5h1M280.3 500.8h1M225.6 472.9h1M273.9 524h1" stroke="#0a0aff" stroke-width="1.0" stroke-opacity="0.42" fill="none"/>
<path d="M186.8 558.6h1.2M247.6 485.5h1.2M257.5 469.4h1.2M256.8 506.3h1.2M220.8 505.5h1.2M262.4 511.3h1.2M240 522.8h1.2M241.9 495.6h1.2M216.2 460.2h1.2M248.6 488.8h1.2M246 466.8h1.2M247.2 461.9h1.2M190.4 472.3h1.2M257.4 551.5h1.2M226.8 456.7h1.2M241.5 534.7h1.2M174.9 511.8h1.2M171.7 517.5h1.2M239.5 467.1h1.2M273.9 544.7h1.2M280.1 477h1.2M229.1 509h1.2M207.4 460.9h1.2M224.7 523.2h1.2M133.2 493.1h1.2M248.9 497h1.2M256.9 502h1.2M172.4 504.6h1.2M237.7 544.5h1.2M229.8 538.5h1.2M230.3 527.6h1.2M244.5 527.7h1.2M232.6 566.9h1.2M243.6 540.9h1.2M176.8 487.8h1.2M225.1 527.1h1.2M239.7 507.5h1.2M224.1 549.4h1.2M247.3 523.6h1.2M281 547.3h1.2M198.2 429.3h1.2M164.4 483.1h1.2M194 493.8h1.2M187.5 470.7h1.2M190.5 486.7h1.2M228 531h1.2M192.2 483.9h1.2M238.7 534.7h1.2M209.3 561.1h1.2M193.4 506.6h1.2M274.2 495.4h1.2M246.5 479.5h1.2M161.5 525.1h1.2M245.6 475.1h1.2M191.3 561.1h1.2M251.6 448.3h1.2M183.5 548.3h1.2M235.8 496h1.2M264.1 525.2h1.2M269.5 496.4h1.2M257.4 507.1h1.2M265.9 490h1.2M269.8 470.5h1.2M213 549h1.2M220.9 527.5h1.2M234.1 558.3h1.2M179.1 513.4h1.2M189 525h1.2M201.7 551.3h1.2M167.5 498.2h1.2M238.7 517.8h1.2M234.9 553.6h1.2M240.9 474.3h1.2M220.8 488.3h1.2M246.2 450.5h1.2M185.6 512h1.2M238.4 560.8h1.2M241 543.2h1.2M190.9 502h1.2M222.3 475.9h1.2M188.3 479.8h1.2M205 512.4h1.2M257.9 484.6h1.2M228.1 484.5h1.2M192.3 500.1h1.2M299.4 438.3h1.2M273.7 456h1.2M287 541.2h1.2M187.4 540.4h1.2M265.6 516.9h1.2M193.9 430.4h1.2M245.2 492.1h1.2M195.9 522.9h1.2M245.1 485h1.2M237.4 475.8h1.2M193.5 505.7h1.2M189.9 481.5h1.2M245.8 459.1h1.2M175.7 491.1h1.2M205.3 557.1h1.2M209.6 523.5h1.2M222.8 520.9h1.2M189.3 514.2h1.2M236.5 520.5h1.2M173.4 503.1h1.2M187.1 512.3h1.2M227.6 503.6h1.2M242.6 488.7h1.2M180.1 521.8h1.2M180.9 560.1h1.2M241.5 509.3h1.2M182.3 544.7h1.2M247.5 455h1.2M204 567.1h1.2M219.7 519.9h1.2M233.8 509.7h1.2M214.1 497.3h1.2M232.4 439.3h1.2M227.8 491h1.2M205.9 475.8h1.2M271.5 480.8h1.2M185.9 489.7h1.2M274.1 525.2h1.2M274.8 495.1h1.2M250 551.8h1.2M193.9 525.2h1.2M178.8 448.9h1.2M176 500.2h1.2M174.5 507.7h1.2M198 466.5h1.2M186.3 473.2h1.2M227.8 484.2h1.2M277.8 498.7h1.2M230.8 458.3h1.2M208.1 471.3h1.2M226.4 544.3h1.2M161.2 523.6h1.2M166.6 544.6h1.2M171.9 495.9h1.2M182.1 488.5h1.2M265.6 466h1.2M221.2 504h1.2M170.1 494.6h1.2M217.9 466.2h1.2M248.9 497.1h1.2M248.4 518.6h1.2M245.2 472.7h1.2M243.4 465.2h1.2M176.8 494.3h1.2M256.8 463.4h1.2M282.9 475.5h1.2M281.2 486.8h1.2M184.2 512.1h1.2M179.7 500.2h1.2M252.6 451.6h1.2M171.3 544.1h1.2M138.9 544.4h1.2M231.2 538.5h1.2M178 483.3h1.2M195.2 514.6h1.2M221.7 475.8h1.2M230.3 552.4h1.2M247.8 486.6h1.2M216.1 515.6h1.2M240.2 497.7h1.2M235.8 491.4h1.2M156.7 550.8h1.2M205.5 510.8h1.2M130.5 537.3h1.2M235.2 560.2h1.2M198.8 473.8h1.2M213.3 500.8h1.2M201 536.1h1.2M229.8 553.7h1.2M234.9 527.1h1.2M258.9 525.3h1.2M279.4 530.8h1.2M226 462.4h1.2M226.2 442.1h1.2M226.9 536.1h1.2M239 480.1h1.2M169.5 556.6h1.2M196.5 482.7h1.2M244.1 502.1h1.2M242.2 456.3h1.2M190.4 491.8h1.2M256.8 524.1h1.2M226.5 476h1.2M223.8 545.9h1.2M249.7 472h1.2M250.1 494.8h1.2M230 518.3h1.2M256.7 453.1h1.2M221.5 553.9h1.2M242.6 474.4h1.2M242.4 522.2h1.2M196.2 499.5h1.2M284.3 499h1.2M158.9 547.3h1.2M170.3 558.6h1.2M193.7 518.8h1.2M234.8 496.8h1.2M193.9 505.5h1.2M249.4 520.8h1.2M195.1 470.1h1.2M209.1 530.1h1.2M247.9 492.3h1.2M210.1 488.8h1.2M208.7 542.3h1.2M204.1 566.8h1.2M238.7 498.9h1.2M220 485.4h1.2M235.5 557h1.2M228.3 395.8h1.2M221.6 472.2h1.2M178.5 466.6h1.2M197.4 487.7h1.2M237.7 514.8h1.2M266.7 519.3h1.2M250.8 502.4h1.2M285 535.5h1.2M150.7 495.8h1.2M269.3 521.8h1.2M277.5 554.1h1.2M169.9 460.6h1.2M248.5 518.8h1.2M167.1 492.9h1.2M273.5 455.6h1.2M211.3 536.4h1.2M267.5 528.4h1.2M166.9 523.4h1.2M162.4 524.2h1.2M286.9 462.7h1.2M246.2 554.7h1.2M200.4 565.6h1.2M242.1 450h1.2M267.3 470.9h1.2M240.7 515.5h1.2M283.7 453.3h1.2M235.3 534h1.2M242.1 480.7h1.2M235.4 544.1h1.2M203.5 559.5h1.2M157.5 540.5h1.2M238.1 454h1.2M209.5 511.2h1.2M255.9 435.7h1.2M288.2 504.1h1.2M231.4 467.2h1.2M274 451h1.2M235.5 445.6h1.2M185.7 509.4h1.2M253.7 482.2h1.2M231.6 509.8h1.2M243.6 470.2h1.2M277.2 447.6h1.2M241 556.2h1.2M235.4 472.9h1.2M272.1 509h1.2M231.1 525.9h1.2M187.6 524.3h1.2M186.1 492.4h1.2M276.8 474.6h1.2M240.3 549h1.2M271.8 566.4h1.2M230.3 450.3h1.2M192.5 502h1.2M232.1 531.2h1.2M255.5 461.7h1.2M194.2 553.4h1.2M247.4 502.8h1.2M165.2 510h1.2M290.2 466.4h1.2M251.4 489.2h1.2M201.8 479h1.2M183.6 484.4h1.2M234.6 527.2h1.2M201.1 504.2h1.2M239.3 512.7h1.2M218 496.5h1.2M291.4 431.8h1.2M234.5 508h1.2M231.8 503.2h1.2M248.2 462.5h1.2M220.5 522h1.2M239.1 471.6h1.2M251.2 468.1h1.2M234 490.3h1.2M252.9 437.4h1.2M197.2 562.4h1.2M268.9 540.2h1.2M287.4 532.4h1.2M260.1 521.1h1.2M254.5 456.6h1.2M205.3 468.1h1.2M244.8 512.8h1.2M256.6 492.9h1.2M184.4 503h1.2M238.8 475.2h1.2M232.3 457.5h1.2M241.8 403.1h1.2M229.1 501.3h1.2M222 521.3h1.2M257.7 530.1h1.2M201.8 562h1.2M242.4 509.4h1.2M213.1 427.8h1.2M240.1 507.7h1.2M254.2 514.1h1.2M224 545.3h1.2M211.6 553.7h1.2M226.8 421.4h1.2M226.9 525.3h1.2M224.2 489.3h1.2M285.8 514.2h1.2M248.7 551.7h1.2M203.9 402.7h1.2M235.6 540.6h1.2M235.6 463.7h1.2M281.8 486.4h1.2M240.6 389.3h1.2M207 538.6h1.2M238.7 543.2h1.2M252.5 496.1h1.2M249.2 526.2h1.2M282.4 392.2h1.2M189.2 428.2h1.2M223.6 519.3h1.2M213.7 450.8h1.2M274.5 531.1h1.2M271.5 550.4h1.2M246 531.8h1.2M269.6 548.6h1.2M238.1 384.5h1.2M223 512.1h1.2M226.2 475.3h1.2M304.7 484.6h1.2M216.7 557.1h1.2M242.7 472.8h1.2M246.1 452.5h1.2M225 521.4h1.2M227.2 537.6h1.2M218.6 504.5h1.2M216.1 510.6h1.2M239.5 492.8h1.2M200.9 460.1h1.2M230.9 468.2h1.2M231.4 476.8h1.2M239 555.4h1.2M230.7 554.6h1.2M199.7 528h1.2M306.5 538.4h1.2M307.8 551h1.2M272.1 478.1h1.2M241.7 452.1h1.2M218.4 465.8h1.2M239 525.5h1.2M244.5 523.3h1.2M251.9 551.1h1.2M260.2 535.2h1.2M212.3 469.6h1.2M216.5 512.5h1.2M245.4 497.5h1.2M232.9 496h1.2M224.3 459.7h1.2M300.6 511.8h1.2M248.5 382.9h1.2M219.5 509.5h1.2M294.7 444.7h1.2M255.2 478.6h1.2M203.5 503.6h1.2M271.1 435.6h1.2M223.5 505.1h1.2M213.8 453.7h1.2M225.2 554.1h1.2M249.9 489.7h1.2M204.7 516.2h1.2M215.3 562.7h1.2M213.8 500.2h1.2M224.5 467.2h1.2M207 560.6h1.2M226.6 416.2h1.2M291.1 515.3h1.2M262.8 564.6h1.2M206.2 537.5h1.2M257.7 553.9h1.2M245.4 507.3h1.2M245.4 444.7h1.2M232.8 538.1h1.2M240.6 543.1h1.2M294 506.5h1.2M252.4 531.1h1.2M286.9 528.9h1.2M263.1 523.6h1.2M225.5 558.6h1.2M246.5 487.4h1.2M209 436.9h1.2M217.6 408.2h1.2M222.2 529.4h1.2M210.8 384.5h1.2M288.7 439.2h1.2M206 557.5h1.2M256.7 489.8h1.2M230.3 532.4h1.2M247 450.4h1.2M204.1 515.7h1.2M205 484.1h1.2M267.3 485.4h1.2M238.2 490.4h1.2M223 446.5h1.2M243.4 419.7h1.2M251.4 551.4h1.2M238.5 555.5h1.2M221.4 396.1h1.2M255.9 539.8h1.2M196.9 391.6h1.2M232.4 419.5h1.2M260.2 500.7h1.2M236.7 454.3h1.2M260.4 561.4h1.2M258.4 488.3h1.2M275.9 484.5h1.2M207.5 529.7h1.2M215.7 542.2h1.2M296.1 496.4h1.2M241 492.5h1.2M237.8 526h1.2M238 531.9h1.2M254 504.2h1.2M238 501h1.2M222.9 563.5h1.2M246.5 460.5h1.2M252.5 519.4h1.2M263.1 546.4h1.2M217.1 384.8h1.2M197.1 559.6h1.2M240.4 467.5h1.2M241 541.6h1.2M274.9 552.6h1.2M249.8 530.7h1.2M245.5 510.7h1.2M273.2 492.5h1.2M212.9 545.3h1.2M234.1 452.7h1.2M213.9 445h1.2M208.4 548.4h1.2M219.1 427.7h1.2M238 445h1.2M204.6 488h1.2M217.9 426.9h1.2M219.8 469.1h1.2M251.6 501.7h1.2M303.5 464.5h1.2M303.7 516.3h1.2M218.7 485.7h1.2M306.1 558.1h1.2M288.3 473.9h1.2M243.9 551.9h1.2M231.5 455.8h1.2M263.4 421.4h1.2M271.2 449.7h1.2M253.1 405.2h1.2M222.1 552.9h1.2M236.1 499.7h1.2M228.6 473.6h1.2M224.6 413.1h1.2M209.9 481.6h1.2M228.7 535.9h1.2M216.2 558.2h1.2M224.3 439h1.2M285.4 501.3h1.2M230.3 470.2h1.2M233.4 449h1.2M210.7 531.8h1.2M268.6 488.8h1.2M222.1 424.1h1.2M216.4 437h1.2M306.6 544h1.2M241.3 519.7h1.2M256.8 524h1.2M259.2 445h1.2M214.6 404.4h1.2M225.9 474.2h1.2M273.8 450.1h1.2M219.9 486h1.2M223.5 522.5h1.2M205 529.6h1.2M222.6 416h1.2M211.8 523.2h1.2M214.4 408.9h1.2M209 453.1h1.2M251.2 473.6h1.2M300.5 432.6h1.2M301.5 464.3h1.2M249.5 522.8h1.2M211.3 519h1.2M272.3 492.6h1.2M297.4 436.8h1.2M240.8 490.5h1.2M210.3 528.4h1.2M236.1 538.5h1.2M225.1 479.7h1.2M213.1 434.7h1.2M206.2 514.7h1.2M306.2 478.6h1.2M260.3 500.6h1.2M205.8 471.2h1.2M259.8 563.7h1.2M257.8 494.3h1.2M263.7 441.2h1.2M259.4 408.1h1.2M275.1 407.7h1.2M251.8 499.1h1.2M233.1 545.4h1.2M243.7 442.4h1.2M249.5 371.7h1.2M208.9 510.1h1.2M209.9 518.1h1.2M243.6 460.7h1.2M217.5 531.2h1.2M241 512.7h1.2M272.2 464.5h1.2M224.5 445.5h1.2M267.3 377.6h1.2M229.5 459.1h1.2M290.3 545.4h1.2M209.8 517.9h1.2M295.8 560.2h1.2M214.1 552h1.2M237 550.1h1.2" stroke="#ff5a0a" stroke-width="1.2" stroke-opacity="0.6" fill="none"/>
</g>
<g clip-path="url(#clipb)">
<path d="M488.9 150.1h1M490 128.1h1M533.4 132.4h1M562.2 110.6h1M516.8 155.1h1M601.3 170.7h1M559.2 65.8h1M500 63.5h1M527.5 122.4h1M528.5 131h1M508.8 63h1M508.6 167.1h1M527.3 122.3h1M550.4 252.7h1M502 86.9h1M533.1 118.5h1M541 103.5h1M525.5 168.2h1M508.9 53.6h1M550.7 140.2h1M488 133.8h1M494.6 62.5h1M540.2 151.9h1M514 189.4h1M548.2 128.2h1M545.4 95.9h1M597.4 162h1M569.9 228.4h1M561.3 124.1h1M507.9 67.7h1M484 168.7h1M531.6 91.4h1M514.5 172.4h1M585.6 83.4h1M606.8 97.9h1M490.2 129.9h1M557.8 170.4h1M605.2 117.7h1M549.1 158.3h1M515.4 118.2h1M529.8 189.9h1M498.3 203.8h1M578.5 181.5h1M542.1 138.6h1M521.8 124.2h1M586.1 179.4h1M516.5 193.9h1M501.5 125.2h1M485 116.7h1M496.4 153.9h1M530.4 123.2h1M492.1 179.8h1M545.8 196.7h1M563.5 121.1h1M546.9 125.8h1M500.5 90.5h1M558.2 82h1M480.2 176h1M556.6 130.5h1M530.8 228.5h1M523.8 157.4h1M505.7 152.8h1M566 77.2h1M520 125h1M567.4 177.4h1M483.1 129.6h1M560.2 120.8h1M525.3 133.8h1M541.1 164.4h1M524.5 129.7h1M522.7 169.6h1M588.4 134.8h1M484.8 211.1h1M529.9 189.4h1M521.1 165h1M515.6 227.4h1M517.7 141.1h1M544.6 119.5h1M555.9 154.7h1M483.1 219.6h1M534.7 225.8h1M557.1 223.6h1M503.6 139h1M577.5 94.4h1M573.5 113.8h1M507.6 165h1M512.7 75.6h1M560 77.8h1M552.7 209.3h1M507.1 218.4h1M563.3 144h1M546 143.2h1M486.8 196.8h1M609.5 203h1M492.2 129h1M487.2 136h1M535.9 123.7h1M575.4 119.9h1M498.1 179.4h1M553.5 165.5h1M541.4 222.1h1M506.5 188.8h1M601.5 158.4h1M504.7 187h1M507.5 209.2h1M536.4 103.7h1M567.4 178.3h1M525.4 78.2h1M505.8 92.9h1M512.5 122.2h1M490.6 75.8h1M553.4 102.6h1M555.2 204.2h1M511.1 144.7h1M568.1 160.3h1M517.3 232.3h1M609.8 113.3h1M531.6 101.6h1M588.4 96.3h1M533.2 153.5h1M508.1 111.5h1M508.2 78h1M531.2 120.2h1M564.6 132.8h1M502.7 158.7h1M520.3 190h1M497.5 105.1h1M570.8 138.3h1M503.7 120.7h1M528.4 212.5h1M488.8 82.4h1M534.6 146.6h1M478.4 69.3h1M566.7 171.4h1M541.5 112.7h1M564.1 71.5h1M514.5 139.9h1M529.5 232.1h1M594 134.6h1M496 243.5h1M562.1 103.3h1M567 87.6h1M518.3 157h1M535.6 156h1M491.1 185.3h1M517.6 95.9h1M551 75.1h1M552.8 203.3h1M490.8 78.8h1M492 149.8h1M612.2 92.4h1M506.8 60h1M546.4 131.6h1M591.2 183.7h1M592.6 190.2h1M565.5 226.1h1M503.4 160h1M500.2 160.7h1M507.5 220.5h1M528.6 118.9h1M554.7 180h1M579.9 255.6h1M484.9 166.2h1M510.4 160.4h1M552.7 218.6h1M584.3 186.6h1M580.8 130.6h1M559.4 105.4h1M533.9 138.8h1M505.4 144.5h1M566 138.7h1M540.5 188.8h1M528.3 72.3h1M520.5 159.9h1M572.9 173.4h1M481.8 237.7h1M552.3 212.4h1M501.7 219.1h1M608 162h1M483.8 127.3h1M550.5 151.4h1M537.2 132h1M486.8 97.5h1M581.6 188.9h1M510.9 171.4h1M531.1 82.4h1M571.3 141.4h1M493.9 122.4h1M499.2 119.6h1M577.5 116.7h1M547.5 82.4h1M483.2 79.7h1M590.1 156.5h1M580.9 108.7h1M481.7 107.4h1M534 79.2h1M561.9 152.7h1M521.8 101.7h1M571.9 163.5h1M575.3 135.4h1M587.5 89.1h1M490 119.4h1M528.8 123.7h1M492.3 151.5h1M555.5 75.6h1M485.7 200.5h1M493 175h1M522.5 139.7h1M517 211.7h1M576.5 119.1h1M608.7 207.8h1M518.3 257.7h1M558 121.3h1M484.2 76.5h1M494.6 106.1h1M528.8 186.5h1M478.9 165.6h1M580.5 147.6h1M494.1 120.1h1M519.3 165.5h1M544.2 88.6h1M545 89.1h1M540.4 145.6h1M559.6 111.9h1M516.3 136.9h1M552.1 133.8h1M503.5 208h1M568.3 68.4h1M569.8 136.3h1M579.9 63.1h1M522.1 131.4h1M541.6 99.4h1M522.7 152.5h1M524 76.9h1M525.2 144.5h1M554.7 59.8h1M560.2 162.4h1M555.2 206.2h1M516.1 133.8h1M485.7 171h1M576.6 111.6h1M561.7 150h1M550.1 229.1h1M532.7 110.2h1M538.1 211.3h1M483.7 142.4h1M580.2 164.1h1M558.5 178h1M482.5 147.1h1M523.2 96.7h1M566.9 104.5h1M497.4 125.9h1M513 194.1h1M512.8 50.5h1M555.8 120.3h1M531.2 146.6h1M522.1 145.1h1M518.1 233.6h1M498.4 109.7h1M556.7 232.2h1M483.6 100.8h1M531.6 144h1M504.6 143.1h1M479.2 101.5h1M598.5 169.1h1M529.8 153.1h1M491.7 90.7h1M551.4 202.9h1M509.1 51.3h1M520 114.7h1M525.7 223.1h1M489.8 91.1h1M586.1 219.3h1M521.1 170.5h1M504.2 124.1h1M521.7 166.4h1M544.9 129.7h1M527.1 141.6h1M479.1 144.3h1M484.5 151.9h1M552.9 187.8h1M502.5 120.4h1M535.1 143.4h1M538.8 141.4h1M543.6 250.6h1M599.9 193.5h1M557.6 128.6h1M516.5 136.5h1M510.3 116.3h1M513 245.6h1M514.2 110.6h1M510.1 180.7h1M562.7 129.6h1M512.2 192.4h1M564.5 241.6h1M517.3 117.2h1M517.8 98.2h1M525.7 192h1M524.1 204.3h1M509.2 190.2h1M538.4 74.6h1M610.8 135.9h1M491.1 122.5h1M602.7 233.1h1M486.4 76h1M500.2 175.1h1M533.7 133.5h1M496.6 156.7h1M496.8 83.1h1M501.3 238.3h1M569.8 145h1M493.4 133.6h1M565.7 70.1h1M586.2 174.9h1M555 183.7h1M480.9 136.3h1M496.2 130.5h1M537.4 100.1h1M521 182.9h1M487.7 174.7h1M562.5 89.5h1M500 95.1h1M505.5 167.5h1M606.1 156h1M513.7 112.2h1M572.2 220.1h1M494.8 176.1h1M596.9 135.9h1M519.5 98.1h1M590.3 197.7h1M607.7 143.7h1M584.2 198.8h1M530.9 217.4h1M533.1 116.9h1M501.6 73.5h1M498.1 193.7h1M551.1 142h1M519.6 222.7h1M510.2 96.7h1M596 104.8h1M581.9 117.8h1M525.5 55.3h1M526.8 173.4h1M587.9 80h1M482.4 111.1h1M542.2 226.4h1M517.2 127.4h1M524.8 103.7h1M572.2 84.1h1M576.3 179.2h1M547.6 108h1M485.4 162.2h1M610.5 149.5h1M550.2 95.2h1M486.1 193.5h1M551.2 155.3h1M581.3 157.9h1M520.4 244.7h1M524.6 172.1h1M573.8 101.6h1M533.6 132.2h1M480.9 202.3h1M529.7 126.7h1M542 120.4h1M506.9 196.2h1M512.8 63.2h1M562.5 155.1h1M546.2 210.6h1M522.9 180.8h1M492.6 97.1h1M513.7 199.7h1M492.9 83.8h1M558.8 162.7h1M565.9 168.9h1M508.5 127h1M550.6 121.2h1M592.6 71.6h1M527.4 123.6h1M571.9 122.6h1M521.2 78.6h1M607.7 205.4h1M567.8 249.8h1M551.8 198.3h1M532.2 157.1h1M571.4 93.7h1M569.6 71.7h1M516.6 157.8h1M568.2 175.2h1M543.3 65.7h1M559.8 244.5h1M615 96.3h1M542.9 158.5h1M504.1 64.6h1M480.8 92.8h1M484.2 119.9h1M603.6 192.2h1M558.8 139.8h1M531.4 238.5h1M544.4 116.3h1M578.9 152.1h1M531.1 217.3h1M534.9 179.6h1M486.2 140.4h1M572 139h1M526.1 214.1h1M598 115.5h1M558.3 156.3h1M527.8 116.8h1M510.8 158.8h1M571.7 163.5h1M481.9 124.2h1M504.3 54.6h1M576.3 130.7h1M532.8 126.8h1M573.5 123.9h1M562.3 66.3h1M531.3 63.1h1M547.2 159.7h1M492.3 249.1h1M546.7 138h1M530.6 163.2h1M479.8 117.7h1M581.7 168.3h1M569.2 208.8h1M586.1 110.7h1M563.1 135.7h1M552.8 237h1M536.3 108.4h1M512.4 100.9h1M548 239.5h1M521.2 192.2h1M547.8 159.5h1M556.6 121.6h1M533.2 131.3h1M524.7 100.9h1M514.2 181.8h1M529.8 171.4h1M539.3 241.2h1M540.8 235.4h1M497.8 136.6h1M550.1 168.7h1M487.3 113.2h1M508.1 99.1h1M591.9 224.6h1M508.1 243.1h1M541.6 149.7h1M551.5 84.8h1M589.1 187.6h1M503.2 191.2h1M503.7 95h1M574.4 101.9h1M530.3 142.8h1M553.1 81.3h1M481.6 59h1M613.7 168.7h1M539.7 195.1h1M495.9 184.9h1M567.4 138.4h1M532.7 102h1M498.7 199.9h1M489.8 215.7h1M559.6 110.7h1M545.9 116.4h1M516.9 71.6h1M520 77.3h1M548.3 152h1M573.3 167.9h1M560.4 208.3h1M560.9 76.4h1M510.8 103.7h1M498.3 155.1h1M567.8 71.2h1M568.3 164.2h1M486.7 155.5h1M486.4 181.5h1M596.4 194.4h1M560 148.5h1M504.9 112.6h1M506.8 214.2h1M495.2 125.8h1M524 224.9h1M572.8 118.2h1M597 96.8h1M523 132.6h1M504.7 85.2h1M500.7 95.3h1M546.4 230.8h1M504.4 139.4h1M536.8 148h1M495.4 79.4h1M588.3 109.4h1M480.9 134.9h1M500.4 78.2h1M550.4 122.3h1M483.3 251.2h1M533 139.6h1M494.6 139.9h1M608.1 167.9h1M498.6 99.4h1M489.9 92.6h1M541.7 147.6h1M512.1 153.2h1M541.4 127.4h1M489.7 151.3h1M518.5 182.3h1M553 80.1h1M520.4 250.9h1M564.4 130h1M534.6 108.5h1M492 121.1h1M593.8 80.1h1M558.4 95h1M527.2 251.2h1M557.9 164.9h1M484.9 223.1h1M517.6 138.6h1M563.5 148.7h1M611.9 113.8h1M534.5 167.3h1M544.4 107.8h1M500.5 126.4h1M545.4 140.5h1M609.6 144.6h1M597.4 201.3h1M480.2 148.8h1M491.2 130.4h1M514.8 123.3h1M542.1 128.9h1M598.3 117.9h1M509.5 106h1M595.2 105.7h1M605.4 157.8h1M524.6 215.1h1M568.1 101.3h1M503.7 251h1M516 216.7h1M557.7 161.6h1M533.2 128.6h1M520.6 141h1M489.7 201.4h1M574.5 245.8h1M531.8 110.1h1M494.9 149.1h1M539.1 173.1h1M501.9 157.3h1M575 125.6h1M499.7 114.4h1M500 160.1h1M607.4 174.3h1M530.7 141.1h1M527.7 105.2h1M491.3 107.6h1M488.6 78.9h1M525.1 109.1h1M568.7 168h1M563.2 118.8h1M511.7 96.2h1M514.8 179h1M544.7 94.2h1M566.1 219.5h1M515.6 128.9h1M506.2 123.6h1M588.4 141.5h1M539.9 113.3h1M564.4 100.3h1M500.2 174.3h1M609.7 155.1h1M563 138.4h1M524.9 110.6h1M522.5 194.3h1M512.7 118.3h1M517.4 166.8h1M512.7 136.4h1M512.6 156.4h1M490.6 109h1M564.3 119.3h1M495.2 82.1h1M544.3 103.8h1M512.6 110.9h1M579.6 176.6h1M533.4 100.7h1M614.9 240.9h1M563.1 217.3h1M546.5 160.8h1M555.3 169.1h1M488.9 81.8h1M488.3 116.8h1M507 155.4h1M569.1 118.6h1M580.8 149.9h1M560.6 84.2h1M502.4 215.9h1M575.1 75.2h1M487.5 195.4h1M548.1 209.5h1M548 62.6h1M509.3 120h1M572.4 134.6h1M538.1 100.9h1M571.3 124.1h1M483.2 158h1M514 165.2h1M493.5 70.4h1M535.7 159.6h1M481.4 108.2h1M559.3 171.1h1M497.1 143.6h1M498 148h1M488.6 99.4h1M488.6 107.4h1M575.4 147.1h1M565.2 102.3h1M611.7 133.2h1M525 186.3h1M532.5 118.6h1M489.9 237.5h1M552.2 138.4h1M541.2 171.9h1M519.7 152.1h1M531.2 240.8h1M486.1 201.8h1M543.3 138.5h1M535.6 169.9h1M568.4 151.5h1M520.3 123h1M510.7 86.8h1M509.8 138.6h1M546 139h1M523.9 149.4h1M522.4 188.6h1M503.2 179.8h1M496.1 117.9h1M482.1 96.2h1M498.4 133.7h1M573.3 94.4h1M488.6 132.7h1M501.1 137.5h1M574.1 231.7h1M542 175.9h1M510.2 82.6h1M533.1 125.3h1M494.7 245.5h1M594.3 194.8h1M563.7 115.9h1M580.6 243.3h1M600.1 153.9h1M497.3 155.6h1M506.2 144.5h1M495.7 146.7h1M501.8 115.7h1M539.7 172h1M536 252.3h1M544.6 149.8h1M543.6 154.4h1M506.2 192.2h1M557.7 187.9h1M592.9 116.7h1M564.5 162.8h1M581.6 131.8h1M560.7 169.6h1M569.9 113.5h1M512.4 139.3h1M511.2 72h1M567.6 158.6h1M608.1 165.2h1M531.2 84h1M558.2 232h1M596.6 133h1M536.9 169.3h1M576.3 131.2h1M527.4 172.7h1M516.1 228.2h1M534.7 114.5h1M529.8 131.3h1M539.9 106.2h1M491.4 224.6h1M506.3 152.9h1M502.1 75.9h1M507.4 122.2h1M502.1 229.3h1M541.4 164.3h1M514.9 137.5h1M582.3 115.9h1M523.8 150.2h1M541.8 199.7h1M503.1 158.2h1M495.1 107.7h1M491.9 98h1M499.6 133.7h1M517.5 163.1h1M531.2 155.7h1M526.9 221.7h1M541.8 60.2h1M485.2 173.9h1M589.9 235.1h1M557.7 139.1h1M513.8 115.1h1M594.9 196.2h1M491.2 87.2h1M596.4 249.9h1M592.5 103.2h1M518.2 162.9h1M529.3 108.4h1M545.9 152.4h1M576 200.2h1M489.3 134.1h1M585.7 174.2h1M521.9 117.8h1M572.2 203.9h1M532.2 110h1M545.1 78.9h1M518.6 150.7h1M495.2 131.4h1M559.6 242.5h1M565.1 112.2h1M519.1 178.9h1M505.3 128.7h1M525.2 91.2h1M527.6 154.3h1M533.3 128.9h1M519.7 79.7h1M488.4 109.4h1M547.2 189.5h1M606.4 116.7h1M530.5 134.8h1M519.8 121.4h1M541.2 243.1h1M537.6 88.1h1M513 175.5h1M492.8 205.9h1M575.3 129.8h1M560.9 148.7h1M522.7 212.7h1M585.7 133.6h1M489 139h1M547.9 161.5h1M526.7 199.7h1M524.1 146h1M561.8 150.2h1M533.1 135.4h1M578.6 134.9h1M535.2 112.1h1M510.9 185.4h1M483.7 155.7h1M506.7 224.7h1M528.3 162.8h1M514.3 115.8h1M493.6 116h1M529.2 149.5h1M549.4 220.3h1M534.9 83.6h1M578 145.3h1M496 223.7h1M501.1 185.3h1M527 125.2h1M492.7 152.9h1M556.8 215.9h1M487.4 137.4h1M487.9 134.7h1M524 97.2h1M530.4 132.8h1M507.4 170.2h1M492 51.1h1M551.1 237.3h1M527.6 138.9h1M552.3 246.7h1M555.1 158.7h1M492.7 139.8h1M499.6 223.3h1M524.2 90.4h1M509.3 246.8h1M552.4 125.8h1M550.4 138.7h1M527.9 79.3h1M488.7 99.3h1M546.7 141.4h1M516.6 170.6h1M533.7 132.5h1M522.6 251.6h1M575 157.3h1" stroke="#0a0aff" stroke-width="1.0" stroke-opacity="0.85" fill="none"/>
<path d="M511 217.4h1M504.6 191h1M517.8 219.2h1M570 176.1h1M570.5 149.1h1M529.1 218h1M526.1 79.3h1M510.9 226.2h1M528.1 179.8h1M522.6 214.9h1M515.6 217h1M494.7 164.1h1M569.5 204.3h1M573.2 231.1h1M606.7 223.2h1M494.4 234.1h1M589.3 223.1h1M515.5 174h1M496.2 222.6h1M491.7 234.4h1M569.4 208.2h1M528.2 127.7h1M506.2 195.2h1M496.4 213.9h1M499.4 218h1M478.1 177h1M564.1 241.6h1M588.3 200.6h1M556.3 164.2h1M572.4 147.8h1M492.4 224.2h1M542.7 171.9h1M481.6 97.5h1M535.4 241.4h1M549 238.2h1M540.1 93.4h1M534.4 185.4h1M514.5 242.5h1M589.1 202.6h1M597 208.3h1M589.9 139.5h1M554.9 206.7h1M486.7 179.6h1M619.6 250.2h1M575.5 218.8h1M553.6 47.4h1M570.3 151.8h1M485.3 246h1M533.4 155.8h1M494 169.4h1M565.8 204.6h1M569.1 202.8h1M515.5 81.4h1M591.4 220.9h1M535.2 178.9h1M539.6 197.4h1M536.4 211.9h1M550.2 176.5h1M563.9 72.6h1M496.2 177.3h1M593.5 131.9h1M501.6 189.9h1M514.9 166.2h1M571.3 175.2h1M571.1 112.6h1M501.3 148.8h1M584.8 131h1M607.2 121.6h1M504.2 49.6h1M534.2 138.8h1M583.5 51h1M558.9 211.2h1M604.5 232.7h1M572.1 150.4h1M500 189.4h1M577.5 213.7h1M570.2 87.9h1M583.3 155.2h1M487.5 107h1M583.8 172h1M545.5 93.5h1M516.2 190h1M558.4 179.4h1M486.4 139.1h1M487.2 115.7h1M515.7 189.8h1M585.4 136.9h1M485.8 198.1h1M484.6 206.4h1M521.2 194h1M509.6 162h1M592.1 157h1M580.2 128.8h1M531 206.2h1M590 110.7h1M608.4 255.9h1M547.1 75.6h1M571.4 153.4h1M486.5 119.8h1M594 237.7h1M589.6 228.1h1M571.5 190h1M515.4 221.1h1M488.3 48.5h1M569.7 226.4h1M536.9 235.3h1M492.6 129.9h1M526.3 113.5h1M514.9 249.9h1M500.8 158.2h1M596.2 232.4h1M567.7 237.5h1M523.5 205.4h1M562.4 236.4h1M541.7 197.3h1M496.9 160.4h1M609.1 196.7h1M563.7 111.8h1M563.5 233.3h1M489.7 233.1h1M626.9 61.7h1M586.6 222.5h1M525.5 237.8h1M538.5 243.6h1M594.8 138.8h1M608.1 142.1h1M563.6 146.7h1M512.6 136.6h1M489.9 118.3h1M518.3 198h1M504.8 203.2h1M547.8 114.4h1M540.1 92.1h1M570.4 151.2h1M539 149.5h1M564.1 195.4h1M571.1 181.2h1M543.1 193.6h1M491.8 191.6h1M496 100.3h1M493.3 174.6h1M497.8 224.2h1M567.1 227.6h1M490 185.4h1M543.3 239.4h1M515.6 199.8h1M504.4 147.7h1M523.8 247.3h1M537.2 158.9h1M511.6 197.4h1M496.2 168h1M553.2 102.7h1M520.5 225h1M591.2 80.4h1M490.2 103.9h1M561.1 172.2h1M554.9 78.7h1M589.3 153.4h1M567.6 152.9h1M518.1 108.7h1M558.3 166.1h1M516.7 164.7h1M522.4 233.9h1M489.4 142.8h1M493.8 183.6h1M552.5 184h1M489.8 182.8h1M562 115.6h1M486.9 126.3h1M596.8 162.3h1M535.4 67.8h1M503.4 220.7h1M573.1 157.8h1M549.9 234.8h1M527.1 190.4h1M503.8 227.8h1M535.3 197h1M565.2 80.8h1M495.9 195.3h1M479.4 195.9h1M543.4 169.7h1M551 148.7h1M534.5 225.8h1M522.1 189.9h1M549.4 225.5h1M482.4 208.4h1M588.5 184.4h1M620.6 184.7h1M551.9 230.2h1M543.6 59.4h1M567.6 195.5h1M519.2 129.8h1M543.2 86.5h1M575.7 161.7h1M571.2 113.9h1M558.9 131.9h1M559.1 155.9h1M562.8 234.4h1M498.9 187.8h1M482.4 192h1M503.4 204.4h1M496 231h1M543.7 115.2h1M580 218.1h1M522.1 169.8h1M556.9 218h1M580.5 201.4h1M550.8 216.4h1M591 139h1M562 185h1M500.2 80.3h1M516.7 160.3h1M576.7 149.2h1M537.1 189.7h1M554.8 190.2h1M550.4 203.7h1M504.8 198.4h1M533.7 219.1h1M576.5 210.9h1M564.1 65.1h1M545.5 217.9h1M510.4 200.9h1M554.3 216.8h1M542.4 176.3h1M491.4 149.6h1M551.4 191h1M543.5 229.7h1M504.8 145h1M559.5 138.3h1M518.6 147.2h1M529.4 247.8h1M503.7 136.2h1M558.8 131.7h1M565.2 170.1h1M502.4 131.7h1M584.7 213.8h1M544.7 246h1M573.4 95.6h1M581.1 207.4h1M514.4 209.6h1M596.2 73.5h1M568.9 245h1M569.9 187.2h1M506.1 236.1h1M562.5 171.2h1M576.2 167.1h1M484.9 122.4h1M522.7 164.7h1M590.9 168.3h1M560.8 151.5h1M611.6 76.7h1M536.5 211.9h1M538.7 248.1h1M487.6 174.1h1M559.6 162.5h1M574.6 189.2h1M517.8 82.6h1M485.4 174.9h1M572.8 224.3h1M487.3 219.4h1M574.9 133.1h1M540.1 247.5h1M592.9 65h1M540.3 241.6h1M534.5 129.8h1M607.4 86h1M557.5 124.9h1M569.4 140.2h1M551.6 142h1M530.7 185.9h1M581.6 142.5h1M555.6 84.3h1M562.5 172.7h1M598.2 175.4h1M578.4 178.5h1M569.4 176.1h1M543.7 159.1h1M493.3 167.5h1M512.6 238.3h1M545.5 196.2h1M527.8 133.9h1M518.1 194.7h1M524.8 224.8h1M481.8 185.9h1M509.5 211.3h1M509.3 165.5h1M572.3 75.9h1M533.3 162.3h1M569 211.6h1M515.9 92.7h1M572 226.5h1M561.5 247.1h1M519 185.7h1M545.4 227.3h1M486.2 201.9h1M562.7 201.3h1M523 54.6h1M510.7 168.2h1M524 147.2h1M558.3 222.3h1M509 192.1h1M530.6 78.7h1M509.7 172.4h1M556.3 181.9h1M593.3 154h1M600.7 150.1h1M523.3 161.3h1M518.1 178.4h1M519.5 201.8h1M547.8 202.6h1M528.7 170.9h1M491.7 66.9h1M524.3 219.8h1M547.3 158.1h1M541.7 241.3h1M592.5 207.4h1M546.1 241.9h1M576.8 134.7h1M596.4 116.3h1M531.4 215.3h1M591 203.9h1M566.2 177.7h1M523 170.6h1M580.7 97h1M489.9 76.4h1M566.2 204.3h1M491.9 171.9h1M571 174h1M534.4 128.6h1M523.6 252.4h1M544.8 146.8h1M549.7 129.6h1M600.2 148.3h1M561.3 227.6h1M527.5 224.9h1M572.6 229h1M513 90.7h1M489.4 209.9h1M558.8 193.4h1M507.2 202.3h1M554.7 243.4h1M542.3 75.4h1M503.4 143h1M547.6 126.9h1M557.5 110.4h1M540 122.4h1M572.5 115.9h1M538.9 202.3h1M547.7 146.9h1M549.1 227.8h1M519.2 258.9h1M481.7 250.9h1M536.8 243.3h1M495.9 253.5h1M488.4 211.8h1M508.9 212.9h1M520.2 129.5h1M566.5 174.9h1M507.3 116.8h1M538.7 227h1M492.1 206.6h1M614.8 98.9h1M593.5 117.6h1M516.4 155.5h1M496.2 211h1M518.5 236.5h1M483.2 188.7h1M522.6 129.8h1M549.7 199.8h1M535.2 243.5h1M558.5 226.6h1M529 122.6h1M570.8 194.1h1M573.9 136.2h1M544.7 209.8h1M494.2 233.3h1M585.9 188.2h1M571.5 218h1M498 112.4h1M510.8 193.7h1" stroke="#ff5a0a" stroke-width="1.0" stroke-opacity="0.75" fill="none"/>
</g>
<g clip-path="url(#clipd)">
<path d="M586.8 390.1h1M510 511.6h1M571.2 433.1h1M594.3 500.8h1M557.2 500.4h1M507.1 476.2h1M568.4 519.4h1M561.2 491h1M524.2 460.5h1M578.8 431.6h1M576.3 455h1M495.6 561.4h1M607.8 428.3h1M535.4 423.6h1M564.9 506.1h1M537.4 504.8h1M525.3 426.5h1M504 512.7h1M585.8 515.1h1M495.8 387.7h1M533.9 421.5h1M515 503.4h1M562 555.4h1M495.6 468.1h1M532.9 496.5h1M553.2 406.6h1M585.7 370.5h1M547.9 494.8h1M529.8 392.8h1M559.9 486.1h1M519.9 509h1M565.4 565h1M552.7 431.3h1M528.8 445.4h1M510.6 485.6h1M515.6 414.9h1M539.3 432h1M525.6 514.8h1M520.9 454.2h1M581.6 462.3h1M572.9 496.6h1M489.1 450h1M596.6 468.4h1M485.7 489.9h1M487.9 543.9h1M568.7 436.9h1M541.3 402.8h1M511 444.6h1M561.3 442h1M490.4 402.6h1M602.8 460.5h1M520.9 462.4h1M515.6 460h1M540.9 480.4h1M524.4 431.2h1M525.4 496.3h1M523.9 465.3h1M560.5 465.8h1M481.9 434h1M506 559.5h1M561.4 429.7h1M567.6 371.4h1M492.9 500.6h1M548.3 479.8h1M557.8 408.1h1M525.7 496.2h1M507.6 417.6h1M535.8 482.5h1M569.6 563.1h1M512.5 493.2h1M488.8 398.8h1M573.2 489.5h1M513.2 412.5h1M509 512.3h1M534.4 406.5h1M486.6 486.2h1M522.4 412.1h1M481 469.3h1M501.7 532.9h1M514.1 526.4h1M511.4 450.6h1M541 518.6h1M544.8 417.3h1M545.9 451.7h1M604 373.8h1M482.3 397.6h1M509.2 477.6h1M541.2 485.6h1M540.9 409h1M562.4 401h1M564 447.1h1M590.7 440.7h1M517.9 418.6h1M566.3 434.8h1M497.1 436.7h1M565.4 415.3h1M552.7 468.4h1M514.8 493.1h1M488.5 550.8h1M522.7 445.1h1M493 399.3h1M520.5 504.3h1M579.7 393.3h1M537.6 459.1h1M496.8 446.8h1M528.3 442.7h1M558.8 467.7h1M522.4 495.7h1M488.2 452.3h1M515 555.8h1M562.1 535.6h1M575.6 424.4h1M487.6 531.7h1M567.7 553.5h1M500.9 419h1M516.3 471.2h1M517.7 404.4h1M521 511.4h1M522.1 496.9h1M500.3 404.7h1M569.4 478.1h1M509.9 547.2h1M543.3 404.8h1M500.6 457.7h1M594.8 460.9h1M506.8 516.1h1M529.3 412.8h1M531.3 536.1h1M535.3 476.4h1M529.4 478.2h1M525.8 497.9h1M531.3 420.9h1M554.2 406.5h1M520.3 415.5h1M482.6 437.5h1M490.8 475.7h1M487.8 430.2h1M484.9 482.7h1M487.9 543.6h1M587.8 515.2h1M505.2 494.7h1M552.2 471.3h1M554.2 419.5h1M512.1 442.6h1M496.3 558.8h1M573.9 452.9h1M538.3 408.7h1M490.3 489h1M536 475.7h1M508.8 486.1h1M534.4 374h1M499.1 523.7h1M529.9 460.7h1M502.7 417.7h1M524.6 387.1h1M570.1 443.5h1M578.3 462.3h1M519.1 476.5h1M565.7 492.1h1M561.8 449.4h1M553.6 478.2h1M563.9 451.5h1M548.6 377.9h1M519 444.8h1M508.3 468.6h1M553.3 406.7h1M525 482.1h1M494.3 552.1h1M530 515.1h1M492.7 464.7h1M579.2 433.4h1M517.5 528.1h1M497.6 547.5h1M525.9 399.9h1M483.4 432.1h1M485.2 480.2h1M489.8 429.8h1M515.1 367.3h1M504.1 393.6h1M566 441.2h1M575.7 479.1h1M536.4 516h1M515.6 473.5h1M566.6 460.4h1M533.6 437.3h1M515.6 517.2h1M504.9 415.6h1M540.3 462.8h1M527.6 494h1M503 502.8h1M521.6 428.9h1M598.2 408.9h1M513 458h1M497.1 395.9h1M487.4 566h1M505.1 413.3h1M589 389.3h1M560.3 428.2h1M511.7 477.8h1M548.3 430.2h1M519.9 499.6h1M518.4 491.8h1M569.1 404.3h1M491.1 551.8h1M529.4 420.7h1M509.8 417h1M501.3 457.3h1M542.7 453.1h1M500 491.4h1M512.9 513.7h1M518.9 387.9h1M522.9 475.8h1M492.6 428.9h1M528.7 391.9h1M493.4 438.4h1M487.8 435h1M494.4 531.8h1M555.8 413.8h1M505.5 489h1M564.1 461h1M495.3 516.6h1M515.9 458.7h1M518.2 442h1M511.8 462.4h1M554.8 487.6h1M510.9 370.3h1M540.8 495.6h1M559.6 466.1h1M588.6 434.1h1M513 449.4h1M494.1 443.3h1M532.6 449.1h1M586.1 493h1M564.7 443.7h1M559 449.3h1M512.8 547.5h1M564.2 367.2h1M526.4 550.8h1M530.1 441.5h1M558.6 456.2h1M487.6 440.9h1M508.5 454.2h1M519.6 376.1h1M495.6 444.3h1M482.2 462.9h1M542.3 473.1h1M612.4 380.9h1M483.3 452h1M549.6 452.7h1M563.3 508.5h1M499.1 394.2h1M537.8 430.4h1M506.3 463.3h1M537.8 451.6h1M530.4 472.7h1M526.7 542.9h1M539.2 423.3h1M522 431.4h1M545.4 453.1h1M545.3 541.9h1M558.4 397.2h1M547.8 526.7h1M561 432h1M537.9 556h1M548.9 388.9h1M485.3 510.1h1M484.1 458.3h1M530 440.4h1M513.6 395.8h1M549.1 487.1h1M505.9 395.1h1M531.2 490.7h1M537.4 426.6h1M499.5 568.8h1M495 441.9h1M493.9 479.2h1M508 467.2h1M501.5 443.7h1M585.5 553h1M508.1 549.1h1M487.5 466.9h1M491.7 429.6h1M522.6 456.5h1M500.6 409h1M498.6 399.4h1M545.8 479.4h1M551.6 442.2h1M542.2 451.2h1M497.5 406.9h1M526.7 485.6h1M556 520.9h1M509.8 390.1h1M562 444.5h1M515.2 427.4h1M524.5 425.8h1M582.8 548.2h1M587.4 425.9h1M487.3 463.6h1M551.2 513.1h1M488.3 564.4h1M521.2 411.3h1M530 471.3h1M558.4 443.1h1M529.8 453.3h1M505.4 489.2h1M508 388.2h1M491 443.4h1M522.5 409.7h1M523 443.7h1M516.6 470.7h1M497.1 507.2h1M558.6 413.3h1M574.5 399.2h1M582.5 449.1h1M487 424.5h1M546.6 417.9h1M512.5 476.3h1M569.2 460.2h1M531.3 516.1h1M516 458.8h1M531.9 495h1M482.9 455h1M495.4 464.6h1M486 434.9h1M557.4 440.5h1M520.7 468.3h1M571.1 435.4h1M539.3 444.6h1M546.3 472.3h1M553.1 383.9h1M512.4 425h1M536.5 479.1h1M540.5 471.1h1M543.4 507.4h1M541.1 474h1M522.2 455h1M528.2 435.7h1M582.2 408.8h1M488.2 450.8h1M550.2 397h1M531.4 392.9h1M557.2 527.4h1M520.4 479.2h1M573.8 511.6h1M505.8 504.6h1M489.6 528.3h1M501.1 483.4h1M554.8 518.6h1M486.5 461.1h1M507.3 476.7h1M522.4 462.7h1M558 418.4h1M540 434.8h1M517.7 423.6h1M522 487.5h1M537.9 457.8h1M561.9 441.5h1M530.4 508.5h1M558.7 379.8h1M546.1 433.8h1M488.9 411.1h1M545.9 487h1M480 403.4h1M548.5 415h1M572.9 369.2h1M602.1 370.6h1M582 499.2h1M510.7 390.3h1M574.3 517.8h1M495.3 490.8h1M517.8 446.1h1M512.6 375.2h1M564.8 477.7h1M511.7 383h1M539.6 448.1h1M531.2 414.6h1M484.1 420.5h1M580.4 458.3h1M561.3 509.4h1M556.4 449h1M510.3 455.7h1M518.9 491.1h1M502.5 404h1M552.5 465.3h1M522.7 389.3h1M551.8 388.8h1M510 504.6h1M513.5 455.7h1M520.9 518.8h1M542.1 470.4h1M563.6 435.6h1M567.4 498.3h1M502.6 416.1h1M497.1 390.9h1M555.8 399.4h1M541.3 474.6h1M540.5 378.9h1M510.3 464.9h1M505.5 409.8h1M539.1 506.8h1M516.9 458.9h1M568.9 447.3h1M489.4 562.8h1M511 425.2h1M495.5 544.3h1M538 430h1M502.9 473.8h1M582.9 491h1M532.8 455.9h1M556.5 510.1h1M518.7 503.5h1M487.6 442.8h1M534 515.8h1M535.3 431.3h1M520.2 486.2h1M539.4 434.2h1M500.4 543.8h1M518.3 450.7h1M528.3 466.9h1M525.1 541.5h1M499.2 434.2h1M554.5 474.4h1M585.8 478.7h1M588 520.5h1M541.8 475.5h1M502.9 376.8h1M572.5 468.6h1M559.4 464.3h1M488.5 409.8h1M524.2 468.8h1M500.6 485.3h1M487.5 466.1h1M519.7 407.4h1M490 483.8h1M485.1 432.6h1M514.8 545.7h1M506 504.5h1M557.6 465.3h1M533.8 471.3h1M564.3 452.2h1M508.8 495.3h1M551.9 515.3h1M535.1 396.6h1M533.9 487h1M545.1 444.3h1M485 542.1h1M572.6 521.9h1M514.8 441.8h1M488.6 466.1h1M548.6 397.3h1M512.3 398.7h1M533 484.5h1M495.9 511h1M525.9 418.8h1M505.9 423.1h1M544 448.3h1M594.3 444.9h1M527.6 444.7h1M500 454.6h1M556.6 479.6h1M563.3 483.2h1M531.8 388.7h1M525.6 439.9h1M566.2 468.9h1M572.7 421.9h1M505.1 511h1M499.6 455.1h1M526.6 461.1h1M547.5 564.4h1M536 515.2h1M564.4 466.4h1M497.5 454.4h1M499.8 440.6h1M517.1 463.1h1M556.4 440.6h1M527.5 429h1M498.9 420.5h1M539.3 447.7h1M508.3 389.1h1M488.5 418.7h1M496.6 543.1h1M547.9 452.2h1M506.2 388.8h1M505.8 538.6h1M546.8 458.5h1M542.8 438.8h1M535.2 462.4h1M588.9 518.7h1M506.5 448.3h1M577.5 418.1h1M489.6 420.2h1M547.2 476.2h1M538.2 464.3h1M500.1 536h1M555.5 526.8h1M511.2 419.9h1M542 434.9h1M518.5 401.7h1M513.5 465.7h1M524.7 405h1M498.1 466.7h1M494.5 446.8h1M530.4 546.1h1M502.2 482.8h1M575.7 434h1M505.8 414.5h1M514.9 426.1h1M519.7 437.7h1M547.2 465.5h1M541.4 411.7h1M517.9 421.6h1M517.5 538.2h1M503.5 418h1M542.3 414.6h1M477.9 484.8h1M542.9 550.4h1M539.1 442.9h1M539.3 430.2h1M527.8 424.5h1M512.7 426.6h1M535.8 387.3h1M481.7 448.5h1M528.5 548.3h1M521 386.1h1M526.8 488h1M581.4 442.8h1M531.3 485.2h1M492 466.5h1M535.2 446.2h1M541.8 445.3h1M558.2 412.7h1M511.1 455.1h1M543 412.7h1M511.2 522.1h1M542.6 536.7h1M575.5 499.3h1M565.5 524.8h1M536.7 453.4h1M494.5 450.7h1M481.4 419.8h1M485.3 478.7h1M579.4 454.1h1M518.3 474.6h1M563 511.9h1M487.7 517.7h1M567 527.3h1M550.4 439.1h1M495.3 437.8h1M502.8 395h1M504.9 476h1M491.7 478.7h1M548.9 369.3h1M498.3 532.7h1M561.8 403.8h1M572.9 428.5h1M500.5 449.2h1M537.7 418.6h1M490.3 392.5h1M508.4 430.7h1M483.7 446.7h1M511.6 447.9h1M508.4 477.2h1M549 457.2h1M483.3 427.7h1M530.3 540h1M526.7 493.3h1M553.3 438.9h1M543.4 395.2h1M567.7 562.3h1M539.8 465.8h1M540 488.3h1M523.1 365.7h1M486.4 504.3h1M501.2 423.2h1M539.8 412.3h1M571.3 512.1h1M568.5 425h1M547.4 428.8h1M559.7 468.1h1M525.5 439h1M507.4 421.1h1M485.4 541.5h1M495.4 426h1M547.6 465.7h1M562.5 497.3h1M511.9 432.8h1M570.3 435.8h1M592.9 375.8h1M562.2 449.6h1M509.7 421.6h1M484.1 409.9h1M520.6 452.5h1M494.6 477h1M487.4 524.9h1M573 438.8h1M515.3 478.9h1M489.1 542.1h1M562.1 431.3h1M584.3 405.3h1M490.9 403.3h1M545.8 419.2h1M509.7 478.8h1M574.5 464.7h1M546.7 469.3h1M604.5 467h1M565.1 492.5h1M569.2 458.9h1M509.3 394.4h1M521 407.7h1M519.4 517.6h1M541.5 479.9h1M573 545.2h1M525.3 433.8h1M505.6 540.5h1M507.5 454.7h1M579.6 370.9h1M558.5 563.8h1M520.9 461.7h1M533.1 471.5h1M558.7 481.1h1M514.6 420.2h1M554.5 520h1M589.9 361.2h1M553 458.9h1M479.8 445.8h1M517.2 448h1M532.1 399h1M528.2 498.8h1M551.7 436.1h1M521.1 474.4h1M556.9 504h1M535.6 409.5h1M508.9 488h1M528.2 422.8h1M532.7 471.6h1M565.1 521.4h1M554 429.1h1M584.3 493.6h1M495.8 480h1M502.2 426.1h1M544.3 439h1M483.9 406h1M572.2 489h1M546.1 467.4h1M501.1 452.3h1M564.4 393.7h1M490.4 478.9h1M498.4 461.6h1M523.2 437.6h1M528.6 515.6h1M579.7 568.6h1M525.7 408.4h1M514.8 545.2h1M498.3 473.8h1M524.3 478.7h1M563.2 456.7h1M544.7 460h1M538.3 463.6h1M491.5 461.4h1M513.2 406.2h1M566.1 499.3h1M557.4 415.5h1M498.2 447.2h1M493.6 386.4h1M549.4 437.7h1M578.6 502.5h1M485.1 416.8h1M500.3 514h1M541.9 487.2h1M560.5 444.9h1M562.2 435.4h1M542.8 420.3h1M479.8 384.1h1M486.5 399h1M518.7 443.6h1M576.2 466.7h1M518.5 419.5h1M567.8 469.1h1M528.6 514.8h1M539.2 423.8h1M497.6 455.2h1M581.3 451.2h1M500.9 387.6h1M500.3 469.7h1M549 522.1h1M529.1 431.4h1M559.9 512.1h1M535.5 545.3h1M482.4 359h1M507.5 511.8h1M587.8 492.5h1M563.3 409.2h1M544 391.9h1M519.3 428.5h1M556.1 454.1h1M516.7 557.5h1M547.6 422.6h1M538.6 421.3h1M524.6 503.5h1M500.8 386.1h1M506.1 460.6h1M493.8 418h1M493.7 511.2h1M561.9 568.7h1M483.5 512.5h1M569.8 440.6h1M520.7 490.8h1M489.8 358.3h1M513 424.7h1M485.8 450.7h1M541.7 468.2h1M505.8 429.6h1M565.2 421.7h1M504.3 540.4h1M511.6 430.1h1M560.4 508.3h1M516.5 416.1h1M528 451.2h1M496.7 458h1M509.5 459.7h1M506.6 454.6h1M533.4 482.6h1M501.5 383h1M482.2 500.4h1M520.1 481.8h1M575.8 460.5h1M481.5 558.2h1M505.3 428.8h1M595.5 419.2h1M519.3 416h1M564.4 495.2h1M579 487.7h1M548.5 442.7h1M552.4 439.1h1M555 413h1M585.9 469.8h1M559.9 468.8h1M505.7 448.7h1M530.3 492.7h1M555.1 381h1M577.1 474.2h1M512.4 415h1M523.3 410.5h1M535.7 537.1h1M584 434.9h1M510.4 475.4h1M518.9 556.8h1M570.2 430.3h1M482 406.8h1M549.1 449.8h1M512.5 552.7h1M528.5 455.4h1M553.7 417.3h1M529.2 568.2h1M505.2 475.6h1M549 444h1M484.2 438.3h1M512.9 554.8h1M546.9 514.8h1M509.6 531.1h1" stroke="#0a0aff" stroke-width="1.0" stroke-opacity="0.85" fill="none"/>
<path d="M572 518.3h1M594.8 434.1h1M516.7 481.1h1M490.5 503.6h1M480.2 473.9h1M577.7 436.1h1M580.2 517.2h1M579.8 547.1h1M518.8 520.8h1M616 518.4h1M590.8 499.1h1M551.7 539.1h1M545.9 521.2h1M497.1 492.2h1M487.7 521.2h1M551.7 532h1M577.8 506.3h1M574.4 482.4h1M487.9 378.5h1M549.1 506.1h1M522.5 481.9h1M562.8 460.6h1M570.1 480.1h1M584.1 560h1M541 522.8h1M479.8 527.1h1M506 567.4h1M517.4 493.2h1M508.7 431.4h1M553.7 485.4h1M510.4 564h1M551.7 451.6h1M503.5 540.1h1M558.4 544h1M485.8 362.3h1M524.9 512.5h1M578.8 488.1h1M481.8 565.3h1M568.6 558.6h1M565.9 561.5h1M582 476.5h1M575.9 515.5h1M565 454.9h1M490.4 467.3h1M614.2 399.9h1M579.8 518.6h1M550.5 542h1M481.9 513.2h1M507.5 522.1h1M572.1 494.7h1M483.9 449.7h1M558.1 528.4h1M527.9 516.8h1M493 491.5h1M577 509.3h1M483.1 466.3h1M491.4 448.9h1M555.3 425.1h1M513.4 488.3h1M514 532.8h1M501.2 462.4h1M478.6 381.6h1M489.6 431.8h1M517.2 552.8h1M514.8 516.6h1M512.7 474.3h1M585 508.8h1M524.6 400.3h1M503.3 497.4h1M538.4 529.6h1M621.5 429.3h1M530.3 520.3h1M596 400.9h1M569.9 469h1M480.9 547.7h1M533 489.1h1M602.8 467.8h1M520.7 519.7h1M520.8 527.7h1M526.3 456.3h1M493.9 500.3h1M562.6 552h1M623.3 496h1M532 472.8h1M492.8 547.7h1M511.6 504.1h1M511.4 543h1M594.5 528.1h1M570.6 393.4h1M603.7 555.7h1M477.3 541.8h1M596.8 527.7h1M522 465.1h1M539.7 469.2h1M529.4 518.9h1M504 493.9h1M499.5 473.8h1M517.6 515.5h1M481.8 444.7h1M519.1 491.9h1M586.5 483.5h1M570.1 412.7h1M569.2 483.3h1M558.7 494.5h1M496.9 386.5h1M646.5 467.1h1M552.7 427.3h1M567.4 514h1M557.7 536.5h1M487.9 510.5h1M495.5 470.6h1M531.9 482h1M609 478.7h1M487.8 481.9h1M522.6 499.2h1M589.5 540.9h1M505.9 431.2h1M557.5 472.6h1M532.3 532.5h1M536.3 496h1M493.4 501.4h1M549.4 474.7h1M595.7 447.3h1M591.6 547.8h1M609.6 520h1M493.4 480.8h1M587.3 419.2h1M525.2 490.8h1M576.9 555.7h1M557.9 532.4h1M545.9 496.2h1M490.5 476.7h1M525.1 516.9h1M551 518.7h1M559.9 415.7h1M565.9 545.6h1M544.1 526.9h1M575.3 516.5h1M582.4 504.1h1M565 545.1h1M500.3 492.9h1M552.4 468.8h1M587.1 422.9h1M532.5 402.2h1M561.7 534.6h1M511.1 513h1M559.2 510.1h1M481.8 499.7h1M507.8 508.1h1M503.7 366h1M533.7 515.4h1M531.5 519.9h1M574.8 479.3h1M572.9 512.3h1M493.5 509.5h1M533.8 504.9h1M584.6 486.8h1M584.9 377.8h1M598.2 514.5h1M609.3 406.8h1M485.7 513.7h1M531.8 471h1M486.4 518h1M519.8 561.5h1M525.6 541.2h1M507.6 528.9h1M607.5 472.6h1M564.7 511.9h1M600.4 510.3h1M489.7 423.2h1M528.7 407.1h1M540.3 479.5h1M565.3 494.7h1M499.4 464h1M488.7 526.1h1M557.4 493.5h1M526.3 494.7h1M488.8 534.8h1M523.8 480.1h1M547 375.8h1M494.8 553.4h1M565.5 385.2h1M512.5 452h1M571.2 487.3h1M511.7 365.1h1M517.4 505.5h1M498 544.1h1M577.3 512.6h1M481.1 361.3h1M479.8 422.4h1M580.1 446.2h1M587.8 509.3h1M523.8 509h1M515.1 483.5h1M514.8 497.9h1M525.8 569.4h1M500.9 475.8h1M520.1 459.8h1M491.7 508.9h1M488.6 547.3h1M496.8 435.9h1M609.3 518.3h1M552.3 562.4h1M587 491.8h1M534.6 561h1M524.7 524.1h1M567.9 493.9h1M583.5 524.9h1M553.4 503.8h1M516.3 499h1M538.2 416.6h1M495.1 370.7h1M542.7 450.3h1M491.3 506h1M529.5 457.4h1M518.9 427.7h1M576.9 494.9h1M502.1 481.3h1M588.1 541.6h1M501 531.7h1M577.9 531.5h1M496.3 517.7h1M522.9 527.7h1M531.3 471.8h1M525.4 485.5h1M551.2 501.8h1M562.2 459.1h1M561.7 409.5h1M498.7 511.7h1M583 416.4h1M619.6 558.7h1M562.2 447.5h1M509.5 551.3h1M552.7 451.6h1M506.9 477.4h1M520.9 411.1h1M485.1 521.7h1M503.8 516h1M597.5 420h1M568.5 509.4h1M507.2 504.9h1M549.8 561.1h1M506.1 443.2h1M492.1 495.8h1M524.2 485.4h1M548.9 547.4h1M566.5 505.7h1M489.6 464.8h1M559.3 444.6h1M490.6 495.6h1M479.3 506.6h1M509.8 485.5h1M541.8 386.8h1M521.8 527.4h1M613.3 546.4h1M542.2 484h1M535 567.5h1M558.8 456.5h1M597.9 512.9h1M596.1 551.7h1M530.8 444.4h1M542.8 391h1M582.2 550.5h1M540.4 372.1h1M509.7 535.1h1M602.6 397h1M549.1 555.6h1M480.3 420.3h1M592.4 508h1M484.5 501h1M511.8 490.6h1M530.9 543.7h1M554 497.5h1M519.3 522.4h1M501.3 450.9h1M585.2 417.6h1M561 372.7h1M582.3 496.4h1M555 544.9h1M486.3 527.5h1M552.8 554.2h1M547.7 474.8h1M509.4 547.3h1M573.3 484.4h1M520.8 502.8h1M562.3 463.4h1M539 467.5h1M501.5 531.5h1M592.3 455h1M538.2 525.9h1M485.2 501.2h1M563.8 469.7h1M549.2 557.1h1M608.5 506.1h1M589.3 504.3h1M577.3 403.8h1M518.3 449.9h1M514.1 467.5h1M489.4 480.2h1M505.9 517h1M514 428.7h1M560.1 457.4h1M512.2 435.8h1M520.5 519.6h1M522.6 549.4h1M614.4 462.7h1M489.7 481.6h1M528.2 442.1h1M553 517.8h1M481.8 487.6h1M555 497.7h1M536.4 456.9h1M507.3 560.3h1M581.7 526.7h1M607.2 481.1h1M536.1 424.9h1M511.4 564.5h1M555.3 510.4h1M504.2 505.4h1M623.5 527.6h1M498.1 490.7h1M509.4 483.1h1M557.6 495.5h1M481.5 436.6h1M541.4 514h1M542.8 503h1M524.2 479h1M505.6 366.1h1M509.9 417.8h1M581.1 541.5h1M568.1 503.6h1M565.4 429.6h1M493.2 469.8h1M550.8 534.2h1M554.2 539.8h1M605.2 492.5h1M566.1 459.7h1M570.9 421.1h1M524.9 547.1h1M509.1 520.7h1M552.4 499.9h1M603.2 519.1h1M516.2 558.6h1M510.1 498.1h1M558.4 398.8h1M524.5 471.8h1M491.6 495.9h1M585.3 394.4h1M491.1 493.5h1M597.1 437.9h1M531.7 532h1M507.8 442.5h1M493.3 547.9h1M583.6 456.2h1M545.9 461.6h1M484.7 362.7h1M553.6 521h1M569.1 536.8h1M513.7 494.2h1M531.1 507.7h1M487.5 534.9h1M583.3 504.5h1M514.5 525.3h1M568.8 519.4h1M520.3 516.8h1M502.2 523.1h1M595.6 525.9h1M557.8 511.8h1M585.4 475.9h1M544.4 505.8h1M492.6 547.9h1M549 494.6h1M522.2 514.4h1M536.5 488.1h1M508.8 493.5h1M509.9 519.6h1M502.8 455.3h1M496.8 396.9h1M530.7 381.1h1M522.5 368.2h1M595.6 470.9h1M595.3 507.3h1M635.6 472.9h1M578 475.4h1M617.6 420h1M655.4 470.7h1M662.5 369.6h1M588.2 448.1h1M609.1 449.4h1M578.6 462.2h1M620.7 498.6h1M605.4 425.1h1M645.8 365.6h1M609.4 564.3h1M587.8 548.1h1M622.9 447h1M641.3 458.5h1M672.5 513.3h1M572.8 417.6h1M588.1 441.4h1M638.1 432.8h1M590.8 417.9h1M580.8 531.9h1M611.1 554.4h1M666.3 442.3h1M656 437h1M631.5 494.9h1M576.4 544.1h1M606 412.4h1M669.2 462.5h1M611.7 412.8h1M580.9 488.2h1M607 431.2h1M649 516.9h1M657.7 442h1M621.9 470.8h1M587.7 503.3h1M669.4 441.9h1M633.1 423.1h1M644.9 441.3h1M576.2 468.9h1M583.5 535.3h1M619.5 450h1M668.9 425.1h1M649.8 398.4h1M615.8 475.7h1M663.9 517h1M619.2 526.5h1M608.6 509.8h1M584.9 419.1h1M586.8 555.3h1M653.2 509.1h1M629.4 402.7h1M574.9 541.2h1M622.8 470.1h1M570.4 380.9h1M578.2 477.2h1M622.8 489.9h1M668.4 526.6h1M572.7 407.5h1M595.3 469.8h1M625.4 446.6h1M591.9 516.9h1M591.1 444h1M629.2 457.9h1M577.7 459.9h1M606.9 454.4h1M616.7 381.2h1M655 517.4h1M651.6 489h1M623.6 544.2h1M667.7 531.4h1M653.8 503.1h1M604.1 488.7h1M591.9 372.1h1M649.8 463.7h1M634.4 420.8h1M656.6 515.3h1M643.9 423.2h1M646.2 527.5h1M635 393.5h1M619.6 426.8h1M590.3 479.7h1M639.8 495.4h1M581.3 471h1M639.7 435.3h1M570.3 526.1h1M649.1 499.7h1M626.2 405.1h1M644.8 480.1h1M620.5 414.3h1M630.6 486.1h1M570.2 541.6h1M656.6 401.7h1M625.8 530.2h1M611.5 533.5h1M617.4 393.7h1M663 432.4h1M573.1 478.1h1M634.4 482.7h1M598.8 557.3h1M638.4 457.4h1M666.8 401.8h1M574.3 489.4h1M572.8 551.2h1M624.3 436h1M579.4 480.2h1M585.2 392.6h1M591.3 501.9h1M622.2 461.4h1M669.3 516.2h1M580.9 406.9h1M635.2 452.5h1M580.9 380.8h1M669.6 450h1M650.5 511.3h1M656.6 491.7h1M627.1 464.5h1M670.5 477.2h1M640 500.3h1M670.8 541.9h1M623 440.4h1M573.8 450.3h1M628.2 513.3h1M617.7 429.7h1M600.1 462.9h1M658.9 457h1M663.4 423.6h1M642.2 425.2h1M594 382.8h1M636 486.6h1M578.8 435.5h1M643.8 422.8h1M652.5 541.8h1M628 400.4h1M570.1 408.2h1M651 447.6h1M590.1 499.9h1M607.7 487.4h1M575 458.1h1M659.5 470.3h1M662.1 439h1M614.2 395.7h1M641.3 469.2h1M613.4 511.7h1M655.5 454.2h1M610.4 514.7h1M613.5 433.2h1M654.8 472.9h1M608.2 437.9h1M629.9 529.2h1M605.6 531.5h1M671.9 538h1M621.4 466h1M624.6 386.9h1M599 479.8h1M659.9 516.2h1M663.3 454.4h1M615.8 553.7h1M576.4 463.7h1M631.1 461.3h1M630.5 474.6h1M656.2 464h1M588.1 486.2h1M659.5 489.3h1M582.4 514.6h1M615.2 460.4h1M575.7 390.6h1M591.5 484.1h1M632.7 461.9h1M611.7 433.2h1M591.3 422h1M621.4 464h1M595 539.1h1M618.6 529.9h1M638.4 540.7h1M652.4 466.4h1M649.8 480.7h1M639.8 365.3h1M647.3 454.6h1M626.8 468.2h1M570.9 517.1h1M646.5 481h1M585.2 491.5h1M617.9 564.7h1M585.7 415.3h1M629.8 435.5h1M602.5 506.9h1M662.8 484.6h1M637.2 482h1M576.6 557.3h1M612.8 485.1h1M589.3 506.3h1M626.9 445.3h1M624.1 476.9h1M647.4 506.6h1M626 485.9h1M587.9 495.4h1M571.1 532.4h1M623.3 497.1h1M589.5 469.2h1M590.8 514h1M603.8 555h1M667.7 485.6h1M659.4 475h1M658.5 453.9h1M625.7 457.8h1M574.5 434.4h1M591.5 469.5h1M653.1 456.3h1M659.8 371.5h1M627.3 458h1M652.8 415.3h1M664.9 446.9h1M664 438.9h1M621.7 553h1M635.6 420.8h1M629.7 532.5h1M576.8 508.8h1M640.4 458.1h1M607.2 497.5h1M584.7 517.1h1M631 413.5h1M627.4 533h1M623.3 484.2h1M596 396.7h1M623 444.4h1M570.6 460.1h1M587.9 519.3h1M597.8 430.3h1M619.7 480.6h1M580.7 439.7h1M646.6 452.5h1M595.8 445h1M641.5 456.1h1M632.7 432h1M598.5 420.3h1M626.7 424.9h1M591.2 544.3h1M666 477.2h1M621.5 475.3h1M594.1 480h1M623.8 452h1M646.2 375.1h1M616.7 435.8h1M658.4 554.2h1M585.2 410.6h1M638.1 474.9h1M663.6 452.6h1M594.5 510.8h1M594.5 466.1h1M607.5 401.5h1M583.4 474.9h1M576 470.1h1M662 532.6h1M639.9 556.1h1M621.4 401.3h1M579.5 466.5h1M666 553.9h1M613.2 367.2h1" stroke="#ff5a0a" stroke-width="1.0" stroke-opacity="0.75" fill="none"/>
</g>
<g clip-path="url(#clipe)">
<path d="M165 852h1M200.6 804.2h1M145.1 832h1M153 760.5h1M140 876.8h1M145.7 826.8h1M141.2 790.5h1M201.6 689.7h1M241.8 793.3h1M187 789.2h1M216.6 881.8h1M131.4 719.9h1M161.7 778.3h1M194.8 769.6h1M200 815h1M175 849.4h1M203.4 820.8h1M193.3 793.1h1M198 690.4h1M214.1 855.1h1M211.9 829.2h1M141.6 758.9h1M234.8 836.5h1M160.4 786.7h1M172.6 820.1h1M163.6 825.1h1M173.8 833.5h1M124.6 787h1M189.3 785.8h1M223.9 853.1h1M169.9 814.1h1M208.5 768.3h1M142.7 828.4h1M158.4 758.1h1M137.5 782.3h1M147.7 791.2h1M247.9 812.8h1M156 829.4h1M170.9 867.8h1M233.1 686.7h1M141.3 855.2h1M152.3 684.8h1M164.4 799.4h1M133.4 785.5h1M173.5 810.8h1M206.9 870.7h1M189.6 831.9h1M246.9 827.7h1M160.9 800.2h1M171.5 683.9h1M142.1 796.9h1M228.1 691.6h1M195.3 837.8h1M177.7 808.7h1M178.3 793h1M171.7 830.6h1M217.4 779.8h1M208.3 748.6h1M174.9 820.8h1M231.4 792.3h1M186 802.2h1M237 765.6h1M170.9 703.1h1M175.9 802.1h1M167.1 736.6h1M136.4 778.8h1M165.4 801h1M112.4 761.3h1M130.7 840.1h1M242 858.3h1M194.2 863.6h1M113 776.7h1M167.4 768.4h1M184.2 786.8h1M177.3 833.9h1M151.8 830.3h1M242.1 764.2h1M141 801h1M176.7 853.7h1M243 768.8h1M183.9 825.5h1M132.2 825h1M141.8 771h1M134.6 768.9h1M150.6 794.2h1M162.1 786.2h1M215.2 788h1M131.2 710.2h1M152.5 844.7h1M240.3 797.6h1M165.2 792.7h1M199.1 867.4h1M163.7 842.9h1M169.5 871.7h1M179.4 734h1M170.7 770.4h1M157.7 841.5h1M127.4 818.3h1M129 784.3h1M224.1 817h1M245.6 738.7h1M164.4 794.6h1M192.6 796.4h1M220.3 792.7h1M201 774.7h1M205.5 683.3h1M166.6 772.1h1M158.3 829.2h1M180.9 828.1h1M174 773h1M165.7 709.5h1M155.7 746.5h1M176.9 793.9h1M236.4 789.6h1M149.9 829.1h1M134.3 840.8h1M124.2 701.3h1M147.9 768.4h1M237.7 793.4h1M168.4 865.8h1M238.6 779.6h1M202.5 701.2h1M210.7 798.1h1M172.7 850.9h1M128.3 824.7h1M203.8 739.5h1M166.7 787.1h1M161.5 804.5h1M172.6 816.1h1M169 682h1M152.4 821h1M193.8 730.9h1M161 826.1h1M204.5 850.7h1M181.2 766.1h1M161.8 794.1h1M133.4 700.3h1M145.6 801.1h1M225.8 688.2h1M180 772.8h1M219 756.7h1M121.9 778.3h1M168.8 690.7h1M169.2 794.7h1M142.1 769.9h1M191.5 754h1M202.2 731.3h1M194.6 785.2h1M154.5 803.8h1M195.2 845.8h1M199.2 773.3h1M200.5 758.4h1M156.2 784.2h1M149.4 812h1M202.9 801.5h1M144.8 827.4h1M231.9 762.6h1M179.1 777.7h1M176.2 801.3h1M175.4 799.3h1M173.9 840.6h1M129.4 685.6h1M225.9 792.8h1M156.9 831.3h1M169.8 792h1M178 805.2h1M142.8 753.1h1M203.8 807.9h1M157.8 833.9h1M155.6 852.4h1M206.8 776.1h1M213.3 675.3h1M184.8 762h1M118.4 841.2h1M145.3 783.9h1M167.7 804.2h1M153.4 780.4h1M121.9 745.4h1M215.7 765.9h1M114.9 777.1h1M155.8 863.9h1M201.6 801.8h1M173.5 856.9h1M164.4 814.8h1M151.5 679.7h1M158.8 846.8h1M196.6 814.3h1M145.4 846.5h1M191.6 834.5h1M174.7 780.4h1M134.3 802.3h1M144.8 838.6h1M171.7 810.7h1M160.3 808.5h1M198.6 767.7h1M178.7 806.5h1M184.4 815.5h1M214.5 771.8h1M123.6 812.5h1M191.1 822.2h1M143.1 768.5h1M178.1 841.5h1M133.4 824.7h1M175.6 768.1h1M206.5 730.3h1M198 766.2h1M181.2 798h1M150.8 802.4h1M122.6 819.4h1M174.3 794.9h1M196.9 815.6h1M178.2 827.8h1M186.8 813.1h1M173.6 785.8h1M149.2 818.3h1M163.5 794.8h1M204.6 806.1h1M131.3 762.1h1M141.6 818.8h1M178.8 831.5h1M212.9 818.4h1M158.2 790.3h1M199.5 856.6h1M177.6 783.5h1M139 733.2h1M159.6 863.8h1M174.5 835.9h1M163 784.3h1M138.2 753.6h1M169.4 839.7h1M144 759.8h1M215.2 745.1h1M150.8 854.7h1M187.7 688.4h1M169.1 806h1M134.9 789.9h1M164.4 848.2h1M176.9 806.1h1M148.8 828.6h1M125.2 822h1M198.6 781.6h1M127 861.9h1M184.5 764.7h1M173.7 844.2h1M177.7 790.9h1M174.9 683.9h1M167.6 798.1h1M146.8 807.9h1M214.8 796.8h1M144.9 855h1M156.3 846.4h1M158.7 822.4h1M224.4 807.6h1M177.6 808.9h1M132.3 819.7h1M178.8 772.1h1M166.3 847.7h1M183.8 790.1h1M194.9 808.4h1M204.7 777.5h1M150.1 761.2h1M236.8 766.3h1M146 803.8h1M150.9 700.7h1M174.5 856.7h1M168.6 846.2h1M160.9 808h1M238.9 776.2h1M207.3 781.2h1M162 723.7h1M157.9 819.3h1M245.9 849.9h1M197.1 725.6h1M130.5 791.8h1M222.9 719.2h1M148.9 825.7h1M135 801.5h1M184.5 769.8h1M155.1 802.2h1M162 870.8h1M138.1 761h1M161 780.9h1M185.2 863.9h1M213.2 676.3h1M148.9 799.7h1M163.7 851.2h1M167.1 824.8h1M128.2 828.3h1M153 832h1M154.8 856.8h1M141.6 783.9h1M153.1 833.7h1M168.6 728.5h1M184.5 802.6h1M138.1 740.2h1M159 811.1h1M186.3 735.2h1M117.4 791.1h1M221.6 699.7h1M132.9 766.8h1M154.5 718.9h1M220.5 737.9h1M184.6 800.6h1M126.7 842h1M197.9 762.6h1M203.6 775.9h1M202.3 777.7h1M162.3 767.2h1M162.1 828.5h1M144.4 854.4h1M169.5 830.2h1M118.5 754.5h1M222.9 776.7h1M141.9 807.3h1M225.7 779.2h1M135 819h1M156.7 682.2h1M198 807.5h1M173.3 859.9h1M154.7 768.8h1M145.7 828.8h1M184 828.8h1M163.5 804h1M170.3 740.7h1M171.1 801.8h1M186.2 829.4h1M214.7 777.6h1M153 864.2h1M182.5 814h1M182.9 814.9h1M123.4 706.5h1M184.7 818.5h1M177.4 750.1h1M146.4 840.7h1M211.4 786.3h1M162.4 729.1h1M175.9 864.2h1M113.3 826.9h1M160.7 776.2h1M224.6 723h1M196.3 799.9h1M207 769.2h1M163.3 861.7h1M168.3 778.7h1M175.2 835.2h1M151.9 766.2h1M172 799.8h1M193.5 776.7h1M182.2 790.8h1M204.9 757.6h1M124.1 772.2h1M145.5 831.3h1M156.8 766.7h1M209.7 785h1M156.8 831.6h1M114.2 727.9h1M185.6 801.2h1M179.3 875h1M154.2 834.8h1M194 779.9h1M141.6 759h1M153.2 800.4h1M214.6 742.6h1M152.6 855.6h1M126 715.3h1M169.1 855.3h1M165.4 864.1h1M199.5 788.3h1M183.4 818.1h1M214.9 782.9h1M151.5 761.9h1M148.8 806.6h1M163.4 842.6h1M112.3 787.8h1M189.7 848.8h1M162.4 836.3h1M164.2 818.5h1M128.4 698.1h1M173.6 826.4h1M144.9 840.1h1M153.4 865.9h1M178.9 806.8h1M197.7 861.8h1M160.1 802.8h1M213 751.1h1M164.6 830.4h1M174.1 833.9h1M151.5 778.2h1M161.2 866.9h1M188.1 816.3h1M151.8 765.5h1M157.7 803h1M145.4 731.1h1M236.9 775.2h1M224.5 773.7h1M209.7 761.1h1M205.3 701.7h1M178.6 855.7h1M192.2 775.7h1M146.6 776.7h1M180.3 779.7h1M226.1 724.4h1M170.3 809.5h1M183.9 825.2h1M160.9 755h1M167.2 773.1h1M172.9 694.9h1M162.6 807.5h1M170.6 791.4h1M144.7 820.5h1M185.6 784.3h1M137.1 829.2h1M175.4 875.7h1M139.4 772.5h1M160.2 744.3h1M204.3 789.5h1M157.6 800.4h1M176.7 834.5h1M196.5 771.7h1M214.5 777h1" stroke="#0a0aff" stroke-width="1.0" stroke-opacity="0.85" fill="none"/>
<path d="M155.8 814.1h1M155.1 874.2h1M154.6 812.7h1M226.1 802.5h1M168.9 809.6h1M230.9 783.6h1M239.1 781.6h1M201.5 862.8h1M188.9 811.7h1M180.7 858.6h1M165.3 723.5h1M131.7 752.7h1M237.3 814.9h1M198.6 786.5h1M232.1 811.7h1M137.7 808.1h1M171.6 810.1h1M185.2 825.9h1M221.1 808.5h1M142.4 779.4h1M179 814.4h1M205.9 820.6h1M165.6 830.9h1M206.7 803.5h1M174.8 785.2h1M227.3 815.7h1M220.7 858.2h1M200.7 825.4h1M232.1 830.8h1M180.5 862.4h1M196.1 788.8h1M243.3 782.3h1M210.3 826.4h1M143.2 883.9h1M219.1 844.5h1M148 795.7h1M152.1 868.6h1M141.9 878.9h1M158.2 823.8h1M192.7 789.6h1M155 825h1M145.4 802.3h1M240.9 700.1h1M146.2 838h1M139.1 849.7h1M220.2 798.6h1M203.1 752.1h1M159.3 857.6h1M130.9 831.3h1M165.6 696.3h1M179.1 821.3h1M185.7 878.4h1M212.7 838.5h1M180.1 830.7h1M200 823.4h1" stroke="#ff5a0a" stroke-width="1.0" stroke-opacity="0.75" fill="none"/>
</g>
<g clip-path="url(#clipf)">
<path d="M559.3 750h1M504.3 862.2h1M484.2 829.8h1M524.6 802.7h1M498.8 759.3h1M551.8 795.7h1M515.3 840.3h1M531.9 828h1M504.9 851.4h1M507.7 821.8h1M488.7 696.6h1M499.8 822.3h1M513.7 756.6h1M508.7 793.3h1M496.1 835.6h1M493.6 738.7h1M502.1 709.2h1M552.8 735.1h1M491 763.6h1M543.1 771.6h1M522.1 845.7h1M556.6 843.1h1M524.2 697.6h1M517.2 726.8h1M513.7 832.1h1M537.1 735.2h1M507.1 780.3h1M558.7 776.7h1M527.4 772.9h1M545.1 813.2h1M556.9 738.2h1M546.3 826.1h1M526.3 874.9h1M498.1 714h1M540.2 808h1M521.9 878.5h1M529.1 843.5h1M481.7 724.4h1M548.2 832.4h1M489.6 858.6h1M520.2 771.7h1M493.3 748.7h1M486.1 813.5h1M486.8 817.7h1M522 742.8h1M485.5 717.3h1M484.4 762.3h1M481.2 684.6h1M507.7 782.1h1M536.4 834.8h1M502.5 755.6h1M497.3 826.8h1M514.9 722.8h1M500.8 813.5h1M545.9 760.3h1M489.8 781.8h1M546.3 751.5h1M493.8 853.4h1M506.7 694h1M517.2 748.3h1M497.8 814.8h1M517.1 709.4h1M501.6 755.8h1M513.5 730.2h1M502 779.9h1M487.6 701.8h1M510.7 701.6h1M541.3 801.5h1M532 780.4h1M499.2 843.3h1M500.1 745.3h1M488.7 740.4h1M548.4 802.7h1M500.2 696.4h1M553.5 739.9h1M485 766.2h1M481.8 753.9h1M505.3 784.7h1M507.8 709.5h1M486.7 715.8h1M519.7 708h1M520.4 715.8h1M544.3 755.8h1M504.7 833.8h1M485.8 762.5h1M495.9 775.6h1M493.3 775.5h1M490.9 786.6h1M488.9 692.2h1M544.2 719.8h1M511.8 838.2h1M483.8 746.6h1M552.4 755.6h1M513.8 778.4h1M558 738.7h1M528.7 805.2h1M523.7 750.6h1M541.6 787.4h1M549.8 833.2h1M520.1 700.1h1M536.5 742.8h1M550.2 769.4h1M505.7 688.1h1M521.3 718.1h1M512.5 734.2h1M513.2 684h1M499.9 742.9h1M481.6 818.6h1M506 690.4h1M513.2 730.8h1M548.4 730.4h1M536.9 781.9h1M544.9 734.4h1M515.9 734.2h1M519.1 764.5h1M491.5 678.1h1M519.2 819.3h1M496.8 737.9h1M489 828.1h1M489.6 716.3h1M523.6 749.4h1M482.8 770.8h1M498.3 725h1M526.4 719.5h1M528.9 774.5h1M490.8 707.3h1M504.7 752.5h1M490.5 697.6h1M481.9 797h1M536.4 733.4h1M484.7 749h1M553.4 753.9h1M547.1 751.3h1M480.1 804.8h1M505.6 750.5h1M526.2 780.3h1M490.1 772.8h1M543.6 709.7h1M516.2 740h1M481.4 682.7h1M546 761.7h1M534.3 776.7h1M506.2 794.3h1M510 743.5h1M535.2 817.6h1M517.7 687.6h1M541.2 700.9h1M511.5 742.7h1M504.6 740.1h1M516.4 693.1h1M479.5 862.9h1M550.8 741.3h1M501.5 759.5h1M495 810h1M498.3 820.3h1M535.4 681.4h1M493.9 794.6h1M571.8 785h1M510.2 719.8h1M491.4 864.1h1M515.5 695.5h1M538.2 743.2h1M497.8 731.1h1M486.7 791.1h1M533 786h1M488.9 743h1M486.3 849.7h1M492.5 785.8h1M507.9 681.6h1M482.6 743.9h1M537 726.9h1M587.2 731.7h1M556.3 722.4h1M563.9 741.2h1M525.3 801.5h1M545.9 768.3h1M530.4 776h1M525.9 713.7h1M500.2 720.2h1M541.7 860.8h1M572.7 823.9h1M488.1 712.5h1M534.1 762.2h1M503.1 744h1M494.4 756h1M503.6 701.4h1M510.7 819.4h1M490.6 720.5h1M559.4 721.3h1M538.6 767.3h1M522.2 760.9h1M484 801.8h1M488.3 829.9h1M554.4 761.3h1M549.1 763.9h1M497.5 772.3h1M551 782.4h1M512.2 874.3h1M525 693.5h1M532.3 758h1M505.9 761.1h1M512.3 687.4h1M500.7 714.7h1M516.5 848h1M504.1 766h1M478.5 824.6h1M498.1 735.4h1M541.1 741.4h1M510.5 813.4h1M537.7 848h1M565.9 760.3h1M542.3 704.6h1M558.9 758.6h1M482.8 820.7h1M507.1 711.8h1M555.4 797.1h1M510.5 692.7h1M503 734.1h1M547.1 850.9h1M507.5 859.9h1M495.6 729.9h1M551.9 694.9h1M503.2 823h1M503.4 785.1h1M481.5 789.4h1M586.6 812.4h1M499 808.6h1M506.7 769.4h1M481 772.1h1M491.6 714.8h1M514.3 806.5h1M508.4 787h1M485.7 718.5h1M514.6 839.2h1M495.3 796h1M554.5 698.7h1M504.4 751.5h1M515 721.5h1M525.8 774.8h1M525.4 810.9h1M489.2 796.4h1M502.1 698.6h1M512.2 830h1M499.5 807.5h1M533.6 777.3h1M542.1 719.8h1M565.6 845.3h1M541.7 841.2h1M518.3 743.4h1M546.3 783.7h1M490.5 775.3h1M515.5 835.9h1M492.1 825.9h1M538.7 681.4h1M551.7 726.8h1M482.7 696.1h1M545.7 696.1h1M539 796.2h1M534.8 791.5h1M499.6 740.3h1M505 825.8h1M487.7 694.4h1M487.1 725.4h1M516.7 852.3h1M557.1 752.7h1M522.1 681.8h1M499.8 728.7h1M545.6 711h1M522.6 728.8h1M499.1 702.3h1M549.3 775.2h1M509.6 735.9h1M549.8 726.7h1M538.3 755.5h1M504.9 816.4h1M525.1 697.3h1M500.2 770.3h1M515.3 829.9h1M512 781h1M502.4 769.2h1M493 707.4h1M504.4 838.1h1M541.8 763h1M539 745.2h1M539.3 794.7h1M493.6 815h1M507.4 710.5h1M492.9 730.7h1M534.3 713.1h1M528.2 764.9h1M518.9 704.6h1M484.9 775.6h1M488.8 700.8h1M482.2 739.7h1M489.8 794.6h1M507.3 740.4h1M532.3 784.2h1M535.7 682.8h1M504.4 785.4h1M574.3 735.2h1M524.9 711.8h1M502.4 836.6h1M526.6 692.1h1M562.1 714.4h1M531.9 785.7h1M496.5 780.6h1M538.6 755h1M512.6 800.5h1M503.8 801.7h1M540.6 698h1M505.5 694.4h1M479.1 738.8h1M483.6 784.9h1M509.8 833.7h1M511.5 780.9h1M491.3 696.9h1M519 695.4h1M523.1 707.6h1M489.8 695.7h1M496.1 740.8h1M537.2 805.7h1M495 699.3h1M512.3 783.5h1M520.3 755h1M544.7 789h1M493 719.5h1M521.1 735.4h1M530.7 706.1h1M479 717.6h1M549.4 766.7h1M491.6 791.4h1M532.5 755.3h1M516.5 692.6h1M606.9 830.7h1M486.2 748.5h1M488.4 699.7h1M515 776.1h1M504.1 856.6h1M505.1 806.1h1M518.5 766.8h1M517.3 826h1M539.6 741.9h1M533 734.8h1M520 687.6h1M488.8 732.6h1M539.5 769.1h1M553.5 802.8h1M545.5 743.1h1M531.7 696.3h1M507.7 763.3h1M511.2 798.5h1M525.2 686.3h1M516.8 798.5h1M541.7 746h1M486.4 768.9h1M542.2 840.2h1M505.5 825.6h1M513.5 695h1M539.1 833.6h1M542.8 832.3h1M573.8 725.9h1M524.2 742.4h1M540 696.3h1M546.7 722.1h1M534.4 731.2h1M507.7 775.2h1M560 774.3h1M549.2 737.7h1M482.7 729h1M502.4 749.8h1M528.7 715.7h1M505.4 743.6h1M515 846.5h1M489.5 700.5h1M523.9 829.1h1M502.7 771.4h1M566.3 729.4h1M567.1 730.7h1M525.9 830h1M494 795.1h1M508.8 751h1M573 681h1M485.4 783.6h1M541.7 862.4h1M520 852.1h1M502.3 714.5h1M485.5 744h1M486.6 752.3h1M558 714h1M533 765.9h1M537.8 751.5h1M484.5 697.7h1M598.6 705.3h1M504.4 731.9h1M544 776h1M512.2 848h1M527.8 734.3h1M547 732.2h1M521 756h1M528.4 719.2h1M498.3 733.4h1M513.7 790h1M558.6 750h1M491.5 804.1h1M538.5 820.3h1M485.5 681.6h1M592.6 811.6h1M559 778h1M483.9 758.7h1M511.6 689.9h1M508.9 703.9h1M521.7 849.7h1M538.2 726.9h1M503 782h1M601.9 751.5h1M480.2 767.9h1M525.7 778h1M482 754.5h1M481.1 754.9h1M542 687.1h1M522.6 696.4h1M544.6 733.7h1M502 730.3h1M490.4 781.7h1M489.8 820.8h1M494.2 779.9h1M514.9 827.5h1M500.2 749.7h1M504.7 743.2h1M506.6 708.4h1M545.8 746.6h1M495.2 699.6h1M487.6 714.6h1M522.4 699.1h1M494.2 809.9h1M498.6 764.1h1M553.8 856.6h1M543.2 766.9h1M499 740.4h1M533.5 752h1M533.4 696.4h1M507.6 775.4h1M527.1 746.1h1M486.2 741.6h1M500.5 743.6h1M543.6 846.5h1M528.1 769.3h1M528.7 751.4h1M527.8 738.5h1M500.9 785h1M524.3 730.3h1M511.8 792.8h1M508.7 823.1h1M537 821.4h1M487.5 848.5h1M482.3 740h1M499.4 783.5h1M483.1 689.1h1M550.8 868.9h1M531.6 814.3h1M574.1 799.3h1M501.4 783.8h1M570.3 782.4h1M584.2 757.7h1M537.8 810.4h1M537.5 718.3h1M570.2 739.6h1M478 799.1h1M516.4 808.2h1M529.3 718.4h1M519.6 835.5h1M484 704.2h1M484.8 730.2h1M481.1 769.3h1M491.8 758.7h1M505.8 696.1h1M558.3 743.2h1M484 786.7h1M549.3 779h1M543.5 701.3h1M509 850.7h1M514.5 686.4h1M525.3 834.9h1M543.1 706.9h1M493 778.6h1M505.6 733.3h1M492.4 743.3h1M525.5 760.5h1M490 838h1M499.2 728.3h1M509.4 722.4h1M495.3 768.5h1M525 710h1M540.9 711h1M492.2 780.2h1M560.5 701.3h1M491.6 789.3h1M485.5 702.4h1M573.4 731.9h1M522.5 785.9h1M494 777.4h1M508.1 817.7h1M523 840.4h1M528.1 864.4h1M547.3 708h1M524.8 757.3h1M480.4 773.2h1M478 749.9h1M553.2 761.2h1M526 718.9h1M527.7 834.1h1M483.8 788.6h1M501.8 702.2h1M503.9 741.1h1M520.1 735.5h1M548.5 822.8h1M513.1 798.2h1M499 720.5h1M526.4 788.2h1M512.2 763h1M510.8 788h1M487.3 864.7h1M519.7 773.8h1M546.7 691.2h1M511 680h1M517.6 681.1h1M492.1 794.1h1M508.6 733.8h1M502.3 760.4h1M516.8 799.2h1M517.8 765.2h1M515.9 789.1h1M487.1 743.5h1M497.3 784h1M491.5 732.9h1M514.3 722.3h1M526.7 827.8h1M484.8 737.4h1M484.2 695.8h1M557.9 824h1M518.7 755.1h1M555.8 753.5h1M505.5 727.3h1M497.8 733.7h1M510.3 820.6h1M549.1 727.8h1M551.8 690.3h1M531.8 740.2h1M496 795.9h1M485.6 697.9h1M489.5 797.6h1M594.9 697.5h1M536.5 777.5h1M515.5 718.5h1M533.6 808.5h1M483 705.5h1M571.5 736.2h1M511.7 674.3h1M501.1 736.4h1M520.1 772.5h1" stroke="#0a0aff" stroke-width="1.0" stroke-opacity="0.85" fill="none"/>
<path d="M567.3 857.4h1M527.7 826.5h1M547.7 866.8h1M576.3 789h1M564.9 822.5h1M529.7 802.8h1M559.7 782.9h1M483.9 798.7h1M556.4 844.3h1M520.5 840.1h1M513.3 773.9h1M506.1 795h1M517.2 771.6h1M534.9 743.2h1M574.2 876.3h1M538 824h1M501.1 850h1M489.8 826.9h1M567.4 792.7h1M566.8 806h1M562.9 817.1h1M556.1 838.4h1M498.1 738h1M488 788.3h1M504.3 787h1M538.4 822.5h1M501.1 800.2h1M486.6 771.9h1M499.2 772.5h1M558.7 678.8h1M574.5 789.5h1M496.5 840.3h1M565.5 842.3h1M572.6 785.2h1M531.4 793.7h1M568.6 809.2h1M571.3 814.1h1M486 853.7h1M565.7 811.3h1M563.7 870.4h1M548.7 724.8h1M501.9 819.2h1M525 843.7h1M489.5 753.2h1M548.4 701.7h1M524.7 822.9h1M532.4 719.3h1M487.9 788.7h1M557.9 872.6h1M541.8 877.8h1M528.3 775.2h1M538.3 753.3h1M566.2 703.8h1M537.9 802.7h1M539.9 823.2h1M570 797.3h1M504.9 859.3h1M567.5 841.7h1M560.9 867.4h1M529.1 801.8h1M542.3 839.1h1M515.9 853.4h1M517 828h1M550.1 830.2h1M506.5 813.4h1M562.4 777.5h1M527.3 767.7h1M566.9 814.5h1M554.8 874.2h1M548.5 683.2h1M499.9 831.5h1M486.2 814.3h1M488.5 721.8h1M575.4 858.3h1M563.5 803.7h1M518.3 861.9h1M495.5 768.9h1M517.7 859.6h1M517.2 824.9h1M576.7 815.5h1" stroke="#ff5a0a" stroke-width="1.0" stroke-opacity="0.75" fill="none"/>
</g>
<path d="M79.0 271.4H79.0V45.5H309.2V271.4M73.0 265.4H309.2M73.0 45.5H79.0M73.0 67.6H79.0M73.0 118.8H79.0M73.0 140.9H79.0M73.0 192.1H79.0M73.0 214.2H79.0M125.0 265.4V271.4M171.1 265.4V271.4M217.1 265.4V271.4M263.2 265.4V271.4" stroke="#1e1e1e" stroke-width="1.3" fill="none"/>
<path d="M444.6 272.3H444.6V46.4H674.4V272.3M438.6 266.3H674.4M438.6 46.4H444.6M438.6 68.5H444.6M438.6 119.7H444.6M438.6 141.8H444.6M438.6 193.0H444.6M438.6 215.1H444.6M490.6 266.3V272.3M536.5 266.3V272.3M582.5 266.3V272.3M628.4 266.3V272.3" stroke="#1e1e1e" stroke-width="1.3" fill="none"/>
<path d="M79.6 580.8H79.6V355.8H308.9V580.8M73.6 574.8H308.9M73.6 355.8H79.6M73.6 377.8H79.6M73.6 428.8H79.6M73.6 450.8H79.6M73.6 501.8H79.6M73.6 523.8H79.6M125.5 574.8V580.8M171.3 574.8V580.8M217.2 574.8V580.8M263.0 574.8V580.8" stroke="#1e1e1e" stroke-width="1.3" fill="none"/>
<path d="M443.8 582.9H443.8V357.5H673.5V582.9M437.8 576.9H673.5M437.8 357.5H443.8M437.8 379.5H443.8M437.8 430.6H443.8M437.8 452.6H443.8M437.8 503.8H443.8M437.8 525.8H443.8M489.7 576.9V582.9M535.7 576.9V582.9M581.6 576.9V582.9M627.6 576.9V582.9" stroke="#1e1e1e" stroke-width="1.3" fill="none"/>
<path d="M78.2 897.4H78.2V671.7H308.0V897.4M72.2 891.4H308.0M72.2 671.7H78.2M72.2 693.7H78.2M72.2 744.9H78.2M72.2 767.0H78.2M72.2 818.2H78.2M72.2 840.2H78.2M124.2 891.4V897.4M170.1 891.4V897.4M216.1 891.4V897.4M262.0 891.4V897.4" stroke="#1e1e1e" stroke-width="1.3" fill="none"/>
<path d="M444.5 896.9H444.5V671.5H673.6V896.9M438.5 890.9H673.6M438.5 671.5H444.5M438.5 693.5H444.5M438.5 744.6H444.5M438.5 766.6H444.5M438.5 817.8H444.5M438.5 839.8H444.5M490.3 890.9V896.9M536.1 890.9V896.9M582.0 890.9V896.9M627.8 890.9V896.9" stroke="#1e1e1e" stroke-width="1.3" fill="none"/>
<g clip-path="url(#clipa)">
<path d="M113.5 246.6L240.0 177.2" stroke="#0a0aff" stroke-width="1.6" fill="none"/>
<path d="M113.5 245.2L240.0 166.7" stroke="#ff5a0a" stroke-width="1.6" fill="none"/>
<circle cx="125.0" cy="235.2" r="3.2" fill="#0a0aff"/>
<circle cx="148.1" cy="231.1" r="3.2" fill="#0a0aff"/>
<circle cx="171.1" cy="222.8" r="3.2" fill="#0a0aff"/>
<circle cx="194.1" cy="205.8" r="3.2" fill="#0a0aff"/>
<circle cx="217.1" cy="190.5" r="3.2" fill="#0a0aff"/>
<path d="M240.1 171.0V178.0M237.2 171.0h5.8M237.2 178.0h5.8" stroke="#0a0aff" stroke-width="1.5" fill="none"/><circle cx="240.1" cy="174.6" r="3.2" fill="#0a0aff"/>
<path d="M263.2 169.9V184.2M260.3 169.9h5.8M260.3 184.2h5.8" stroke="#0a0aff" stroke-width="1.5" fill="none"/><circle cx="263.2" cy="176.0" r="3.2" fill="#0a0aff"/>
<path d="M286.2 170.2V187.2M283.3 170.2h5.8M283.3 187.2h5.8" stroke="#0a0aff" stroke-width="1.5" fill="none"/><circle cx="286.2" cy="177.5" r="3.2" fill="#0a0aff"/>
<path d="M125.0 220.6V238.4M122.1 220.6h5.8M122.1 238.4h5.8" stroke="#ff5a0a" stroke-width="1.5" fill="none"/><circle cx="125.0" cy="228.6" r="3.2" fill="#ff5a0a"/>
<path d="M148.1 233.3V240.6M145.2 233.3h5.8M145.2 240.6h5.8" stroke="#ff5a0a" stroke-width="1.5" fill="none"/><circle cx="148.1" cy="237.4" r="3.2" fill="#ff5a0a"/>
<path d="M171.1 208.5V220.1M168.2 208.5h5.8M168.2 220.1h5.8" stroke="#ff5a0a" stroke-width="1.5" fill="none"/><circle cx="171.1" cy="214.3" r="3.2" fill="#ff5a0a"/>
<path d="M194.1 189.7V199.9M191.2 189.7h5.8M191.2 199.9h5.8" stroke="#ff5a0a" stroke-width="1.5" fill="none"/><circle cx="194.1" cy="194.2" r="3.2" fill="#ff5a0a"/>
<path d="M217.1 170.1V181.1M214.2 170.1h5.8M214.2 181.1h5.8" stroke="#ff5a0a" stroke-width="1.5" fill="none"/><circle cx="217.1" cy="175.4" r="3.2" fill="#ff5a0a"/>
<path d="M240.1 164.4V172.0M237.2 164.4h5.8M237.2 172.0h5.8" stroke="#ff5a0a" stroke-width="1.5" fill="none"/><circle cx="240.1" cy="168.5" r="3.2" fill="#ff5a0a"/>
<path d="M263.2 151.8V171.1M260.3 151.8h5.8M260.3 171.1h5.8" stroke="#ff5a0a" stroke-width="1.5" fill="none"/><circle cx="263.2" cy="160.0" r="3.2" fill="#ff5a0a"/>
<path d="M286.2 151.6V163.1M283.3 151.6h5.8M283.3 163.1h5.8" stroke="#ff5a0a" stroke-width="1.5" fill="none"/><circle cx="286.2" cy="156.6" r="3.2" fill="#ff5a0a"/>
</g>
<g clip-path="url(#clipb)">
<path d="M490.6 141.4L605.2 110.1" stroke="#0a0aff" stroke-width="1.6" fill="none"/>
<path d="M490.6 148.0V154.0M487.7 148.0h5.8M487.7 154.0h5.8" stroke="#ff5a0a" stroke-width="1.5" fill="none"/><circle cx="490.6" cy="151.2" r="3.2" fill="#ff5a0a"/>
<path d="M513.5 126.0V131.0M510.6 126.0h5.8M510.6 131.0h5.8" stroke="#ff5a0a" stroke-width="1.5" fill="none"/><circle cx="513.5" cy="128.6" r="3.2" fill="#ff5a0a"/>
<path d="M536.5 127.0V134.0M533.6 127.0h5.8M533.6 134.0h5.8" stroke="#ff5a0a" stroke-width="1.5" fill="none"/><circle cx="536.5" cy="130.3" r="3.2" fill="#ff5a0a"/>
<path d="M559.5 129.6V142.8M556.6 129.6h5.8M556.6 142.8h5.8" stroke="#ff5a0a" stroke-width="1.5" fill="none"/><circle cx="559.5" cy="133.7" r="3.2" fill="#ff5a0a"/>
<path d="M582.5 134.4V146.5M579.6 134.4h5.8M579.6 146.5h5.8" stroke="#ff5a0a" stroke-width="1.5" fill="none"/><circle cx="582.5" cy="140.4" r="3.2" fill="#ff5a0a"/>
<path d="M605.5 103.0V119.0M602.6 103.0h5.8M602.6 119.0h5.8" stroke="#ff5a0a" stroke-width="1.5" fill="none"/><circle cx="605.5" cy="110.0" r="3.2" fill="#ff5a0a"/>
<path d="M628.4 124.2V141.1M625.5 124.2h5.8M625.5 141.1h5.8" stroke="#ff5a0a" stroke-width="1.5" fill="none"/><circle cx="628.4" cy="132.0" r="3.2" fill="#ff5a0a"/>
<circle cx="651.4" cy="161.7" r="3.2" fill="#ff5a0a"/>
<circle cx="490.6" cy="141.4" r="3.2" fill="#0a0aff"/>
<circle cx="513.5" cy="125.3" r="3.2" fill="#0a0aff"/>
<path d="M536.5 122.9V133.0M533.6 122.9h5.8M533.6 133.0h5.8" stroke="#0a0aff" stroke-width="1.5" fill="none"/><circle cx="536.5" cy="127.0" r="3.2" fill="#0a0aff"/>
<circle cx="559.5" cy="126.0" r="3.2" fill="#0a0aff"/>
<path d="M582.5 114.5V124.0M579.6 114.5h5.8M579.6 124.0h5.8" stroke="#0a0aff" stroke-width="1.5" fill="none"/><circle cx="582.5" cy="118.5" r="3.2" fill="#0a0aff"/>
<path d="M605.5 100.0V118.5M602.6 100.0h5.8M602.6 118.5h5.8" stroke="#0a0aff" stroke-width="1.5" fill="none"/><circle cx="605.5" cy="107.7" r="3.2" fill="#0a0aff"/>
<path d="M628.4 120.9V132.0M625.5 120.9h5.8M625.5 132.0h5.8" stroke="#0a0aff" stroke-width="1.5" fill="none"/><circle cx="628.4" cy="127.0" r="3.2" fill="#0a0aff"/>
<path d="M651.4 122.9V160.7M648.5 122.9h5.8M648.5 160.7h5.8" stroke="#0a0aff" stroke-width="1.5" fill="none"/><circle cx="651.4" cy="136.4" r="3.2" fill="#0a0aff"/>
<circle cx="674.4" cy="146.5" r="3.2" fill="#0a0aff"/>
</g>
<g clip-path="url(#clipc)">
<path d="M113.9 558.0L240.1 484.8" stroke="#0a0aff" stroke-width="1.6" fill="none"/>
<path d="M113.9 553.3L240.1 463.6" stroke="#ff5a0a" stroke-width="1.6" fill="none"/>
<path d="M125.5 541.0V548.0M122.6 541.0h5.8M122.6 548.0h5.8" stroke="#0a0aff" stroke-width="1.5" fill="none"/><circle cx="125.5" cy="544.5" r="3.2" fill="#0a0aff"/>
<path d="M148.4 537.0V542.0M145.5 537.0h5.8M145.5 542.0h5.8" stroke="#0a0aff" stroke-width="1.5" fill="none"/><circle cx="148.4" cy="539.8" r="3.2" fill="#0a0aff"/>
<circle cx="171.3" cy="532.0" r="3.2" fill="#0a0aff"/>
<circle cx="194.2" cy="512.8" r="3.2" fill="#0a0aff"/>
<circle cx="217.2" cy="497.7" r="3.2" fill="#0a0aff"/>
<path d="M240.1 477.0V486.0M237.2 477.0h5.8M237.2 486.0h5.8" stroke="#0a0aff" stroke-width="1.5" fill="none"/><circle cx="240.1" cy="481.8" r="3.2" fill="#0a0aff"/>
<path d="M263.0 479.1V493.3M260.1 479.1h5.8M260.1 493.3h5.8" stroke="#0a0aff" stroke-width="1.5" fill="none"/><circle cx="263.0" cy="485.9" r="3.2" fill="#0a0aff"/>
<path d="M286.0 480.0V496.0M283.1 480.0h5.8M283.1 496.0h5.8" stroke="#0a0aff" stroke-width="1.5" fill="none"/><circle cx="286.0" cy="487.2" r="3.2" fill="#0a0aff"/>
<path d="M125.5 530.4V546.0M122.6 530.4h5.8M122.6 546.0h5.8" stroke="#ff5a0a" stroke-width="1.5" fill="none"/><circle cx="125.5" cy="537.8" r="3.2" fill="#ff5a0a"/>
<path d="M148.4 541.0V551.0M145.5 541.0h5.8M145.5 551.0h5.8" stroke="#ff5a0a" stroke-width="1.5" fill="none"/><circle cx="148.4" cy="546.6" r="3.2" fill="#ff5a0a"/>
<path d="M171.3 518.6V528.7M168.4 518.6h5.8M168.4 528.7h5.8" stroke="#ff5a0a" stroke-width="1.5" fill="none"/><circle cx="171.3" cy="523.6" r="3.2" fill="#ff5a0a"/>
<path d="M194.2 497.0V507.0M191.3 497.0h5.8M191.3 507.0h5.8" stroke="#ff5a0a" stroke-width="1.5" fill="none"/><circle cx="194.2" cy="501.7" r="3.2" fill="#ff5a0a"/>
<path d="M217.2 464.6V475.4M214.3 464.6h5.8M214.3 475.4h5.8" stroke="#ff5a0a" stroke-width="1.5" fill="none"/><circle cx="217.2" cy="469.7" r="3.2" fill="#ff5a0a"/>
<path d="M240.1 464.0V473.0M237.2 464.0h5.8M237.2 473.0h5.8" stroke="#ff5a0a" stroke-width="1.5" fill="none"/><circle cx="240.1" cy="468.7" r="3.2" fill="#ff5a0a"/>
<path d="M263.0 467.0V474.0M260.1 467.0h5.8M260.1 474.0h5.8" stroke="#ff5a0a" stroke-width="1.5" fill="none"/><circle cx="263.0" cy="470.7" r="3.2" fill="#ff5a0a"/>
<path d="M286.0 468.0V477.0M283.1 468.0h5.8M283.1 477.0h5.8" stroke="#ff5a0a" stroke-width="1.5" fill="none"/><circle cx="286.0" cy="472.4" r="3.2" fill="#ff5a0a"/>
<circle cx="308.9" cy="474.7" r="3.2" fill="#ff5a0a"/>
</g>
<g clip-path="url(#clipd)">
<path d="M489.7 451.4L604.6 422.8" stroke="#0a0aff" stroke-width="1.6" fill="none"/>
<path d="M489.7 449.0V455.0M486.8 449.0h5.8M486.8 455.0h5.8" stroke="#0a0aff" stroke-width="1.5" fill="none"/><circle cx="489.7" cy="452.1" r="3.2" fill="#0a0aff"/>
<path d="M512.7 433.0V440.0M509.8 433.0h5.8M509.8 440.0h5.8" stroke="#0a0aff" stroke-width="1.5" fill="none"/><circle cx="512.7" cy="436.3" r="3.2" fill="#0a0aff"/>
<path d="M535.7 435.0V441.0M532.8 435.0h5.8M532.8 441.0h5.8" stroke="#0a0aff" stroke-width="1.5" fill="none"/><circle cx="535.7" cy="438.0" r="3.2" fill="#0a0aff"/>
<path d="M558.6 433.0V440.0M555.8 433.0h5.8M555.8 440.0h5.8" stroke="#0a0aff" stroke-width="1.5" fill="none"/><circle cx="558.6" cy="436.3" r="3.2" fill="#0a0aff"/>
<path d="M581.6 425.0V434.0M578.7 425.0h5.8M578.7 434.0h5.8" stroke="#0a0aff" stroke-width="1.5" fill="none"/><circle cx="581.6" cy="429.5" r="3.2" fill="#0a0aff"/>
<path d="M604.6 412.0V429.5M601.7 412.0h5.8M601.7 429.5h5.8" stroke="#0a0aff" stroke-width="1.5" fill="none"/><circle cx="604.6" cy="419.4" r="3.2" fill="#0a0aff"/>
<path d="M627.6 437.0V449.0M624.7 437.0h5.8M624.7 449.0h5.8" stroke="#0a0aff" stroke-width="1.5" fill="none"/><circle cx="627.6" cy="442.0" r="3.2" fill="#0a0aff"/>
<path d="M650.5 433.9V471.0M647.6 433.9h5.8M647.6 471.0h5.8" stroke="#0a0aff" stroke-width="1.5" fill="none"/><circle cx="650.5" cy="446.4" r="3.2" fill="#0a0aff"/>
<circle cx="673.5" cy="457.5" r="3.2" fill="#0a0aff"/>
<path d="M489.7 459.0V465.0M486.8 459.0h5.8M486.8 465.0h5.8" stroke="#ff5a0a" stroke-width="1.5" fill="none"/><circle cx="489.7" cy="462.2" r="3.2" fill="#ff5a0a"/>
<path d="M512.7 435.0V442.0M509.8 435.0h5.8M509.8 442.0h5.8" stroke="#ff5a0a" stroke-width="1.5" fill="none"/><circle cx="512.7" cy="438.6" r="3.2" fill="#ff5a0a"/>
<path d="M535.7 433.0V447.0M532.8 433.0h5.8M532.8 447.0h5.8" stroke="#ff5a0a" stroke-width="1.5" fill="none"/><circle cx="535.7" cy="438.6" r="3.2" fill="#ff5a0a"/>
<path d="M558.6 438.0V453.1M555.8 438.0h5.8M555.8 453.1h5.8" stroke="#ff5a0a" stroke-width="1.5" fill="none"/><circle cx="558.6" cy="444.7" r="3.2" fill="#ff5a0a"/>
<path d="M581.6 445.0V458.0M578.7 445.0h5.8M578.7 458.0h5.8" stroke="#ff5a0a" stroke-width="1.5" fill="none"/><circle cx="581.6" cy="451.4" r="3.2" fill="#ff5a0a"/>
<path d="M604.6 416.0V430.0M601.7 416.0h5.8M601.7 430.0h5.8" stroke="#ff5a0a" stroke-width="1.5" fill="none"/><circle cx="604.6" cy="422.8" r="3.2" fill="#ff5a0a"/>
<path d="M627.6 424.0V433.0M624.7 424.0h5.8M624.7 433.0h5.8" stroke="#ff5a0a" stroke-width="1.5" fill="none"/><circle cx="627.6" cy="428.8" r="3.2" fill="#ff5a0a"/>
<path d="M650.5 440.0V452.0M647.6 440.0h5.8M647.6 452.0h5.8" stroke="#ff5a0a" stroke-width="1.5" fill="none"/><circle cx="650.5" cy="445.7" r="3.2" fill="#ff5a0a"/>
<circle cx="673.5" cy="441.3" r="3.2" fill="#ff5a0a"/>
</g>
<g clip-path="url(#clipe)">
<path d="M113.4 785.0L239.2 714.2" stroke="#0a0aff" stroke-width="1.6" fill="none"/>
<path d="M113.4 766.1L239.2 695.6" stroke="#ff5a0a" stroke-width="1.6" fill="none"/>
<circle cx="124.2" cy="770.5" r="3.2" fill="#ff5a0a"/>
<path d="M147.1 740.8V772.2M144.2 740.8h5.8M144.2 772.2h5.8" stroke="#ff5a0a" stroke-width="1.5" fill="none"/><circle cx="147.1" cy="752.6" r="3.2" fill="#ff5a0a"/>
<path d="M170.1 718.2V767.1M167.2 718.2h5.8M167.2 767.1h5.8" stroke="#ff5a0a" stroke-width="1.5" fill="none"/><circle cx="170.1" cy="734.1" r="3.2" fill="#ff5a0a"/>
<path d="M193.1 704.7V720.9M190.2 704.7h5.8M190.2 720.9h5.8" stroke="#ff5a0a" stroke-width="1.5" fill="none"/><circle cx="193.1" cy="712.1" r="3.2" fill="#ff5a0a"/>
<path d="M216.1 699.7V715.9M213.2 699.7h5.8M213.2 715.9h5.8" stroke="#ff5a0a" stroke-width="1.5" fill="none"/><circle cx="216.1" cy="707.1" r="3.2" fill="#ff5a0a"/>
<path d="M239.1 690.6V710.8M236.2 690.6h5.8M236.2 710.8h5.8" stroke="#ff5a0a" stroke-width="1.5" fill="none"/><circle cx="239.1" cy="701.4" r="3.2" fill="#ff5a0a"/>
<circle cx="262.0" cy="720.9" r="3.2" fill="#ff5a0a"/>
<path d="M124.2 770.5V780.6M121.3 770.5h5.8M121.3 780.6h5.8" stroke="#0a0aff" stroke-width="1.5" fill="none"/><circle cx="124.2" cy="775.6" r="3.2" fill="#0a0aff"/>
<path d="M147.1 765.0V776.0M144.2 765.0h5.8M144.2 776.0h5.8" stroke="#0a0aff" stroke-width="1.5" fill="none"/><circle cx="147.1" cy="769.5" r="3.2" fill="#0a0aff"/>
<path d="M170.1 740.0V753.0M167.2 740.0h5.8M167.2 753.0h5.8" stroke="#0a0aff" stroke-width="1.5" fill="none"/><circle cx="170.1" cy="746.2" r="3.2" fill="#0a0aff"/>
<path d="M193.1 736.0V747.0M190.2 736.0h5.8M190.2 747.0h5.8" stroke="#0a0aff" stroke-width="1.5" fill="none"/><circle cx="193.1" cy="741.2" r="3.2" fill="#0a0aff"/>
<path d="M216.1 721.6V735.8M213.2 721.6h5.8M213.2 735.8h5.8" stroke="#0a0aff" stroke-width="1.5" fill="none"/><circle cx="216.1" cy="728.3" r="3.2" fill="#0a0aff"/>
<path d="M239.1 705.7V729.0M236.2 705.7h5.8M236.2 729.0h5.8" stroke="#0a0aff" stroke-width="1.5" fill="none"/><circle cx="239.1" cy="715.5" r="3.2" fill="#0a0aff"/>
<circle cx="262.0" cy="681.1" r="3.2" fill="#0a0aff"/>
</g>
<g clip-path="url(#clipf)">
<path d="M490.3 742.9L582.0 702.4" stroke="#0a0aff" stroke-width="1.6" fill="none"/>
<path d="M490.3 743.0V752.0M487.4 743.0h5.8M487.4 752.0h5.8" stroke="#0a0aff" stroke-width="1.5" fill="none"/><circle cx="490.3" cy="747.9" r="3.2" fill="#0a0aff"/>
<path d="M513.2 729.0V738.0M510.3 729.0h5.8M510.3 738.0h5.8" stroke="#0a0aff" stroke-width="1.5" fill="none"/><circle cx="513.2" cy="733.4" r="3.2" fill="#0a0aff"/>
<path d="M536.1 718.0V728.0M533.2 718.0h5.8M533.2 728.0h5.8" stroke="#0a0aff" stroke-width="1.5" fill="none"/><circle cx="536.1" cy="723.3" r="3.2" fill="#0a0aff"/>
<path d="M559.0 705.0V717.0M556.1 705.0h5.8M556.1 717.0h5.8" stroke="#0a0aff" stroke-width="1.5" fill="none"/><circle cx="559.0" cy="711.5" r="3.2" fill="#0a0aff"/>
<path d="M582.0 693.6V710.8M579.1 693.6h5.8M579.1 710.8h5.8" stroke="#0a0aff" stroke-width="1.5" fill="none"/><circle cx="582.0" cy="703.0" r="3.2" fill="#0a0aff"/>
<path d="M604.9 740.1V788.0M602.0 740.1h5.8M602.0 788.0h5.8" stroke="#0a0aff" stroke-width="1.5" fill="none"/><circle cx="604.9" cy="755.3" r="3.2" fill="#0a0aff"/>
<path d="M490.3 726.6V773.2M487.4 726.6h5.8M487.4 773.2h5.8" stroke="#ff5a0a" stroke-width="1.5" fill="none"/><circle cx="490.3" cy="741.8" r="3.2" fill="#ff5a0a"/>
<path d="M513.2 735.0V749.2M510.3 735.0h5.8M510.3 749.2h5.8" stroke="#ff5a0a" stroke-width="1.5" fill="none"/><circle cx="513.2" cy="741.2" r="3.2" fill="#ff5a0a"/>
<path d="M536.1 682.8V700.7M533.2 682.8h5.8M533.2 700.7h5.8" stroke="#ff5a0a" stroke-width="1.5" fill="none"/><circle cx="536.1" cy="690.6" r="3.2" fill="#ff5a0a"/>
<path d="M559.0 702.0V721.0M556.1 702.0h5.8M556.1 721.0h5.8" stroke="#ff5a0a" stroke-width="1.5" fill="none"/><circle cx="559.0" cy="709.8" r="3.2" fill="#ff5a0a"/>
<path d="M582.0 707.4V726.6M579.1 707.4h5.8M579.1 726.6h5.8" stroke="#ff5a0a" stroke-width="1.5" fill="none"/><circle cx="582.0" cy="715.5" r="3.2" fill="#ff5a0a"/>
</g>
<path d="M79 261.5H84L83.3 263.5V265.8H79Z" fill="#7030a0"/>
<path d="M444.5 128.9H449.2V131.9H451V134.9H449.2V137.7H444.5Z" fill="#8800dd"/>
<path d="M79.6 570.8H84.7L84 572.5V575.5H79.6Z" fill="#7030a0"/>
<path d="M444.1 440.2H447.9V443H450V446H447.9V448.7H444.1Z" fill="#7030a0"/>
<text x="0.0" y="20.7" font-size="29" font-weight="bold" text-anchor="start" >a</text>
<text x="358.3" y="21.0" font-size="29" font-weight="bold" text-anchor="start" >b</text>
<text x="0.0" y="335.6" font-size="29" font-weight="bold" text-anchor="start" >c</text>
<text x="357.8" y="335.0" font-size="29" font-weight="bold" text-anchor="start" >d</text>
<text x="0.0" y="650.2" font-size="29" font-weight="bold" text-anchor="start" >e</text>
<text x="357.0" y="649.3" font-size="29" font-weight="bold" text-anchor="start" >f</text>
<text x="199.6" y="37.1" font-size="24" font-weight="bold" text-anchor="middle" textLength="117.6" lengthAdjust="spacingAndGlyphs">1 mM ATP</text>
<text x="565.0" y="37.6" font-size="24" font-weight="bold" text-anchor="middle" textLength="147.9" lengthAdjust="spacingAndGlyphs">1 mM ATPγS</text>
<text x="199.8" y="348.5" font-size="24" font-weight="bold" text-anchor="middle" textLength="118.6" lengthAdjust="spacingAndGlyphs">1 mM ATP</text>
<text x="565.0" y="348.9" font-size="24" font-weight="bold" text-anchor="middle" textLength="147.9" lengthAdjust="spacingAndGlyphs">1 mM ATPγS</text>
<text x="194.2" y="662.2" font-size="24" font-weight="bold" text-anchor="middle" textLength="110.1" lengthAdjust="spacingAndGlyphs">1 μM ATP</text>
<text x="560.1" y="662.3" font-size="24" font-weight="bold" text-anchor="middle" textLength="140.8" lengthAdjust="spacingAndGlyphs">1 μM ATPγS</text>
<text x="69.0" y="73.6" font-size="22.6" font-weight="normal" text-anchor="end" >5.00</text>
<text x="69.0" y="147.6" font-size="22.6" font-weight="normal" text-anchor="end" >0.50</text>
<text x="69.0" y="221.1" font-size="22.6" font-weight="normal" text-anchor="end" >0.05</text>
<text x="69.0" y="270.9" font-size="22.6" font-weight="normal" text-anchor="end" >0.01</text>
<text x="77.2" y="292.1" font-size="22" font-weight="normal" text-anchor="middle" >0</text>
<text x="123.2" y="292.1" font-size="22" font-weight="normal" text-anchor="middle" >2</text>
<text x="169.3" y="292.1" font-size="22" font-weight="normal" text-anchor="middle" >4</text>
<text x="215.3" y="292.1" font-size="22" font-weight="normal" text-anchor="middle" >6</text>
<text x="261.4" y="292.1" font-size="22" font-weight="normal" text-anchor="middle" >8</text>
<text x="307.4" y="292.1" font-size="22" font-weight="normal" text-anchor="middle" >10</text>
<text x="156.4" y="314.6" font-size="22.3" font-weight="normal" text-anchor="start" stroke="#161616" stroke-width="0.55" textLength="87.5" lengthAdjust="spacingAndGlyphs">Load pN</text>
<text x="15.9" y="160.5" font-size="22.6" font-weight="normal" text-anchor="middle" transform="rotate(-90 15.9 160.5)">Dwell time s</text>
<text x="433.9" y="74.5" font-size="22.6" font-weight="normal" text-anchor="end" >5.00</text>
<text x="433.9" y="148.5" font-size="22.6" font-weight="normal" text-anchor="end" >0.50</text>
<text x="433.9" y="222.0" font-size="22.6" font-weight="normal" text-anchor="end" >0.05</text>
<text x="433.9" y="271.8" font-size="22.6" font-weight="normal" text-anchor="end" >0.01</text>
<text x="442.8" y="292.1" font-size="22" font-weight="normal" text-anchor="middle" >0</text>
<text x="488.8" y="292.1" font-size="22" font-weight="normal" text-anchor="middle" >2</text>
<text x="534.7" y="292.1" font-size="22" font-weight="normal" text-anchor="middle" >4</text>
<text x="580.7" y="292.1" font-size="22" font-weight="normal" text-anchor="middle" >6</text>
<text x="626.6" y="292.1" font-size="22" font-weight="normal" text-anchor="middle" >8</text>
<text x="672.6" y="292.1" font-size="22" font-weight="normal" text-anchor="middle" >10</text>
<text x="521.8" y="315.0" font-size="22.3" font-weight="normal" text-anchor="start" stroke="#161616" stroke-width="0.55" textLength="87.5" lengthAdjust="spacingAndGlyphs">Load pN</text>
<text x="382.8" y="165.2" font-size="22.6" font-weight="normal" text-anchor="middle" transform="rotate(-90 382.8 165.2)">Dwell time s</text>
<text x="69.6" y="383.8" font-size="22.6" font-weight="normal" text-anchor="end" >5.00</text>
<text x="69.6" y="457.5" font-size="22.6" font-weight="normal" text-anchor="end" >0.50</text>
<text x="69.6" y="530.7" font-size="22.6" font-weight="normal" text-anchor="end" >0.05</text>
<text x="69.6" y="580.3" font-size="22.6" font-weight="normal" text-anchor="end" >0.01</text>
<text x="77.8" y="602.7" font-size="22" font-weight="normal" text-anchor="middle" >0</text>
<text x="123.7" y="602.7" font-size="22" font-weight="normal" text-anchor="middle" >2</text>
<text x="169.5" y="602.7" font-size="22" font-weight="normal" text-anchor="middle" >4</text>
<text x="215.4" y="602.7" font-size="22" font-weight="normal" text-anchor="middle" >6</text>
<text x="261.2" y="602.7" font-size="22" font-weight="normal" text-anchor="middle" >8</text>
<text x="307.1" y="602.7" font-size="22" font-weight="normal" text-anchor="middle" >10</text>
<text x="155.4" y="625.2" font-size="22.3" font-weight="normal" text-anchor="start" stroke="#161616" stroke-width="0.55" textLength="87.5" lengthAdjust="spacingAndGlyphs">Load pN</text>
<text x="15.9" y="473.4" font-size="22.6" font-weight="normal" text-anchor="middle" transform="rotate(-90 15.9 473.4)">Dwell time s</text>
<text x="433.1" y="385.5" font-size="22.6" font-weight="normal" text-anchor="end" >5.00</text>
<text x="433.1" y="459.3" font-size="22.6" font-weight="normal" text-anchor="end" >0.50</text>
<text x="433.1" y="532.7" font-size="22.6" font-weight="normal" text-anchor="end" >0.05</text>
<text x="433.1" y="582.4" font-size="22.6" font-weight="normal" text-anchor="end" >0.01</text>
<text x="442.0" y="602.5" font-size="22" font-weight="normal" text-anchor="middle" >0</text>
<text x="487.9" y="602.5" font-size="22" font-weight="normal" text-anchor="middle" >2</text>
<text x="533.9" y="602.5" font-size="22" font-weight="normal" text-anchor="middle" >4</text>
<text x="579.8" y="602.5" font-size="22" font-weight="normal" text-anchor="middle" >6</text>
<text x="625.8" y="602.5" font-size="22" font-weight="normal" text-anchor="middle" >8</text>
<text x="671.7" y="602.5" font-size="22" font-weight="normal" text-anchor="middle" >10</text>
<text x="521.3" y="625.6" font-size="22.3" font-weight="normal" text-anchor="start" stroke="#161616" stroke-width="0.55" textLength="87.5" lengthAdjust="spacingAndGlyphs">Load pN</text>
<text x="382.8" y="477.8" font-size="22.6" font-weight="normal" text-anchor="middle" transform="rotate(-90 382.8 477.8)">Dwell time s</text>
<text x="68.2" y="699.7" font-size="22.6" font-weight="normal" text-anchor="end" >5.00</text>
<text x="68.2" y="773.7" font-size="22.6" font-weight="normal" text-anchor="end" >0.50</text>
<text x="68.2" y="847.1" font-size="22.6" font-weight="normal" text-anchor="end" >0.05</text>
<text x="68.2" y="896.9" font-size="22.6" font-weight="normal" text-anchor="end" >0.01</text>
<text x="76.4" y="916.1" font-size="22" font-weight="normal" text-anchor="middle" >0</text>
<text x="122.4" y="916.1" font-size="22" font-weight="normal" text-anchor="middle" >2</text>
<text x="168.3" y="916.1" font-size="22" font-weight="normal" text-anchor="middle" >4</text>
<text x="214.3" y="916.1" font-size="22" font-weight="normal" text-anchor="middle" >6</text>
<text x="260.2" y="916.1" font-size="22" font-weight="normal" text-anchor="middle" >8</text>
<text x="306.2" y="916.1" font-size="22" font-weight="normal" text-anchor="middle" >10</text>
<text x="154.4" y="937.9" font-size="22.3" font-weight="normal" text-anchor="start" stroke="#161616" stroke-width="0.55" textLength="87.5" lengthAdjust="spacingAndGlyphs">Load pN</text>
<text x="15.9" y="786.2" font-size="22.6" font-weight="normal" text-anchor="middle" transform="rotate(-90 15.9 786.2)">Dwell time s</text>
<text x="433.8" y="699.5" font-size="22.6" font-weight="normal" text-anchor="end" >5.00</text>
<text x="433.8" y="773.3" font-size="22.6" font-weight="normal" text-anchor="end" >0.50</text>
<text x="433.8" y="846.7" font-size="22.6" font-weight="normal" text-anchor="end" >0.05</text>
<text x="433.8" y="896.4" font-size="22.6" font-weight="normal" text-anchor="end" >0.01</text>
<text x="442.7" y="916.1" font-size="22" font-weight="normal" text-anchor="middle" >0</text>
<text x="488.5" y="916.1" font-size="22" font-weight="normal" text-anchor="middle" >2</text>
<text x="534.3" y="916.1" font-size="22" font-weight="normal" text-anchor="middle" >4</text>
<text x="580.2" y="916.1" font-size="22" font-weight="normal" text-anchor="middle" >6</text>
<text x="626.0" y="916.1" font-size="22" font-weight="normal" text-anchor="middle" >8</text>
<text x="671.8" y="916.1" font-size="22" font-weight="normal" text-anchor="middle" >10</text>
<text x="521.8" y="937.1" font-size="22.3" font-weight="normal" text-anchor="start" stroke="#161616" stroke-width="0.55" textLength="87.5" lengthAdjust="spacingAndGlyphs">Load pN</text>
<text x="382.8" y="790.6" font-size="22.6" font-weight="normal" text-anchor="middle" transform="rotate(-90 382.8 790.6)">Dwell time s</text>
<rect x="98" y="60" width="9" height="9.4" fill="#0a0aff"/>
<rect x="98" y="79.3" width="9" height="9.2" fill="#ff5a0a"/>
<text x="115.5" y="69.9" font-size="17" font-weight="normal" text-anchor="start" textLength="108.5" lengthAdjust="spacingAndGlyphs">Forward steps</text>
<text x="115.5" y="89.7" font-size="17" font-weight="normal" text-anchor="start" textLength="80.5" lengthAdjust="spacingAndGlyphs">Backsteps</text>
<text x="205.2" y="375.8" font-size="20" font-weight="normal" text-anchor="start" fill="#1e1e1e" stroke="#1e1e1e" stroke-width="0.75" textLength="102.5" lengthAdjust="spacingAndGlyphs">Stage Step</text>
<text x="570.2" y="375.5" font-size="20" font-weight="normal" text-anchor="start" fill="#1e1e1e" stroke="#1e1e1e" stroke-width="0.75" textLength="102.5" lengthAdjust="spacingAndGlyphs">Stage Step</text></svg></body></html>
